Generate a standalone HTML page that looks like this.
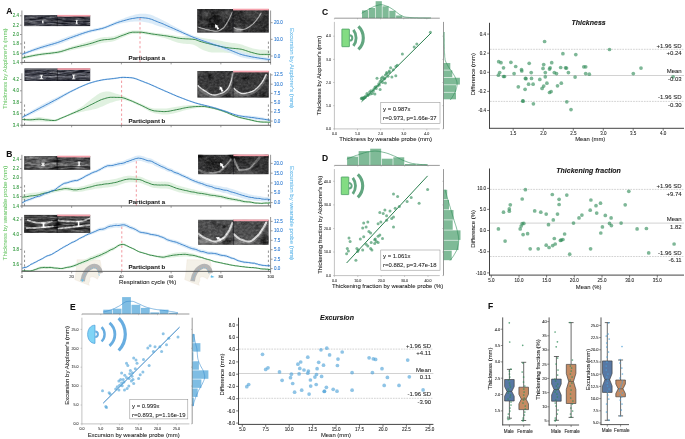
<!DOCTYPE html>
<html><head><meta charset="utf-8"><title>Figure</title>
<style>html,body{margin:0;padding:0;background:#fff;}svg{display:block;}text{font-family:"Liberation Sans",sans-serif;}</style>
</head><body>
<svg width="685" height="439" viewBox="0 0 685 439" style="opacity:0.999">
<rect width="685" height="439" fill="#fff"/>
<defs><filter id="b1" x="-10%" y="-10%" width="120%" height="120%"><feGaussianBlur stdDeviation="0.45"/></filter><filter id="b15" x="-10%" y="-10%" width="120%" height="120%"><feGaussianBlur stdDeviation="0.65"/></filter><filter id="b2" x="-10%" y="-10%" width="120%" height="120%"><feGaussianBlur stdDeviation="0.9"/></filter><filter id="nz" x="0" y="0" width="100%" height="100%"><feTurbulence type="fractalNoise" baseFrequency="0.35 0.5" numOctaves="2" seed="5" result="n"/><feColorMatrix in="n" type="matrix" values="0 0 0 0 1  0 0 0 0 1  0 0 0 0 1  1.1 1.1 0 0 -0.8" result="w"/><feComposite in="w" in2="SourceGraphic" operator="in"/></filter><filter id="nzd" x="0" y="0" width="100%" height="100%"><feTurbulence type="fractalNoise" baseFrequency="0.3 0.45" numOctaves="2" seed="11" result="n"/><feColorMatrix in="n" type="matrix" values="0 0 0 0 0  0 0 0 0 0  0 0 0 0 0  1.1 0 1.1 0 -0.8" result="w"/><feComposite in="w" in2="SourceGraphic" operator="in"/></filter><filter id="nzh" x="0" y="0" width="100%" height="100%"><feTurbulence type="fractalNoise" baseFrequency="0.08 0.6" numOctaves="2" seed="8" result="n"/><feColorMatrix in="n" type="matrix" values="0 0 0 0 1  0 0 0 0 1  0 0 0 0 1  1.2 1.2 0 0 -0.9" result="w"/><feComposite in="w" in2="SourceGraphic" operator="in"/></filter></defs>
<text x="9.40" y="14.20" font-size="8.5" fill="#111" text-anchor="middle" stroke="#111" stroke-width="0.08" font-weight="bold" >A</text>
<text x="9.40" y="157.20" font-size="8.5" fill="#111" text-anchor="middle" stroke="#111" stroke-width="0.08" font-weight="bold" >B</text>
<text x="6.60" y="68.80" font-size="6.05" fill="#72c96f" text-anchor="middle" stroke="#72c96f" stroke-width="0.07" transform="rotate(-90 6.6 68.8)" >Thickness by Aixplorer's (mm)</text>
<text x="6.60" y="213.00" font-size="6.05" fill="#72c96f" text-anchor="middle" stroke="#72c96f" stroke-width="0.07" transform="rotate(-90 6.6 213)" >Thickness by wearable probe (mm)</text>
<text x="289.80" y="68.00" font-size="6.05" fill="#62b8ea" text-anchor="middle" stroke="#62b8ea" stroke-width="0.07" transform="rotate(90 289.8 68)" >Excursion by Aixplorer's (mm)</text>
<text x="289.80" y="213.00" font-size="6.05" fill="#62b8ea" text-anchor="middle" stroke="#62b8ea" stroke-width="0.07" transform="rotate(90 289.8 213)" >Excursion by wearable probe (mm)</text>
<polygon points="22.1,56.5 23.6,56.2 25.0,55.8 26.5,55.5 28.0,55.2 29.5,54.9 30.9,54.6 32.4,54.3 33.9,54.0 35.3,53.7 36.8,53.5 38.3,53.2 39.7,53.0 41.2,52.8 42.7,52.6 44.2,52.4 45.6,52.2 47.1,52.0 48.6,51.9 50.0,51.7 51.5,51.6 53.0,51.4 54.4,51.2 55.9,51.0 57.4,50.7 58.9,50.4 60.3,50.1 61.8,49.6 63.3,49.2 64.7,48.7 66.2,48.2 67.7,47.7 69.2,47.2 70.6,46.7 72.1,46.3 73.6,45.8 75.0,45.4 76.5,45.0 78.0,44.6 79.4,44.2 80.9,43.7 82.4,43.3 83.9,42.9 85.3,42.5 86.8,42.1 88.3,41.6 89.7,41.2 91.2,40.8 92.7,40.3 94.2,39.7 95.6,39.2 97.1,38.7 98.6,38.2 100.0,37.8 101.5,37.5 103.0,37.2 104.4,37.1 105.9,37.0 107.4,36.9 108.9,36.8 110.3,36.7 111.8,36.6 113.3,36.4 114.7,36.1 116.2,35.6 117.7,35.1 119.1,34.5 120.6,34.0 122.1,33.5 123.6,33.0 125.0,32.5 126.5,32.0 128.0,31.5 129.4,31.0 130.9,30.7 132.4,30.5 133.9,30.5 135.3,30.5 136.8,30.6 138.3,30.6 139.7,30.6 141.2,30.6 142.7,30.8 144.1,31.0 145.6,31.2 147.1,31.5 148.6,31.8 150.0,32.1 151.5,32.3 153.0,32.5 154.4,32.7 155.9,32.9 157.4,33.1 158.8,33.3 160.3,33.5 161.8,33.6 163.3,33.8 164.7,34.0 166.2,34.2 167.7,34.4 169.1,34.6 170.6,34.8 172.1,35.0 173.6,35.3 175.0,35.5 176.5,35.7 178.0,35.9 179.4,36.0 180.9,36.2 182.4,36.2 183.8,36.2 185.3,36.2 186.8,36.1 188.3,36.1 189.7,36.0 191.2,36.0 192.7,36.0 194.1,36.0 195.6,36.2 197.1,36.6 198.5,37.0 200.0,37.4 201.5,37.7 203.0,38.0 204.4,38.2 205.9,38.5 207.4,38.7 208.8,38.9 210.3,39.1 211.8,39.4 213.3,39.6 214.7,39.8 216.2,40.1 217.7,40.3 219.1,40.6 220.6,40.8 222.1,41.1 223.5,41.4 225.0,41.7 226.5,42.0 228.0,42.2 229.4,42.4 230.9,42.7 232.4,42.9 233.8,43.1 235.3,43.3 236.8,43.5 238.3,43.7 239.7,44.0 241.2,44.4 242.7,44.8 244.1,45.4 245.6,45.9 247.1,46.5 248.5,47.1 250.0,47.6 251.5,48.1 253.0,48.4 254.4,48.7 255.9,49.1 257.4,49.3 258.8,49.5 260.3,49.7 261.8,49.7 263.2,49.7 264.7,49.8 266.2,49.9 267.7,50.1 269.1,50.3 270.6,50.5 270.6,56.1 269.1,56.2 267.7,56.2 266.2,56.3 264.7,56.4 263.2,56.6 261.8,56.7 260.3,56.9 258.8,56.9 257.4,56.8 255.9,56.7 254.4,56.6 253.0,56.5 251.5,56.3 250.0,56.2 248.5,55.9 247.1,55.6 245.6,55.3 244.1,55.0 242.7,54.6 241.2,54.4 239.7,54.2 238.3,54.1 236.8,53.9 235.3,53.7 233.8,53.6 232.4,53.4 230.9,53.3 229.4,53.1 228.0,53.0 226.5,52.8 225.0,52.7 223.5,52.6 222.1,52.5 220.6,52.5 219.1,52.5 217.7,52.5 216.2,52.5 214.7,52.5 213.3,52.5 211.8,52.4 210.3,52.2 208.8,51.9 207.4,51.6 205.9,51.1 204.4,50.5 203.0,49.9 201.5,49.2 200.0,48.4 198.5,47.5 197.1,46.5 195.6,45.7 194.1,45.0 192.7,44.6 191.2,44.3 189.7,44.1 188.3,44.0 186.8,43.9 185.3,43.8 183.8,43.7 182.4,43.5 180.9,43.3 179.4,43.1 178.0,42.7 176.5,42.3 175.0,41.8 173.6,41.2 172.1,40.7 170.6,40.1 169.1,39.5 167.7,39.0 166.2,38.6 164.7,38.1 163.3,37.7 161.8,37.4 160.3,37.0 158.8,36.7 157.4,36.4 155.9,36.2 154.4,35.9 153.0,35.7 151.5,35.4 150.0,35.2 148.6,34.9 147.1,34.6 145.6,34.4 144.1,34.1 142.7,33.9 141.2,33.8 139.7,33.8 138.3,33.8 136.8,33.9 135.3,33.9 133.9,33.9 132.4,34.0 130.9,34.3 129.4,34.7 128.0,35.2 126.5,35.8 125.0,36.5 123.6,37.1 122.1,37.7 120.6,38.3 119.1,39.0 117.7,39.7 116.2,40.3 114.7,40.9 113.3,41.3 111.8,41.7 110.3,41.9 108.9,42.1 107.4,42.3 105.9,42.4 104.4,42.6 103.0,42.8 101.5,43.1 100.0,43.4 98.6,43.8 97.1,44.3 95.6,44.7 94.2,45.2 92.7,45.6 91.2,46.1 89.7,46.4 88.3,46.7 86.8,47.0 85.3,47.3 83.9,47.6 82.4,47.9 80.9,48.2 79.4,48.5 78.0,48.8 76.5,49.1 75.0,49.4 73.6,49.7 72.1,50.0 70.6,50.4 69.2,50.7 67.7,51.2 66.2,51.6 64.7,52.0 63.3,52.5 61.8,52.9 60.3,53.3 58.9,53.6 57.4,53.9 55.9,54.1 54.4,54.3 53.0,54.5 51.5,54.6 50.0,54.8 48.6,54.9 47.1,55.1 45.6,55.2 44.2,55.4 42.7,55.6 41.2,55.8 39.7,56.0 38.3,56.2 36.8,56.5 35.3,56.7 33.9,57.0 32.4,57.3 30.9,57.6 29.5,57.9 28.0,58.2 26.5,58.5 25.0,58.8 23.6,59.2 22.1,59.5" fill="#dbeedb" opacity="0.85"/>
<polygon points="22.1,52.8 23.6,52.2 25.0,51.6 26.5,51.0 28.0,50.5 29.5,49.9 30.9,49.3 32.4,48.8 33.9,48.2 35.3,47.6 36.8,47.1 38.3,46.6 39.7,46.0 41.2,45.5 42.7,45.0 44.2,44.5 45.6,44.1 47.1,43.6 48.6,43.2 50.0,42.7 51.5,42.3 53.0,41.8 54.4,41.4 55.9,40.9 57.4,40.4 58.9,39.9 60.3,39.4 61.8,38.8 63.3,38.3 64.7,37.7 66.2,37.2 67.7,36.6 69.2,36.1 70.6,35.6 72.1,35.1 73.6,34.6 75.0,34.1 76.5,33.6 78.0,33.1 79.4,32.6 80.9,32.2 82.4,31.7 83.9,31.2 85.3,30.8 86.8,30.4 88.3,30.0 89.7,29.6 91.2,29.2 92.7,28.9 94.2,28.6 95.6,28.3 97.1,28.0 98.6,27.7 100.0,27.4 101.5,27.1 103.0,26.7 104.4,26.2 105.9,25.7 107.4,25.1 108.9,24.5 110.3,23.8 111.8,23.2 113.3,22.5 114.7,21.8 116.2,21.2 117.7,20.6 119.1,20.1 120.6,19.5 122.1,19.0 123.6,18.4 125.0,17.8 126.5,17.3 128.0,16.8 129.4,16.3 130.9,15.8 132.4,15.4 133.9,15.0 135.3,14.6 136.8,14.3 138.3,14.0 139.7,13.8 141.2,13.7 142.7,13.7 144.1,13.7 145.6,13.8 147.1,14.0 148.6,14.2 150.0,14.6 151.5,15.0 153.0,15.6 154.4,16.3 155.9,16.9 157.4,17.6 158.8,18.3 160.3,19.0 161.8,19.7 163.3,20.5 164.7,21.2 166.2,22.0 167.7,22.8 169.1,23.6 170.6,24.4 172.1,25.2 173.6,26.0 175.0,26.8 176.5,27.5 178.0,28.3 179.4,29.1 180.9,29.8 182.4,30.6 183.8,31.3 185.3,32.0 186.8,32.7 188.3,33.4 189.7,34.1 191.2,34.7 192.7,35.3 194.1,35.9 195.6,36.5 197.1,37.0 198.5,37.5 200.0,38.0 201.5,38.5 203.0,39.0 204.4,39.4 205.9,39.9 207.4,40.3 208.8,40.8 210.3,41.2 211.8,41.7 213.3,42.1 214.7,42.5 216.2,42.9 217.7,43.3 219.1,43.7 220.6,44.2 222.1,44.6 223.5,45.0 225.0,45.5 226.5,45.9 228.0,46.5 229.4,47.0 230.9,47.6 232.4,48.2 233.8,48.8 235.3,49.4 236.8,50.0 238.3,50.6 239.7,51.2 241.2,51.7 242.7,52.2 244.1,52.6 245.6,53.0 247.1,53.3 248.5,53.7 250.0,54.0 251.5,54.4 253.0,54.7 254.4,55.0 255.9,55.3 257.4,55.6 258.8,55.9 260.3,56.2 261.8,56.5 263.2,56.8 264.7,57.0 266.2,57.3 267.7,57.5 269.1,57.7 270.6,57.9 270.6,61.3 269.1,61.1 267.7,61.0 266.2,60.9 264.7,60.7 263.2,60.6 261.8,60.4 260.3,60.3 258.8,60.1 257.4,60.0 255.9,59.8 254.4,59.6 253.0,59.4 251.5,59.2 250.0,59.0 248.5,58.7 247.1,58.5 245.6,58.2 244.1,57.9 242.7,57.6 241.2,57.2 239.7,56.7 238.3,56.2 236.8,55.6 235.3,55.0 233.8,54.4 232.4,53.8 230.9,53.1 229.4,52.5 228.0,51.9 226.5,51.3 225.0,50.8 223.5,50.2 222.1,49.7 220.6,49.1 219.1,48.6 217.7,48.1 216.2,47.5 214.7,47.0 213.3,46.5 211.8,45.9 210.3,45.4 208.8,44.8 207.4,44.3 205.9,43.7 204.4,43.2 203.0,42.6 201.5,42.0 200.0,41.5 198.5,40.9 197.1,40.4 195.6,39.8 194.1,39.2 192.7,38.7 191.2,38.1 189.7,37.5 188.3,36.9 186.8,36.2 185.3,35.6 183.8,35.0 182.4,34.4 180.9,33.8 179.4,33.3 178.0,32.7 176.5,32.2 175.0,31.6 173.6,31.1 172.1,30.6 170.6,30.1 169.1,29.6 167.7,29.1 166.2,28.6 164.7,28.1 163.3,27.6 161.8,27.1 160.3,26.7 158.8,26.2 157.4,25.7 155.9,25.2 154.4,24.7 153.0,24.1 151.5,23.6 150.0,23.2 148.6,22.8 147.1,22.5 145.6,22.2 144.1,22.0 142.7,21.8 141.2,21.6 139.7,21.4 138.3,21.4 136.8,21.4 135.3,21.5 133.9,21.6 132.4,21.7 130.9,21.8 129.4,22.0 128.0,22.2 126.5,22.4 125.0,22.7 123.6,23.0 122.1,23.3 120.6,23.6 119.1,24.0 117.7,24.4 116.2,24.8 114.7,25.3 113.3,25.9 111.8,26.4 110.3,27.0 108.9,27.6 107.4,28.2 105.9,28.7 104.4,29.2 103.0,29.7 101.5,30.1 100.0,30.4 98.6,30.8 97.1,31.1 95.6,31.4 94.2,31.7 92.7,32.1 91.2,32.5 89.7,32.9 88.3,33.3 86.8,33.8 85.3,34.3 83.9,34.8 82.4,35.3 80.9,35.9 79.4,36.4 78.0,37.0 76.5,37.5 75.0,38.1 73.6,38.7 72.1,39.2 70.6,39.8 69.2,40.3 67.7,40.9 66.2,41.5 64.7,42.1 63.3,42.7 61.8,43.2 60.3,43.8 58.9,44.3 57.4,44.8 55.9,45.3 54.4,45.7 53.0,46.1 51.5,46.5 50.0,46.9 48.6,47.3 47.1,47.7 45.6,48.1 44.2,48.5 42.7,48.9 41.2,49.3 39.7,49.8 38.3,50.2 36.8,50.7 35.3,51.2 33.9,51.6 32.4,52.1 30.9,52.6 29.5,53.1 28.0,53.6 26.5,54.2 25.0,54.7 23.6,55.2 22.1,55.8" fill="#d5e8f7" opacity="0.85"/>
<line x1="140.00" y1="62.40" x2="140.00" y2="18.11" stroke="#e8525e" stroke-width="0.6" stroke-dasharray="2.4 2.3" />
<line x1="24.55" y1="41.60" x2="24.55" y2="62.40" stroke="#444" stroke-width="0.6" stroke-dasharray="2.3 2.3" />
<line x1="268.40" y1="41.60" x2="268.40" y2="62.40" stroke="#444" stroke-width="0.6" stroke-dasharray="2.3 2.3" />
<polyline points="22.1,58.0 23.6,57.7 25.0,57.3 26.5,57.0 28.0,56.7 29.5,56.4 30.9,56.1 32.4,55.8 33.9,55.5 35.3,55.2 36.8,55.0 38.3,54.7 39.7,54.5 41.2,54.3 42.7,54.1 44.2,53.9 45.6,53.7 47.1,53.6 48.6,53.4 50.0,53.3 51.5,53.1 53.0,52.9 54.4,52.7 55.9,52.5 57.4,52.3 58.9,52.0 60.3,51.7 61.8,51.3 63.3,50.8 64.7,50.4 66.2,49.9 67.7,49.4 69.2,48.9 70.6,48.5 72.1,48.1 73.6,47.7 75.0,47.3 76.5,47.0 78.0,46.6 79.4,46.3 80.9,45.9 82.4,45.6 83.9,45.2 85.3,44.9 86.8,44.5 88.3,44.1 89.7,43.7 91.2,43.3 92.7,42.9 94.2,42.4 95.6,41.9 97.1,41.4 98.6,40.9 100.0,40.5 101.5,40.2 103.0,39.9 104.4,39.7 105.9,39.6 107.4,39.5 108.9,39.4 110.3,39.2 111.8,39.0 113.3,38.8 114.7,38.4 116.2,37.9 117.7,37.3 119.1,36.7 120.6,36.1 122.1,35.5 123.6,35.0 125.0,34.5 126.5,33.9 128.0,33.3 129.4,32.8 130.9,32.5 132.4,32.2 133.9,32.2 135.3,32.2 136.8,32.2 138.3,32.2 139.7,32.2 141.2,32.2 142.7,32.4 144.1,32.6 145.6,32.8 147.1,33.1 148.6,33.4 150.0,33.6 151.5,33.9 153.0,34.1 154.4,34.3 155.9,34.5 157.4,34.7 158.8,34.9 160.3,35.1 161.8,35.3 163.3,35.5 164.7,35.7 166.2,35.9 167.7,36.1 169.1,36.4 170.6,36.7 172.1,36.9 173.6,37.2 175.0,37.5 176.5,37.8 178.0,38.1 179.4,38.3 180.9,38.5 182.4,38.6 183.8,38.7 185.3,38.8 186.8,38.9 188.3,38.9 189.7,39.0 191.2,39.1 192.7,39.2 194.1,39.4 195.6,39.7 197.1,40.2 198.5,40.8 200.0,41.4 201.5,41.8 203.0,42.2 204.4,42.6 205.9,43.0 207.4,43.4 208.8,43.7 210.3,44.1 211.8,44.4 213.3,44.8 214.7,45.1 216.2,45.4 217.7,45.7 219.1,46.0 220.6,46.4 222.1,46.7 223.5,47.0 225.0,47.3 226.5,47.5 228.0,47.8 229.4,48.0 230.9,48.1 232.4,48.3 233.8,48.4 235.3,48.5 236.8,48.7 238.3,48.8 239.7,49.0 241.2,49.2 242.7,49.6 244.1,50.0 245.6,50.5 247.1,51.0 248.5,51.5 250.0,52.0 251.5,52.4 253.0,52.8 254.4,53.2 255.9,53.6 257.4,53.9 258.8,54.2 260.3,54.4 261.8,54.4 263.2,54.4 264.7,54.4 266.2,54.4 267.7,54.4 269.1,54.4 270.6,54.4" fill="none" stroke="#1f7a33" stroke-width="0.88" stroke-linejoin="round"/>
<polyline points="22.1,54.3 23.6,53.7 25.0,53.2 26.5,52.6 28.0,52.0 29.5,51.5 30.9,51.0 32.4,50.4 33.9,49.9 35.3,49.4 36.8,48.9 38.3,48.4 39.7,47.9 41.2,47.4 42.7,47.0 44.2,46.5 45.6,46.1 47.1,45.7 48.6,45.2 50.0,44.8 51.5,44.4 53.0,44.0 54.4,43.5 55.9,43.1 57.4,42.6 58.9,42.1 60.3,41.6 61.8,41.0 63.3,40.5 64.7,39.9 66.2,39.3 67.7,38.8 69.2,38.2 70.6,37.7 72.1,37.2 73.6,36.6 75.0,36.1 76.5,35.6 78.0,35.1 79.4,34.5 80.9,34.0 82.4,33.5 83.9,33.0 85.3,32.5 86.8,32.1 88.3,31.6 89.7,31.2 91.2,30.8 92.7,30.5 94.2,30.2 95.6,29.9 97.1,29.6 98.6,29.3 100.0,28.9 101.5,28.6 103.0,28.2 104.4,27.7 105.9,27.2 107.4,26.6 108.9,26.0 110.3,25.4 111.8,24.8 113.3,24.2 114.7,23.6 116.2,23.0 117.7,22.5 119.1,22.0 120.6,21.6 122.1,21.1 123.6,20.7 125.0,20.3 126.5,19.9 128.0,19.5 129.4,19.1 130.9,18.8 132.4,18.5 133.9,18.3 135.3,18.1 136.8,17.8 138.3,17.7 139.7,17.6 141.2,17.6 142.7,17.7 144.1,17.9 145.6,18.0 147.1,18.2 148.6,18.5 150.0,18.9 151.5,19.3 153.0,19.9 154.4,20.5 155.9,21.1 157.4,21.7 158.8,22.3 160.3,22.8 161.8,23.4 163.3,24.0 164.7,24.7 166.2,25.3 167.7,26.0 169.1,26.6 170.6,27.3 172.1,27.9 173.6,28.6 175.0,29.2 176.5,29.9 178.0,30.5 179.4,31.2 180.9,31.8 182.4,32.5 183.8,33.2 185.3,33.8 186.8,34.5 188.3,35.1 189.7,35.8 191.2,36.4 192.7,37.0 194.1,37.6 195.6,38.1 197.1,38.7 198.5,39.2 200.0,39.8 201.5,40.3 203.0,40.8 204.4,41.3 205.9,41.8 207.4,42.3 208.8,42.8 210.3,43.3 211.8,43.8 213.3,44.3 214.7,44.8 216.2,45.2 217.7,45.7 219.1,46.2 220.6,46.6 222.1,47.1 223.5,47.6 225.0,48.1 226.5,48.6 228.0,49.2 229.4,49.8 230.9,50.4 232.4,51.0 233.8,51.6 235.3,52.2 236.8,52.8 238.3,53.4 239.7,54.0 241.2,54.4 242.7,54.9 244.1,55.2 245.6,55.6 247.1,55.9 248.5,56.2 250.0,56.5 251.5,56.8 253.0,57.1 254.4,57.3 255.9,57.6 257.4,57.8 258.8,58.0 260.3,58.3 261.8,58.5 263.2,58.7 264.7,58.9 266.2,59.1 267.7,59.3 269.1,59.4 270.6,59.6" fill="none" stroke="#2a78c6" stroke-width="0.88" stroke-linejoin="round"/>
<line x1="21.90" y1="10.50" x2="21.90" y2="64.60" stroke="#8a8a8a" stroke-width="0.9" />
<line x1="270.60" y1="10.50" x2="270.60" y2="64.60" stroke="#8a8a8a" stroke-width="0.9" />
<line x1="21.50" y1="62.40" x2="271.00" y2="62.40" stroke="#5a5a5a" stroke-width="0.95" />
<line x1="20.00" y1="15.80" x2="21.60" y2="15.80" stroke="#555" stroke-width="0.6" />
<text x="18.90" y="17.35" font-size="4.5" fill="#2a9636" text-anchor="end" stroke="#2a9636" stroke-width="0.07" >2.4</text>
<line x1="20.00" y1="25.20" x2="21.60" y2="25.20" stroke="#555" stroke-width="0.6" />
<text x="18.90" y="26.75" font-size="4.5" fill="#2a9636" text-anchor="end" stroke="#2a9636" stroke-width="0.07" >2.2</text>
<line x1="20.00" y1="34.50" x2="21.60" y2="34.50" stroke="#555" stroke-width="0.6" />
<text x="18.90" y="36.05" font-size="4.5" fill="#2a9636" text-anchor="end" stroke="#2a9636" stroke-width="0.07" >2.0</text>
<line x1="20.00" y1="43.90" x2="21.60" y2="43.90" stroke="#555" stroke-width="0.6" />
<text x="18.90" y="45.45" font-size="4.5" fill="#2a9636" text-anchor="end" stroke="#2a9636" stroke-width="0.07" >1.8</text>
<line x1="20.00" y1="53.20" x2="21.60" y2="53.20" stroke="#555" stroke-width="0.6" />
<text x="18.90" y="54.75" font-size="4.5" fill="#2a9636" text-anchor="end" stroke="#2a9636" stroke-width="0.07" >1.6</text>
<line x1="20.00" y1="62.60" x2="21.60" y2="62.60" stroke="#555" stroke-width="0.6" />
<text x="18.90" y="64.15" font-size="4.5" fill="#2a9636" text-anchor="end" stroke="#2a9636" stroke-width="0.07" >1.4</text>
<line x1="270.90" y1="22.70" x2="272.60" y2="22.70" stroke="#555" stroke-width="0.6" />
<text x="273.90" y="24.25" font-size="4.5" fill="#1f72cf" text-anchor="start" stroke="#1f72cf" stroke-width="0.07" >20.0</text>
<line x1="270.90" y1="39.30" x2="272.60" y2="39.30" stroke="#555" stroke-width="0.6" />
<text x="273.90" y="40.85" font-size="4.5" fill="#1f72cf" text-anchor="start" stroke="#1f72cf" stroke-width="0.07" >10.0</text>
<line x1="270.90" y1="56.00" x2="272.60" y2="56.00" stroke="#555" stroke-width="0.6" />
<text x="273.90" y="57.55" font-size="4.5" fill="#1f72cf" text-anchor="start" stroke="#1f72cf" stroke-width="0.07" >0.0</text>
<line x1="71.64" y1="62.40" x2="71.64" y2="64.40" stroke="#666" stroke-width="0.6" />
<line x1="121.38" y1="62.40" x2="121.38" y2="64.40" stroke="#666" stroke-width="0.6" />
<line x1="171.12" y1="62.40" x2="171.12" y2="64.40" stroke="#666" stroke-width="0.6" />
<line x1="220.86" y1="62.40" x2="220.86" y2="64.40" stroke="#666" stroke-width="0.6" />
<text x="146.90" y="60.00" font-size="6.1" fill="#222" text-anchor="middle" stroke="#222" stroke-width="0.08" font-weight="bold" >Participant a</text>
<clipPath id="c24_15"><rect x="24.2" y="15.2" width="66" height="10.9"/></clipPath>
<rect x="24.20" y="15.20" width="66.00" height="10.90" fill="#191b27" stroke="none" stroke-width="0" />
<g clip-path="url(#c24_15)">
<g filter="url(#b1)">
<line x1="25.2" y1="18.2" x2="41.1" y2="17.3" stroke="#8a8d98" stroke-width="0.44" opacity="0.39"/>
<line x1="65.5" y1="24.5" x2="88.8" y2="23.7" stroke="#8a8d98" stroke-width="0.72" opacity="0.35"/>
<line x1="25.3" y1="17.6" x2="37.6" y2="18.1" stroke="#8a8d98" stroke-width="0.90" opacity="0.53"/>
<line x1="30.4" y1="23.4" x2="44.6" y2="23.4" stroke="#8a8d98" stroke-width="0.84" opacity="0.55"/>
<line x1="24.2" y1="24.2" x2="44.3" y2="24.2" stroke="#8a8d98" stroke-width="0.70" opacity="0.31"/>
<line x1="24.4" y1="20.4" x2="51.1" y2="20.8" stroke="#8a8d98" stroke-width="0.73" opacity="0.36"/>
<line x1="52.3" y1="24.5" x2="77.9" y2="24.8" stroke="#8a8d98" stroke-width="0.71" opacity="0.39"/>
<line x1="44.1" y1="21.6" x2="55.3" y2="20.9" stroke="#8a8d98" stroke-width="0.89" opacity="0.27"/>
<line x1="55.4" y1="16.4" x2="69.0" y2="16.2" stroke="#8a8d98" stroke-width="0.68" opacity="0.37"/>
<line x1="30.5" y1="25.3" x2="46.8" y2="24.4" stroke="#8a8d98" stroke-width="0.78" opacity="0.35"/>
<line x1="62.4" y1="19.3" x2="76.8" y2="19.1" stroke="#8a8d98" stroke-width="0.94" opacity="0.29"/>
<line x1="32.4" y1="16.6" x2="55.7" y2="16.5" stroke="#8a8d98" stroke-width="0.54" opacity="0.37"/>
<line x1="45.7" y1="17.7" x2="54.6" y2="17.7" stroke="#8a8d98" stroke-width="0.94" opacity="0.58"/>
<line x1="74.7" y1="22.8" x2="83.0" y2="22.2" stroke="#8a8d98" stroke-width="0.98" opacity="0.52"/>
<line x1="73.7" y1="19.8" x2="94.1" y2="20.1" stroke="#8a8d98" stroke-width="0.58" opacity="0.32"/>
<line x1="27.1" y1="20.1" x2="42.7" y2="20.7" stroke="#8a8d98" stroke-width="0.60" opacity="0.25"/>
<line x1="29.0" y1="16.4" x2="52.7" y2="15.9" stroke="#8a8d98" stroke-width="0.57" opacity="0.28"/>
<line x1="43.7" y1="25.1" x2="55.9" y2="24.0" stroke="#8a8d98" stroke-width="0.43" opacity="0.31"/>
<line x1="27.8" y1="22.3" x2="36.7" y2="22.0" stroke="#8a8d98" stroke-width="0.55" opacity="0.60"/>
<line x1="49.8" y1="17.1" x2="73.3" y2="16.7" stroke="#8a8d98" stroke-width="0.99" opacity="0.42"/>
<line x1="42.9" y1="18.2" x2="51.7" y2="17.8" stroke="#8a8d98" stroke-width="0.55" opacity="0.56"/>
<line x1="48.0" y1="23.7" x2="56.7" y2="23.0" stroke="#8a8d98" stroke-width="0.55" opacity="0.32"/>
<polyline points="24.0,21.2 25.4,21.4 26.9,21.5 28.3,21.7 29.7,21.8 31.2,21.9 32.6,22.0 34.0,22.1 35.5,22.2 36.9,22.3 38.3,22.3 39.8,22.3 41.2,22.3 42.7,22.3 44.1,22.3 45.5,22.2 47.0,22.2 48.4,22.1 49.8,22.0 51.3,21.9 52.7,21.8 54.1,21.7 55.6,21.6 57.0,21.4" fill="none" stroke="#9a9ca8" stroke-width="0.7" opacity="0.5" stroke-linecap="round"/>
<polyline points="57.0,21.6 58.4,21.8 59.9,22.1 61.3,22.3 62.7,22.5 64.2,22.6 65.6,22.8 67.0,22.9 68.5,23.0 69.9,23.1 71.3,23.2 72.8,23.2 74.2,23.2 75.7,23.2 77.1,23.2 78.5,23.1 80.0,23.1 81.4,23.0 82.8,22.9 84.3,22.8 85.7,22.7 87.1,22.6 88.6,22.4 90.0,22.2" fill="none" stroke="#9a9ca8" stroke-width="0.7" opacity="0.5" stroke-linecap="round"/>
</g>
<rect x="24.2" y="15.2" width="66" height="10.9" fill="#fff" filter="url(#nzh)" opacity="0.5"/>
<rect x="24.2" y="15.2" width="66" height="10.9" fill="#000" filter="url(#nzd)" opacity="0.4"/>
</g>
<line x1="57.20" y1="15.20" x2="57.20" y2="26.10" stroke="#0c0c10" stroke-width="0.6" />
<rect x="57.20" y="14.90" width="33.00" height="1.70" fill="#f6a2ad" stroke="none" stroke-width="0" />
<line x1="42.80" y1="21.00" x2="42.80" y2="22.80" stroke="#fff" stroke-width="1.1" />
<line x1="42.00" y1="21.00" x2="43.60" y2="21.00" stroke="#fff" stroke-width="0.8" />
<line x1="42.00" y1="22.80" x2="43.60" y2="22.80" stroke="#fff" stroke-width="0.8" />
<line x1="76.70" y1="20.40" x2="76.70" y2="23.40" stroke="#fff" stroke-width="1.2" />
<line x1="75.70" y1="20.40" x2="77.70" y2="20.40" stroke="#fff" stroke-width="0.8" />
<line x1="75.70" y1="23.40" x2="77.70" y2="23.40" stroke="#fff" stroke-width="0.8" />
<clipPath id="c197_9"><rect x="197.2" y="9.0" width="71.6" height="23.6"/></clipPath>
<rect x="197.20" y="9.00" width="71.60" height="23.60" fill="#222223" stroke="none" stroke-width="0" />
<g clip-path="url(#c197_9)">
<g filter="url(#b2)">
<ellipse cx="212" cy="20" rx="8" ry="7" fill="#080808" opacity="0.85"/>
<ellipse cx="226" cy="15" rx="6" ry="4" fill="#484848" opacity="0.6"/>
<ellipse cx="254" cy="15" rx="11" ry="5" fill="#4a4a4a" opacity="0.6"/>
<ellipse cx="252" cy="27" rx="9" ry="3" fill="#404040" opacity="0.5"/>
<ellipse cx="238" cy="30" rx="4.5" ry="2.2" fill="#c0c0c0" opacity="0.75"/>
<ellipse cx="204" cy="30.5" rx="7" ry="1.8" fill="#7a7a7a" opacity="0.6"/>
<ellipse cx="220.4" cy="12.6" rx="4.6" ry="1.1" fill="#777" opacity="0.45"/>
<ellipse cx="203.9" cy="22.8" rx="5.6" ry="1.4" fill="#6a6a6a" opacity="0.45"/>
<ellipse cx="228.2" cy="10.6" rx="2.4" ry="1.8" fill="#777" opacity="0.45"/>
<ellipse cx="206.1" cy="14.3" rx="4.5" ry="2.9" fill="#777" opacity="0.45"/>
<ellipse cx="239.1" cy="10.2" rx="2.9" ry="2.1" fill="#101010" opacity="0.45"/>
<ellipse cx="217.9" cy="12.4" rx="2.5" ry="1.6" fill="#101010" opacity="0.45"/>
<ellipse cx="204.6" cy="22.5" rx="2.8" ry="1.2" fill="#6a6a6a" opacity="0.45"/>
<ellipse cx="237.6" cy="23.6" rx="4.0" ry="2.1" fill="#555" opacity="0.45"/>
</g>
<g filter="url(#b15)">
<polyline points="197.9,26.9 199.4,27.4 200.9,27.9 202.4,28.4 203.9,28.8 205.4,29.2 206.9,29.5 208.4,29.9 209.9,30.3 211.4,30.6 212.9,30.9 214.4,31.2 215.8,31.3 217.3,31.2 218.8,30.7 220.3,30.0 221.8,29.0 223.3,28.0 224.8,26.3 226.3,24.0 227.8,21.5 229.3,18.8 230.8,15.6 232.3,12.0" fill="none" stroke="#c4c4c4" stroke-width="1.1" opacity="0.85" stroke-linecap="round"/>
<polyline points="234.0,27.6 235.2,28.2 236.3,28.7 237.5,29.1 238.7,29.3 239.9,29.5 241.0,29.6 242.2,29.6 243.4,29.5 244.6,29.2 245.7,28.8 246.9,28.2 248.1,27.5 249.3,26.8 250.4,26.0 251.6,25.1 252.8,24.1 254.0,22.9 255.1,21.6 256.3,20.3 257.5,18.7 258.7,17.0 259.8,15.1 261.0,13.1" fill="none" stroke="#c8c8c8" stroke-width="1.2" opacity="0.85" stroke-linecap="round"/>
</g>
<rect x="197.2" y="9.0" width="71.6" height="23.6" fill="#fff" filter="url(#nz)" opacity="0.22"/>
<rect x="197.2" y="9.0" width="71.6" height="23.6" fill="#000" filter="url(#nzd)" opacity="0.17600000000000002"/>
</g>
<line x1="233.00" y1="9.00" x2="233.00" y2="32.60" stroke="#0c0c10" stroke-width="0.6" />
<rect x="233.00" y="8.70" width="35.80" height="1.70" fill="#f6a2ad" stroke="none" stroke-width="0" />
<path d="M0,0 L2.0,3.4 L0.75,3.1 L1.05,6.0 L-1.05,6.0 L-0.75,3.1 L-2.0,3.4 Z" fill="#fff" transform="translate(215.0,24.3) rotate(-35)"/>
<polygon points="22.1,118.4 23.6,118.5 25.0,118.5 26.5,118.5 28.0,118.4 29.5,118.3 30.9,118.2 32.4,118.0 33.9,117.8 35.3,117.5 36.8,117.3 38.3,117.1 39.7,117.1 41.2,117.2 42.7,117.4 44.2,117.7 45.6,118.0 47.1,118.3 48.6,118.5 50.0,118.8 51.5,119.0 53.0,119.2 54.4,119.3 55.9,119.2 57.4,118.7 58.9,118.1 60.3,117.5 61.8,116.9 63.3,116.3 64.7,115.7 66.2,115.1 67.7,114.4 69.2,113.7 70.6,113.0 72.1,112.3 73.6,111.5 75.0,110.8 76.5,110.0 78.0,109.1 79.4,108.2 80.9,107.3 82.4,106.2 83.9,105.2 85.3,104.0 86.8,102.8 88.3,101.6 89.7,100.4 91.2,99.2 92.7,98.1 94.2,97.0 95.6,95.9 97.1,94.8 98.6,93.9 100.0,93.1 101.5,92.5 103.0,92.1 104.4,91.8 105.9,91.6 107.4,91.5 108.9,91.5 110.3,91.8 111.8,92.3 113.3,92.7 114.7,93.2 116.2,93.7 117.7,94.1 119.1,94.5 120.6,94.9 122.1,95.3 123.6,95.9 125.0,96.6 126.5,97.3 128.0,98.0 129.4,98.7 130.9,99.3 132.4,100.0 133.9,100.6 135.3,101.3 136.8,102.0 138.3,102.6 139.7,103.2 141.2,103.8 142.7,104.4 144.1,105.1 145.6,105.7 147.1,106.4 148.6,107.0 150.0,107.5 151.5,108.0 153.0,108.3 154.4,108.5 155.9,108.5 157.4,108.6 158.8,108.6 160.3,108.6 161.8,108.6 163.3,108.6 164.7,108.6 166.2,108.5 167.7,108.3 169.1,108.1 170.6,107.8 172.1,107.6 173.6,107.3 175.0,107.0 176.5,106.8 178.0,106.5 179.4,106.3 180.9,106.1 182.4,105.8 183.8,105.6 185.3,105.4 186.8,105.2 188.3,105.1 189.7,105.0 191.2,105.0 192.7,105.0 194.1,105.0 195.6,105.0 197.1,105.0 198.5,105.0 200.0,105.0 201.5,105.1 203.0,105.1 204.4,105.3 205.9,105.6 207.4,105.8 208.8,106.2 210.3,106.5 211.8,106.8 213.3,107.2 214.7,107.6 216.2,108.0 217.7,108.4 219.1,108.9 220.6,109.4 222.1,109.9 223.5,110.4 225.0,110.9 226.5,111.5 228.0,112.1 229.4,112.8 230.9,113.4 232.4,114.1 233.8,114.7 235.3,115.2 236.8,115.7 238.3,116.2 239.7,116.5 241.2,116.9 242.7,117.3 244.1,117.6 245.6,117.9 247.1,118.3 248.5,118.6 250.0,118.9 251.5,119.3 253.0,119.6 254.4,120.0 255.9,120.3 257.4,120.6 258.8,120.8 260.3,121.0 261.8,121.1 263.2,121.2 264.7,121.2 266.2,121.2 267.7,121.3 269.1,121.3 270.6,121.3 270.6,123.1 269.1,123.1 267.7,123.1 266.2,123.0 264.7,123.0 263.2,123.0 261.8,122.9 260.3,122.8 258.8,122.6 257.4,122.4 255.9,122.1 254.4,121.8 253.0,121.4 251.5,121.1 250.0,120.7 248.5,120.4 247.1,120.1 245.6,119.7 244.1,119.4 242.7,119.1 241.2,118.7 239.7,118.4 238.3,118.0 236.8,117.5 235.3,117.0 233.8,116.5 232.4,115.9 230.9,115.2 229.4,114.6 228.0,114.0 226.5,113.3 225.0,112.8 223.5,112.3 222.1,111.8 220.6,111.3 219.1,110.8 217.7,110.3 216.2,109.9 214.7,109.5 213.3,109.2 211.8,108.9 210.3,108.6 208.8,108.4 207.4,108.1 205.9,107.9 204.4,107.8 203.0,107.7 201.5,107.8 200.0,107.8 198.5,108.0 197.1,108.1 195.6,108.3 194.1,108.5 192.7,108.7 191.2,108.9 189.7,109.2 188.3,109.4 186.8,109.8 185.3,110.2 183.8,110.6 182.4,111.1 180.9,111.5 179.4,111.9 178.0,112.3 176.5,112.7 175.0,113.0 173.6,113.4 172.1,113.7 170.6,114.0 169.1,114.3 167.7,114.5 166.2,114.6 164.7,114.6 163.3,114.5 161.8,114.4 160.3,114.2 158.8,114.0 157.4,113.8 155.9,113.5 154.4,113.2 153.0,112.8 151.5,112.3 150.0,111.7 148.6,110.9 147.1,110.1 145.6,109.3 144.1,108.4 142.7,107.6 141.2,106.8 139.7,106.1 138.3,105.4 136.8,104.7 135.3,104.0 133.9,103.3 132.4,102.6 130.9,102.1 129.4,101.6 128.0,101.1 126.5,100.7 125.0,100.3 123.6,100.0 122.1,99.9 120.6,100.1 119.1,100.4 117.7,100.7 116.2,101.1 114.7,101.5 113.3,101.9 111.8,102.4 110.3,102.8 108.9,103.4 107.4,104.1 105.9,104.8 104.4,105.5 103.0,106.2 101.5,106.7 100.0,107.3 98.6,107.9 97.1,108.4 95.6,108.9 94.2,109.3 92.7,109.6 91.2,109.9 89.7,110.2 88.3,110.5 86.8,110.8 85.3,111.1 83.9,111.5 82.4,111.8 80.9,112.1 79.4,112.5 78.0,112.9 76.5,113.3 75.0,113.8 73.6,114.3 72.1,114.8 70.6,115.3 69.2,115.9 67.7,116.5 66.2,117.1 64.7,117.7 63.3,118.3 61.8,118.9 60.3,119.5 58.9,120.2 57.4,120.9 55.9,121.4 54.4,121.7 53.0,121.7 51.5,121.8 50.0,121.8 48.6,121.8 47.1,121.7 45.6,121.7 44.2,121.6 42.7,121.5 41.2,121.4 39.7,121.3 38.3,121.3 36.8,121.3 35.3,121.4 33.9,121.4 32.4,121.4 30.9,121.4 29.5,121.2 28.0,121.1 26.5,121.0 25.0,120.8 23.6,120.6 22.1,120.4" fill="#dbeedb" opacity="0.85"/>
<polygon points="22.1,116.1 23.6,115.2 25.0,114.4 26.5,113.6 28.0,112.7 29.5,111.8 30.9,111.0 32.4,110.1 33.9,109.3 35.3,108.4 36.8,107.6 38.3,106.8 39.7,105.9 41.2,105.1 42.7,104.3 44.2,103.6 45.6,102.8 47.1,102.0 48.6,101.3 50.0,100.6 51.5,99.8 53.0,99.1 54.4,98.4 55.9,97.7 57.4,97.0 58.9,96.3 60.3,95.6 61.8,94.8 63.3,94.1 64.7,93.3 66.2,92.6 67.7,91.9 69.2,91.1 70.6,90.4 72.1,89.8 73.6,89.1 75.0,88.4 76.5,87.8 78.0,87.1 79.4,86.4 80.9,85.8 82.4,85.1 83.9,84.5 85.3,83.9 86.8,83.3 88.3,82.8 89.7,82.3 91.2,81.9 92.7,81.4 94.2,81.0 95.6,80.6 97.1,80.2 98.6,79.9 100.0,79.6 101.5,79.3 103.0,79.0 104.4,78.8 105.9,78.6 107.4,78.4 108.9,78.3 110.3,78.1 111.8,77.9 113.3,77.8 114.7,77.6 116.2,77.4 117.7,77.2 119.1,76.9 120.6,76.7 122.1,76.6 123.6,76.6 125.0,76.6 126.5,76.7 128.0,76.7 129.4,76.8 130.9,76.9 132.4,77.1 133.9,77.4 135.3,77.8 136.8,78.3 138.3,78.9 139.7,79.5 141.2,80.1 142.7,80.6 144.1,81.2 145.6,81.8 147.1,82.3 148.6,82.9 150.0,83.5 151.5,84.2 153.0,84.8 154.4,85.5 155.9,86.1 157.4,86.8 158.8,87.5 160.3,88.1 161.8,88.8 163.3,89.4 164.7,90.1 166.2,90.7 167.7,91.3 169.1,92.0 170.6,92.6 172.1,93.3 173.6,93.9 175.0,94.5 176.5,95.2 178.0,95.8 179.4,96.3 180.9,96.9 182.4,97.5 183.8,98.0 185.3,98.6 186.8,99.2 188.3,99.7 189.7,100.2 191.2,100.7 192.7,101.2 194.1,101.7 195.6,102.2 197.1,102.6 198.5,103.0 200.0,103.4 201.5,103.8 203.0,104.1 204.4,104.5 205.9,104.8 207.4,105.2 208.8,105.5 210.3,105.9 211.8,106.3 213.3,106.7 214.7,107.1 216.2,107.5 217.7,108.0 219.1,108.5 220.6,108.9 222.1,109.4 223.5,109.8 225.0,110.3 226.5,110.8 228.0,111.3 229.4,111.9 230.9,112.4 232.4,112.9 233.8,113.4 235.3,113.8 236.8,114.2 238.3,114.5 239.7,114.7 241.2,114.9 242.7,115.1 244.1,115.2 245.6,115.3 247.1,115.4 248.5,115.5 250.0,115.6 251.5,115.7 253.0,115.9 254.4,116.0 255.9,116.3 257.4,116.5 258.8,116.7 260.3,117.0 261.8,117.3 263.2,117.6 264.7,117.9 266.2,118.2 267.7,118.5 269.1,118.9 270.6,119.2 270.6,121.4 269.1,121.3 267.7,121.1 266.2,121.0 264.7,120.8 263.2,120.7 261.8,120.5 260.3,120.4 258.8,120.2 257.4,120.0 255.9,119.9 254.4,119.6 253.0,119.4 251.5,119.2 250.0,119.0 248.5,118.7 247.1,118.5 245.6,118.2 244.1,118.0 242.7,117.7 241.2,117.4 239.7,117.1 238.3,116.7 236.8,116.3 235.3,115.8 233.8,115.3 232.4,114.7 230.9,114.1 229.4,113.6 228.0,113.0 226.5,112.5 225.0,112.0 223.5,111.5 222.1,111.0 220.6,110.5 219.1,110.1 217.7,109.6 216.2,109.1 214.7,108.7 213.3,108.3 211.8,107.9 210.3,107.5 208.8,107.1 207.4,106.8 205.9,106.4 204.4,106.1 203.0,105.7 201.5,105.4 200.0,105.0 198.5,104.6 197.1,104.2 195.6,103.8 194.1,103.3 192.7,102.8 191.2,102.3 189.7,101.8 188.3,101.3 186.8,100.8 185.3,100.2 183.8,99.6 182.4,99.1 180.9,98.5 179.4,97.9 178.0,97.4 176.5,96.8 175.0,96.1 173.6,95.5 172.1,94.9 170.6,94.2 169.1,93.6 167.7,92.9 166.2,92.3 164.7,91.7 163.3,91.0 161.8,90.4 160.3,89.7 158.8,89.1 157.4,88.4 155.9,87.7 154.4,87.1 153.0,86.4 151.5,85.8 150.0,85.1 148.6,84.5 147.1,83.9 145.6,83.4 144.1,82.8 142.7,82.2 141.2,81.7 139.7,81.1 138.3,80.5 136.8,79.9 135.3,79.4 133.9,79.0 132.4,78.7 130.9,78.5 129.4,78.4 128.0,78.3 126.5,78.3 125.0,78.2 123.6,78.2 122.1,78.2 120.6,78.3 119.1,78.5 117.7,78.8 116.2,79.0 114.7,79.2 113.3,79.4 111.8,79.5 110.3,79.7 108.9,79.9 107.4,80.0 105.9,80.2 104.4,80.4 103.0,80.6 101.5,80.9 100.0,81.2 98.6,81.5 97.1,81.8 95.6,82.2 94.2,82.6 92.7,83.1 91.2,83.5 89.7,84.0 88.3,84.5 86.8,85.0 85.3,85.6 83.9,86.2 82.4,86.9 80.9,87.6 79.4,88.3 78.0,89.0 76.5,89.7 75.0,90.5 73.6,91.3 72.1,92.0 70.6,92.8 69.2,93.6 67.7,94.5 66.2,95.4 64.7,96.3 63.3,97.2 61.8,98.1 60.3,99.0 58.9,99.9 57.4,100.8 55.9,101.7 54.4,102.5 53.0,103.4 51.5,104.2 50.0,105.0 48.6,105.8 47.1,106.6 45.6,107.4 44.2,108.1 42.7,108.9 41.2,109.6 39.7,110.4 38.3,111.1 36.8,111.8 35.3,112.5 33.9,113.2 32.4,113.9 30.9,114.6 29.5,115.3 28.0,115.9 26.5,116.6 25.0,117.3 23.6,118.0 22.1,118.7" fill="#d5e8f7" opacity="0.85"/>
<line x1="121.60" y1="125.30" x2="121.60" y2="77.96" stroke="#e8525e" stroke-width="0.6" stroke-dasharray="2.4 2.3" />
<line x1="24.55" y1="104.50" x2="24.55" y2="125.30" stroke="#444" stroke-width="0.6" stroke-dasharray="2.3 2.3" />
<line x1="268.40" y1="104.50" x2="268.40" y2="125.30" stroke="#444" stroke-width="0.6" stroke-dasharray="2.3 2.3" />
<polyline points="22.1,119.4 23.6,119.5 25.0,119.6 26.5,119.7 28.0,119.8 29.5,119.8 30.9,119.8 32.4,119.7 33.9,119.6 35.3,119.4 36.8,119.3 38.3,119.2 39.7,119.2 41.2,119.3 42.7,119.5 44.2,119.7 45.6,119.9 47.1,120.0 48.6,120.1 50.0,120.3 51.5,120.4 53.0,120.5 54.4,120.5 55.9,120.3 57.4,119.8 58.9,119.2 60.3,118.5 61.8,117.9 63.3,117.3 64.7,116.7 66.2,116.1 67.7,115.4 69.2,114.8 70.6,114.2 72.1,113.5 73.6,112.9 75.0,112.3 76.5,111.6 78.0,111.0 79.4,110.4 80.9,109.7 82.4,109.0 83.9,108.3 85.3,107.6 86.8,106.8 88.3,106.1 89.7,105.3 91.2,104.6 92.7,103.9 94.2,103.1 95.6,102.4 97.1,101.6 98.6,100.9 100.0,100.2 101.5,99.6 103.0,99.1 104.4,98.7 105.9,98.2 107.4,97.8 108.9,97.5 110.3,97.3 111.8,97.3 113.3,97.3 114.7,97.3 116.2,97.4 117.7,97.4 119.1,97.4 120.6,97.5 122.1,97.6 123.6,98.0 125.0,98.4 126.5,99.0 128.0,99.6 129.4,100.1 130.9,100.7 132.4,101.3 133.9,102.0 135.3,102.6 136.8,103.3 138.3,104.0 139.7,104.6 141.2,105.3 142.7,106.0 144.1,106.7 145.6,107.5 147.1,108.2 148.6,109.0 150.0,109.6 151.5,110.1 153.0,110.6 154.4,110.9 155.9,111.0 157.4,111.2 158.8,111.3 160.3,111.4 161.8,111.5 163.3,111.6 164.7,111.6 166.2,111.5 167.7,111.4 169.1,111.2 170.6,110.9 172.1,110.6 173.6,110.3 175.0,110.0 176.5,109.7 178.0,109.4 179.4,109.1 180.9,108.8 182.4,108.4 183.8,108.1 185.3,107.8 186.8,107.5 188.3,107.3 189.7,107.1 191.2,107.0 192.7,106.8 194.1,106.7 195.6,106.6 197.1,106.5 198.5,106.5 200.0,106.4 201.5,106.4 203.0,106.4 204.4,106.5 205.9,106.7 207.4,107.0 208.8,107.3 210.3,107.6 211.8,107.9 213.3,108.2 214.7,108.6 216.2,109.0 217.7,109.4 219.1,109.9 220.6,110.3 222.1,110.8 223.5,111.3 225.0,111.9 226.5,112.4 228.0,113.0 229.4,113.7 230.9,114.3 232.4,115.0 233.8,115.6 235.3,116.1 236.8,116.6 238.3,117.1 239.7,117.5 241.2,117.8 242.7,118.2 244.1,118.5 245.6,118.8 247.1,119.2 248.5,119.5 250.0,119.8 251.5,120.2 253.0,120.5 254.4,120.9 255.9,121.2 257.4,121.5 258.8,121.7 260.3,121.9 261.8,122.0 263.2,122.1 264.7,122.1 266.2,122.1 267.7,122.2 269.1,122.2 270.6,122.2" fill="none" stroke="#1f7a33" stroke-width="0.88" stroke-linejoin="round"/>
<polyline points="22.1,117.4 23.6,116.6 25.0,115.9 26.5,115.1 28.0,114.3 29.5,113.6 30.9,112.8 32.4,112.0 33.9,111.2 35.3,110.5 36.8,109.7 38.3,108.9 39.7,108.2 41.2,107.4 42.7,106.6 44.2,105.9 45.6,105.1 47.1,104.3 48.6,103.6 50.0,102.8 51.5,102.0 53.0,101.2 54.4,100.5 55.9,99.7 57.4,98.9 58.9,98.1 60.3,97.3 61.8,96.5 63.3,95.6 64.7,94.8 66.2,94.0 67.7,93.2 69.2,92.4 70.6,91.6 72.1,90.9 73.6,90.2 75.0,89.5 76.5,88.7 78.0,88.0 79.4,87.3 80.9,86.7 82.4,86.0 83.9,85.4 85.3,84.8 86.8,84.2 88.3,83.6 89.7,83.1 91.2,82.7 92.7,82.2 94.2,81.8 95.6,81.4 97.1,81.0 98.6,80.7 100.0,80.4 101.5,80.1 103.0,79.8 104.4,79.6 105.9,79.4 107.4,79.2 108.9,79.1 110.3,78.9 111.8,78.7 113.3,78.6 114.7,78.4 116.2,78.2 117.7,78.0 119.1,77.7 120.6,77.5 122.1,77.4 123.6,77.4 125.0,77.4 126.5,77.5 128.0,77.5 129.4,77.6 130.9,77.7 132.4,77.9 133.9,78.2 135.3,78.6 136.8,79.1 138.3,79.7 139.7,80.3 141.2,80.9 142.7,81.4 144.1,82.0 145.6,82.6 147.1,83.1 148.6,83.7 150.0,84.3 151.5,85.0 153.0,85.6 154.4,86.3 155.9,86.9 157.4,87.6 158.8,88.3 160.3,88.9 161.8,89.6 163.3,90.2 164.7,90.9 166.2,91.5 167.7,92.1 169.1,92.8 170.6,93.4 172.1,94.1 173.6,94.7 175.0,95.3 176.5,96.0 178.0,96.6 179.4,97.1 180.9,97.7 182.4,98.3 183.8,98.8 185.3,99.4 186.8,100.0 188.3,100.5 189.7,101.0 191.2,101.5 192.7,102.0 194.1,102.5 195.6,103.0 197.1,103.4 198.5,103.8 200.0,104.2 201.5,104.6 203.0,104.9 204.4,105.3 205.9,105.6 207.4,106.0 208.8,106.3 210.3,106.7 211.8,107.1 213.3,107.5 214.7,107.9 216.2,108.3 217.7,108.8 219.1,109.3 220.6,109.7 222.1,110.2 223.5,110.7 225.0,111.1 226.5,111.6 228.0,112.2 229.4,112.7 230.9,113.3 232.4,113.8 233.8,114.3 235.3,114.8 236.8,115.2 238.3,115.6 239.7,115.9 241.2,116.1 242.7,116.4 244.1,116.6 245.6,116.8 247.1,116.9 248.5,117.1 250.0,117.3 251.5,117.5 253.0,117.6 254.4,117.8 255.9,118.1 257.4,118.3 258.8,118.5 260.3,118.7 261.8,118.9 263.2,119.1 264.7,119.4 266.2,119.6 267.7,119.8 269.1,120.1 270.6,120.3" fill="none" stroke="#2a78c6" stroke-width="0.88" stroke-linejoin="round"/>
<line x1="21.90" y1="73.30" x2="21.90" y2="127.50" stroke="#8a8a8a" stroke-width="0.9" />
<line x1="270.60" y1="73.30" x2="270.60" y2="127.50" stroke="#8a8a8a" stroke-width="0.9" />
<line x1="21.50" y1="125.30" x2="271.00" y2="125.30" stroke="#5a5a5a" stroke-width="0.95" />
<line x1="20.00" y1="79.50" x2="21.60" y2="79.50" stroke="#555" stroke-width="0.6" />
<text x="18.90" y="81.05" font-size="4.5" fill="#2a9636" text-anchor="end" stroke="#2a9636" stroke-width="0.07" >4.2</text>
<line x1="20.00" y1="90.80" x2="21.60" y2="90.80" stroke="#555" stroke-width="0.6" />
<text x="18.90" y="92.35" font-size="4.5" fill="#2a9636" text-anchor="end" stroke="#2a9636" stroke-width="0.07" >4.0</text>
<line x1="20.00" y1="102.30" x2="21.60" y2="102.30" stroke="#555" stroke-width="0.6" />
<text x="18.90" y="103.85" font-size="4.5" fill="#2a9636" text-anchor="end" stroke="#2a9636" stroke-width="0.07" >3.8</text>
<line x1="20.00" y1="113.70" x2="21.60" y2="113.70" stroke="#555" stroke-width="0.6" />
<text x="18.90" y="115.25" font-size="4.5" fill="#2a9636" text-anchor="end" stroke="#2a9636" stroke-width="0.07" >3.6</text>
<line x1="20.00" y1="125.20" x2="21.60" y2="125.20" stroke="#555" stroke-width="0.6" />
<text x="18.90" y="126.75" font-size="4.5" fill="#2a9636" text-anchor="end" stroke="#2a9636" stroke-width="0.07" >3.4</text>
<line x1="270.90" y1="74.90" x2="272.60" y2="74.90" stroke="#555" stroke-width="0.6" />
<text x="273.90" y="76.45" font-size="4.5" fill="#1f72cf" text-anchor="start" stroke="#1f72cf" stroke-width="0.07" >12.5</text>
<line x1="270.90" y1="84.20" x2="272.60" y2="84.20" stroke="#555" stroke-width="0.6" />
<text x="273.90" y="85.75" font-size="4.5" fill="#1f72cf" text-anchor="start" stroke="#1f72cf" stroke-width="0.07" >10.0</text>
<line x1="270.90" y1="93.40" x2="272.60" y2="93.40" stroke="#555" stroke-width="0.6" />
<text x="273.90" y="94.95" font-size="4.5" fill="#1f72cf" text-anchor="start" stroke="#1f72cf" stroke-width="0.07" >7.5</text>
<line x1="270.90" y1="102.70" x2="272.60" y2="102.70" stroke="#555" stroke-width="0.6" />
<text x="273.90" y="104.25" font-size="4.5" fill="#1f72cf" text-anchor="start" stroke="#1f72cf" stroke-width="0.07" >5.0</text>
<line x1="270.90" y1="111.90" x2="272.60" y2="111.90" stroke="#555" stroke-width="0.6" />
<text x="273.90" y="113.45" font-size="4.5" fill="#1f72cf" text-anchor="start" stroke="#1f72cf" stroke-width="0.07" >2.5</text>
<line x1="270.90" y1="121.10" x2="272.60" y2="121.10" stroke="#555" stroke-width="0.6" />
<text x="273.90" y="122.65" font-size="4.5" fill="#1f72cf" text-anchor="start" stroke="#1f72cf" stroke-width="0.07" >0.0</text>
<line x1="71.64" y1="125.30" x2="71.64" y2="127.30" stroke="#666" stroke-width="0.6" />
<line x1="121.38" y1="125.30" x2="121.38" y2="127.30" stroke="#666" stroke-width="0.6" />
<line x1="171.12" y1="125.30" x2="171.12" y2="127.30" stroke="#666" stroke-width="0.6" />
<line x1="220.86" y1="125.30" x2="220.86" y2="127.30" stroke="#666" stroke-width="0.6" />
<text x="146.90" y="122.90" font-size="6.1" fill="#222" text-anchor="middle" stroke="#222" stroke-width="0.08" font-weight="bold" >Participant b</text>
<clipPath id="c24_68"><rect x="24.5" y="68.5" width="65.7" height="12.5"/></clipPath>
<rect x="24.50" y="68.50" width="65.70" height="12.50" fill="#1b1d2a" stroke="none" stroke-width="0" />
<g clip-path="url(#c24_68)">
<g filter="url(#b1)">
<line x1="41.0" y1="74.3" x2="51.8" y2="74.7" stroke="#8a8d98" stroke-width="0.40" opacity="0.43"/>
<line x1="24.2" y1="79.1" x2="43.2" y2="79.0" stroke="#8a8d98" stroke-width="0.42" opacity="0.38"/>
<line x1="45.5" y1="77.0" x2="68.0" y2="76.1" stroke="#8a8d98" stroke-width="0.54" opacity="0.29"/>
<line x1="72.7" y1="74.8" x2="92.5" y2="75.0" stroke="#8a8d98" stroke-width="0.63" opacity="0.51"/>
<line x1="36.3" y1="70.4" x2="57.7" y2="70.5" stroke="#8a8d98" stroke-width="0.65" opacity="0.28"/>
<line x1="31.6" y1="72.2" x2="45.2" y2="72.5" stroke="#8a8d98" stroke-width="0.52" opacity="0.56"/>
<line x1="22.7" y1="78.9" x2="38.2" y2="78.6" stroke="#8a8d98" stroke-width="0.41" opacity="0.40"/>
<line x1="25.9" y1="79.2" x2="45.9" y2="78.2" stroke="#8a8d98" stroke-width="0.75" opacity="0.56"/>
<line x1="20.0" y1="71.5" x2="29.6" y2="71.3" stroke="#8a8d98" stroke-width="0.41" opacity="0.28"/>
<line x1="72.5" y1="74.7" x2="88.9" y2="74.2" stroke="#8a8d98" stroke-width="0.78" opacity="0.28"/>
<line x1="29.4" y1="75.6" x2="49.6" y2="76.1" stroke="#8a8d98" stroke-width="0.43" opacity="0.44"/>
<line x1="28.1" y1="75.9" x2="41.5" y2="76.5" stroke="#8a8d98" stroke-width="1.00" opacity="0.29"/>
<line x1="74.2" y1="77.0" x2="87.0" y2="76.9" stroke="#8a8d98" stroke-width="0.43" opacity="0.38"/>
<line x1="53.5" y1="76.6" x2="77.0" y2="75.6" stroke="#8a8d98" stroke-width="0.61" opacity="0.55"/>
<line x1="45.5" y1="75.7" x2="61.5" y2="76.2" stroke="#8a8d98" stroke-width="0.74" opacity="0.26"/>
<line x1="38.4" y1="78.0" x2="55.1" y2="77.2" stroke="#8a8d98" stroke-width="0.67" opacity="0.36"/>
<polyline points="25.0,74.0 26.0,73.8 26.9,73.7 27.9,73.5 28.8,73.3 29.8,73.1 30.7,73.0 31.7,72.8 32.7,72.6 33.6,72.4 34.6,72.3 35.5,72.1 36.5,71.9 37.4,71.7 38.4,71.6 39.3,71.4 40.3,71.2 41.3,71.0 42.2,70.9 43.2,70.7 44.1,70.5 45.1,70.3 46.0,70.2 47.0,70.0" fill="none" stroke="#8f92a2" stroke-width="1.0" opacity="0.55" stroke-linecap="round"/>
<polyline points="25.0,76.5 26.4,76.6 27.8,76.7 29.2,76.8 30.6,76.8 32.0,76.9 33.3,76.9 34.7,76.9 36.1,77.0 37.5,77.0 38.9,77.0 40.3,77.0 41.7,77.0 43.1,77.0 44.5,76.9 45.9,76.9 47.3,76.8 48.7,76.7 50.0,76.6 51.4,76.5 52.8,76.4 54.2,76.3 55.6,76.1 57.0,76.0" fill="none" stroke="#a5a7b5" stroke-width="1.1" opacity="0.6" stroke-linecap="round"/>
<polyline points="44.0,75.0 44.6,74.8 45.1,74.5 45.7,74.3 46.3,74.1 46.8,73.9 47.4,73.6 48.0,73.4 48.5,73.2 49.1,73.0 49.7,72.8 50.2,72.6 50.8,72.4 51.3,72.2 51.9,72.0 52.5,71.8 53.0,71.7 53.6,71.5 54.2,71.3 54.7,71.1 55.3,71.0 55.9,70.8 56.4,70.7 57.0,70.5" fill="none" stroke="#8f92a2" stroke-width="0.8" opacity="0.5" stroke-linecap="round"/>
<polyline points="58.0,73.5 58.9,73.4 59.7,73.3 60.6,73.2 61.5,73.0 62.3,72.9 63.2,72.8 64.1,72.6 65.0,72.5 65.8,72.4 66.7,72.2 67.6,72.1 68.4,71.9 69.3,71.8 70.2,71.6 71.0,71.4 71.9,71.3 72.8,71.1 73.7,70.9 74.5,70.8 75.4,70.6 76.3,70.4 77.1,70.2 78.0,70.0" fill="none" stroke="#8f92a2" stroke-width="1.0" opacity="0.55" stroke-linecap="round"/>
<polyline points="58.0,76.8 59.4,76.8 60.8,76.9 62.2,76.9 63.6,76.9 65.0,77.0 66.3,77.0 67.7,77.0 69.1,77.0 70.5,77.0 71.9,77.0 73.3,77.0 74.7,77.0 76.1,77.0 77.5,76.9 78.9,76.9 80.3,76.8 81.7,76.7 83.0,76.6 84.4,76.5 85.8,76.4 87.2,76.3 88.6,76.1 90.0,76.0" fill="none" stroke="#a5a7b5" stroke-width="1.1" opacity="0.6" stroke-linecap="round"/>
<polyline points="76.0,75.0 76.6,74.8 77.2,74.6 77.8,74.4 78.4,74.2 79.0,74.0 79.7,73.8 80.3,73.6 80.9,73.4 81.5,73.2 82.1,73.0 82.7,72.9 83.3,72.7 83.9,72.5 84.5,72.4 85.1,72.2 85.7,72.0 86.3,71.9 87.0,71.7 87.6,71.6 88.2,71.4 88.8,71.3 89.4,71.1 90.0,71.0" fill="none" stroke="#8f92a2" stroke-width="0.8" opacity="0.5" stroke-linecap="round"/>
</g>
<rect x="24.5" y="68.5" width="65.7" height="12.5" fill="#fff" filter="url(#nzh)" opacity="0.5"/>
<rect x="24.5" y="68.5" width="65.7" height="12.5" fill="#000" filter="url(#nzd)" opacity="0.4"/>
</g>
<line x1="57.35" y1="68.50" x2="57.35" y2="81.00" stroke="#0c0c10" stroke-width="0.6" />
<rect x="24.50" y="68.50" width="32.85" height="1.00" fill="#8e8e92" stroke="none" stroke-width="0" />
<rect x="57.35" y="68.20" width="32.85" height="1.70" fill="#f6a2ad" stroke="none" stroke-width="0" />
<line x1="41.40" y1="75.20" x2="41.40" y2="78.60" stroke="#fff" stroke-width="1.3" />
<line x1="39.70" y1="75.20" x2="43.10" y2="75.20" stroke="#fff" stroke-width="0.8" />
<line x1="39.70" y1="78.60" x2="43.10" y2="78.60" stroke="#fff" stroke-width="0.8" />
<line x1="73.70" y1="75.00" x2="73.70" y2="78.80" stroke="#fff" stroke-width="1.3" />
<line x1="72.00" y1="75.00" x2="75.40" y2="75.00" stroke="#fff" stroke-width="0.8" />
<line x1="72.00" y1="78.80" x2="75.40" y2="78.80" stroke="#fff" stroke-width="0.8" />
<clipPath id="c197_71"><rect x="197.4" y="71.0" width="71.4" height="26.6"/></clipPath>
<rect x="197.40" y="71.00" width="71.40" height="26.60" fill="#303031" stroke="none" stroke-width="0" />
<g clip-path="url(#c197_71)">
<g filter="url(#b2)">
<ellipse cx="210" cy="76" rx="1.6" ry="3.2" fill="#050505" opacity="0.9"/>
<ellipse cx="246" cy="78" rx="4" ry="1.4" fill="#050505" opacity="0.85"/>
<ellipse cx="203" cy="93" rx="6" ry="4" fill="#6a6a6a" opacity="0.6"/>
<ellipse cx="236" cy="95" rx="4" ry="2.5" fill="#6a6a6a" opacity="0.5"/>
<ellipse cx="226" cy="95.5" rx="7" ry="2" fill="#151515" opacity="0.7"/>
<ellipse cx="262" cy="95.5" rx="6" ry="2" fill="#151515" opacity="0.7"/>
<ellipse cx="231.3" cy="88.5" rx="4.7" ry="1.3" fill="#6a6a6a" opacity="0.45"/>
<ellipse cx="268.6" cy="83.8" rx="4.6" ry="1.9" fill="#777" opacity="0.45"/>
<ellipse cx="213.7" cy="71.0" rx="4.5" ry="3.0" fill="#555" opacity="0.45"/>
<ellipse cx="209.0" cy="95.1" rx="2.2" ry="2.6" fill="#6a6a6a" opacity="0.45"/>
<ellipse cx="234.1" cy="92.8" rx="4.7" ry="2.6" fill="#6a6a6a" opacity="0.45"/>
<ellipse cx="198.7" cy="72.6" rx="5.7" ry="2.0" fill="#6a6a6a" opacity="0.45"/>
<ellipse cx="268.0" cy="82.3" rx="3.8" ry="2.3" fill="#101010" opacity="0.45"/>
<ellipse cx="235.9" cy="94.5" rx="4.2" ry="3.0" fill="#6a6a6a" opacity="0.45"/>
</g>
<g filter="url(#b15)">
<polyline points="197.9,87.2 199.4,88.5 201.0,89.8 202.5,91.0 204.0,92.0 205.5,92.9 207.1,93.8 208.6,94.7 210.1,95.5 211.6,96.1 213.2,96.4 214.7,96.4 216.2,96.2 217.7,95.9 219.3,95.5 220.8,95.0 222.3,94.5 223.8,93.7 225.4,92.6 226.9,91.2 228.4,89.4 229.9,86.5 231.5,82.0 233.0,73.1" fill="none" stroke="#8a8a8a" stroke-width="3.0" opacity="0.55" stroke-linecap="round"/>
<polyline points="197.9,85.6 199.4,86.9 201.0,88.2 202.5,89.4 204.0,90.4 205.6,91.3 207.1,92.3 208.6,93.2 210.1,94.0 211.7,94.7 213.2,95.0 214.7,95.0 216.3,94.8 217.8,94.4 219.3,94.0 220.9,93.4 222.4,92.8 223.9,92.1 225.4,91.0 227.0,89.6 228.5,87.7 230.0,84.5 231.6,79.9 233.1,73.1" fill="none" stroke="#ececec" stroke-width="1.3" opacity="0.95" stroke-linecap="round"/>
<polyline points="234.0,89.8 235.4,91.2 236.8,92.4 238.2,93.4 239.6,94.2 241.0,94.8 242.4,95.0 243.8,95.0 245.2,94.8 246.6,94.5 248.0,94.2 249.4,93.8 250.8,93.3 252.2,92.9 253.6,92.2 255.0,91.2 256.4,90.1 257.8,88.8 259.2,87.3 260.6,85.7 262.0,83.8 263.4,81.4 264.8,78.6 266.2,75.5" fill="none" stroke="#8a8a8a" stroke-width="3.0" opacity="0.55" stroke-linecap="round"/>
<polyline points="234.0,88.3 235.4,89.7 236.8,90.9 238.2,91.9 239.6,92.7 241.0,93.3 242.4,93.5 243.8,93.5 245.2,93.3 246.6,93.0 248.0,92.7 249.4,92.3 250.8,91.8 252.2,91.4 253.6,90.7 255.0,89.7 256.4,88.6 257.8,87.2 259.2,85.8 260.6,84.2 262.0,82.4 263.4,80.1 264.8,77.4 266.2,74.5" fill="none" stroke="#ececec" stroke-width="1.3" opacity="0.95" stroke-linecap="round"/>
</g>
<rect x="197.4" y="71.0" width="71.4" height="26.6" fill="#fff" filter="url(#nz)" opacity="0.22"/>
<rect x="197.4" y="71.0" width="71.4" height="26.6" fill="#000" filter="url(#nzd)" opacity="0.17600000000000002"/>
</g>
<line x1="233.10" y1="71.00" x2="233.10" y2="97.60" stroke="#0c0c10" stroke-width="0.6" />
<rect x="233.10" y="70.70" width="35.70" height="1.70" fill="#f6a2ad" stroke="none" stroke-width="0" />
<path d="M0,0 L2.0,3.4 L0.75,3.1 L1.05,6.0 L-1.05,6.0 L-0.75,3.1 L-2.0,3.4 Z" fill="#fff" transform="translate(219.6,86.3) rotate(-30)"/>
<polygon points="22.1,194.6 23.6,194.3 25.0,194.0 26.5,193.7 28.0,193.4 29.5,193.1 30.9,192.9 32.4,192.8 33.9,192.7 35.3,192.6 36.8,192.4 38.3,192.2 39.7,191.9 41.2,191.5 42.7,191.2 44.2,190.9 45.6,190.8 47.1,190.5 48.6,190.2 50.0,189.8 51.5,189.3 53.0,188.9 54.4,188.7 55.9,188.5 57.4,188.1 58.9,187.8 60.3,187.5 61.8,187.2 63.3,186.8 64.7,186.6 66.2,186.6 67.7,186.7 69.2,186.9 70.6,187.1 72.1,187.4 73.6,187.5 75.0,187.6 76.5,187.5 78.0,187.2 79.4,186.9 80.9,186.6 82.4,186.2 83.9,186.0 85.3,185.4 86.8,185.0 88.3,184.6 89.7,184.2 91.2,183.7 92.7,183.2 94.2,182.7 95.6,182.3 97.1,181.9 98.6,181.7 100.0,181.4 101.5,181.2 103.0,180.8 104.4,180.6 105.9,180.3 107.4,180.2 108.9,180.1 110.3,179.8 111.8,179.5 113.3,179.2 114.7,179.0 116.2,178.7 117.7,178.3 119.1,177.8 120.6,177.5 122.1,177.0 123.6,176.6 125.0,176.3 126.5,176.0 128.0,175.8 129.4,175.7 130.9,175.8 132.4,175.9 133.9,176.1 135.3,176.2 136.8,176.3 138.3,176.4 139.7,176.6 141.2,177.1 142.7,177.6 144.1,178.3 145.6,178.9 147.1,179.4 148.6,179.9 150.0,180.5 151.5,181.0 153.0,181.4 154.4,181.6 155.9,181.6 157.4,181.7 158.8,181.6 160.3,181.8 161.8,181.6 163.3,181.7 164.7,181.6 166.2,181.7 167.7,181.8 169.1,182.0 170.6,182.6 172.1,183.1 173.6,183.8 175.0,184.3 176.5,184.9 178.0,185.4 179.4,185.8 180.9,186.2 182.4,186.7 183.8,187.0 185.3,187.4 186.8,187.7 188.3,188.2 189.7,188.6 191.2,189.0 192.7,189.2 194.1,189.5 195.6,189.9 197.1,190.4 198.5,190.7 200.0,190.9 201.5,191.1 203.0,191.4 204.4,191.7 205.9,192.0 207.4,192.3 208.8,192.7 210.3,193.0 211.8,193.3 213.3,193.4 214.7,193.5 216.2,193.9 217.7,194.2 219.1,194.4 220.6,194.6 222.1,195.0 223.5,195.4 225.0,195.8 226.5,196.1 228.0,196.6 229.4,196.8 230.9,197.1 232.4,197.4 233.8,197.6 235.3,197.9 236.8,198.1 238.3,198.5 239.7,198.7 241.2,199.2 242.7,199.5 244.1,200.0 245.6,200.2 247.1,200.4 248.5,200.5 250.0,200.7 251.5,201.1 253.0,201.5 254.4,201.8 255.9,202.1 257.4,202.2 258.8,202.3 260.3,202.5 261.8,202.6 263.2,202.4 264.7,202.2 266.2,202.1 267.7,202.1 269.1,201.9 270.6,201.7 270.6,203.9 269.1,203.9 267.7,204.0 266.2,203.9 264.7,203.9 263.2,204.1 261.8,204.2 260.3,204.1 258.8,204.0 257.4,204.0 255.9,204.0 254.4,203.9 253.0,203.8 251.5,203.5 250.0,203.3 248.5,203.3 247.1,203.3 245.6,203.3 244.1,203.2 242.7,202.9 241.2,202.6 239.7,202.2 238.3,202.0 236.8,201.6 235.3,201.5 233.8,201.2 232.4,201.0 230.9,200.7 229.4,200.4 228.0,200.2 226.5,199.8 225.0,199.5 223.5,199.1 222.1,198.8 220.6,198.4 219.1,198.2 217.7,198.0 216.2,197.8 214.7,197.5 213.3,197.4 211.8,197.3 210.3,197.2 208.8,196.9 207.4,196.6 205.9,196.4 204.4,196.1 203.0,196.0 201.5,195.7 200.0,195.7 198.5,195.6 197.1,195.4 195.6,195.1 194.1,194.8 192.7,194.7 191.2,194.5 189.7,194.3 188.3,194.0 186.8,193.7 185.3,193.5 183.8,193.2 182.4,193.0 180.9,192.6 179.4,192.4 178.0,192.0 176.5,191.6 175.0,191.0 173.6,190.6 172.1,189.9 170.6,189.4 169.1,188.9 167.7,188.7 166.2,188.5 164.7,188.4 163.3,188.5 161.8,188.4 160.3,188.5 158.8,188.3 157.4,188.3 155.9,188.1 154.4,188.0 153.0,187.8 151.5,187.3 150.0,186.8 148.6,186.1 147.1,185.6 145.6,185.1 144.1,184.4 142.7,183.7 141.2,183.2 139.7,182.7 138.3,182.5 136.8,182.4 135.3,182.4 133.9,182.3 132.4,182.2 130.9,182.2 129.4,182.2 128.0,182.4 126.5,182.7 125.0,183.0 123.6,183.4 122.1,183.9 120.6,184.5 119.1,184.9 117.7,185.5 116.2,185.9 114.7,186.2 113.3,186.5 111.8,186.8 110.3,187.1 108.9,187.3 107.4,187.4 105.9,187.4 104.4,187.7 103.0,187.8 101.5,188.2 100.0,188.2 98.6,188.4 97.1,188.5 95.6,188.8 94.2,189.1 92.7,189.4 91.2,189.8 89.7,190.1 88.3,190.3 86.8,190.6 85.3,190.8 83.9,191.3 82.4,191.4 80.9,191.7 79.4,191.8 78.0,191.9 76.5,192.1 75.0,192.1 73.6,192.0 72.1,191.7 70.6,191.3 69.2,191.0 67.7,190.8 66.2,190.6 64.7,190.6 63.3,190.8 61.8,191.1 60.3,191.4 58.9,191.7 57.4,191.9 55.9,192.3 54.4,192.5 53.0,192.9 51.5,193.3 50.0,193.8 48.6,194.4 47.1,194.8 45.6,195.2 44.2,195.5 42.7,196.0 41.2,196.5 39.7,197.1 38.3,197.5 36.8,198.0 35.3,198.4 33.9,198.6 32.4,198.8 30.9,198.9 29.5,199.1 28.0,199.4 26.5,199.6 25.0,199.7 23.6,199.9 22.1,200.0" fill="#dbeedb" opacity="0.85"/>
<polygon points="22.1,201.2 23.6,200.6 25.0,199.6 26.5,199.0 28.0,198.4 29.5,198.0 30.9,197.4 32.4,196.9 33.9,196.3 35.3,195.6 36.8,195.2 38.3,194.8 39.7,194.6 41.2,193.9 42.7,193.2 44.2,192.4 45.6,191.7 47.1,191.4 48.6,190.8 50.0,190.3 51.5,189.5 53.0,189.2 54.4,188.6 55.9,187.6 57.4,186.3 58.9,185.2 60.3,184.3 61.8,183.2 63.3,182.3 64.7,181.7 66.2,181.5 67.7,181.1 69.2,180.6 70.6,180.1 72.1,179.7 73.6,179.4 75.0,179.1 76.5,179.1 78.0,178.7 79.4,178.0 80.9,177.3 82.4,176.5 83.9,175.7 85.3,174.8 86.8,174.0 88.3,173.3 89.7,172.6 91.2,171.7 92.7,171.0 94.2,170.4 95.6,170.0 97.1,169.4 98.6,168.6 100.0,167.9 101.5,167.0 103.0,166.3 104.4,165.3 105.9,164.8 107.4,164.0 108.9,164.0 110.3,163.8 111.8,163.7 113.3,163.4 114.7,162.9 116.2,162.6 117.7,162.1 119.1,161.7 120.6,161.4 122.1,161.2 123.6,160.8 125.0,160.3 126.5,159.4 128.0,159.1 129.4,158.4 130.9,157.9 132.4,157.2 133.9,156.8 135.3,156.1 136.8,155.8 138.3,155.4 139.7,155.6 141.2,155.7 142.7,156.2 144.1,156.6 145.6,157.2 147.1,157.8 148.6,158.1 150.0,158.2 151.5,158.7 153.0,159.4 154.4,160.4 155.9,161.1 157.4,161.9 158.8,162.6 160.3,163.4 161.8,164.2 163.3,164.8 164.7,165.5 166.2,166.3 167.7,167.2 169.1,167.8 170.6,168.2 172.1,168.8 173.6,169.8 175.0,170.5 176.5,171.0 178.0,171.5 179.4,172.2 180.9,173.0 182.4,173.7 183.8,174.3 185.3,174.9 186.8,175.7 188.3,176.3 189.7,177.1 191.2,177.7 192.7,178.5 194.1,178.9 195.6,179.5 197.1,180.0 198.5,180.6 200.0,180.9 201.5,181.3 203.0,181.7 204.4,182.3 205.9,182.9 207.4,183.3 208.8,183.6 210.3,183.9 211.8,184.2 213.3,184.8 214.7,185.3 216.2,185.6 217.7,185.8 219.1,186.0 220.6,186.3 222.1,186.7 223.5,187.0 225.0,187.2 226.5,187.3 228.0,187.7 229.4,188.2 230.9,188.8 232.4,189.1 233.8,189.6 235.3,189.9 236.8,190.4 238.3,190.9 239.7,191.4 241.2,191.9 242.7,192.4 244.1,192.7 245.6,193.3 247.1,193.6 248.5,194.2 250.0,194.4 251.5,194.7 253.0,194.9 254.4,195.4 255.9,195.5 257.4,195.8 258.8,195.9 260.3,196.0 261.8,196.6 263.2,196.8 264.7,197.0 266.2,197.0 267.7,197.1 269.1,197.5 270.6,197.4 270.6,201.6 269.1,201.7 267.7,201.4 266.2,201.5 264.7,201.5 263.2,201.5 261.8,201.4 260.3,200.9 258.8,200.9 257.4,200.9 255.9,200.8 254.4,200.7 253.0,200.4 251.5,200.3 250.0,200.1 248.5,199.9 247.1,199.4 245.6,199.2 244.1,198.7 242.7,198.5 241.2,198.0 239.7,197.6 238.3,197.1 236.8,196.6 235.3,196.1 233.8,195.7 232.4,195.3 230.9,195.0 229.4,194.4 228.0,193.8 226.5,193.3 225.0,193.1 223.5,192.9 222.1,192.5 220.6,192.0 219.1,191.6 217.7,191.3 216.2,191.0 214.7,190.6 213.3,190.0 211.8,189.3 210.3,188.8 208.8,188.4 207.4,188.1 205.9,187.5 204.4,186.8 203.0,186.2 201.5,185.6 200.0,185.2 198.5,184.8 197.1,184.1 195.6,183.6 194.1,182.9 192.7,182.4 191.2,181.6 189.7,180.9 188.3,180.1 186.8,179.5 185.3,178.7 183.8,178.1 182.4,177.5 180.9,176.8 179.4,176.1 178.0,175.4 176.5,175.0 175.0,174.5 173.6,173.9 172.1,173.0 170.6,172.5 169.1,172.1 167.7,171.7 166.2,170.9 164.7,170.1 163.3,169.5 161.8,169.0 160.3,168.3 158.8,167.6 157.4,166.9 155.9,166.2 154.4,165.5 153.0,164.6 151.5,164.0 150.0,163.5 148.6,163.5 147.1,163.1 145.6,162.6 144.1,162.0 142.7,161.5 141.2,161.1 139.7,160.9 138.3,160.7 136.8,161.0 135.3,161.3 133.9,161.9 132.4,162.2 130.9,162.8 129.4,163.2 128.0,163.8 126.5,164.1 125.0,164.8 123.6,165.2 122.1,165.6 120.6,165.7 119.1,165.9 117.7,166.2 116.2,166.6 114.7,166.8 113.3,167.2 111.8,167.4 110.3,167.4 108.9,167.5 107.4,167.5 105.9,168.2 104.4,168.7 103.0,169.6 101.5,170.3 100.0,171.2 98.6,171.8 97.1,172.5 95.6,173.1 94.2,173.5 92.7,174.2 91.2,174.8 89.7,175.7 88.3,176.3 86.8,177.0 85.3,177.8 83.9,178.8 82.4,179.5 80.9,180.3 79.4,181.0 78.0,181.7 76.5,182.1 75.0,182.1 73.6,182.4 72.1,182.7 70.6,183.1 69.2,183.6 67.7,184.1 66.2,184.5 64.7,184.7 63.3,185.3 61.8,186.2 60.3,187.3 58.9,188.2 57.4,189.3 55.9,190.6 54.4,191.6 53.0,192.2 51.5,192.5 50.0,193.3 48.6,193.8 47.1,194.4 45.6,194.7 44.2,195.4 42.7,196.2 41.2,196.9 39.7,197.6 38.3,197.8 36.8,198.2 35.3,198.6 33.9,199.3 32.4,199.9 30.9,200.4 29.5,201.0 28.0,201.4 26.5,202.0 25.0,202.6 23.6,203.6 22.1,204.2" fill="#d5e8f7" opacity="0.85"/>
<line x1="136.30" y1="205.90" x2="136.30" y2="159.01" stroke="#e8525e" stroke-width="0.6" stroke-dasharray="2.4 2.3" />
<line x1="24.55" y1="185.10" x2="24.55" y2="205.90" stroke="#444" stroke-width="0.6" stroke-dasharray="2.3 2.3" />
<line x1="268.40" y1="185.10" x2="268.40" y2="205.90" stroke="#444" stroke-width="0.6" stroke-dasharray="2.3 2.3" />
<polyline points="22.1,197.3 23.6,197.1 25.0,196.9 26.5,196.7 28.0,196.4 29.5,196.1 30.9,195.9 32.4,195.8 33.9,195.7 35.3,195.5 36.8,195.2 38.3,194.9 39.7,194.5 41.2,194.0 42.7,193.6 44.2,193.2 45.6,193.0 47.1,192.7 48.6,192.3 50.0,191.8 51.5,191.3 53.0,190.9 54.4,190.6 55.9,190.4 57.4,190.0 58.9,189.7 60.3,189.4 61.8,189.2 63.3,188.8 64.7,188.6 66.2,188.6 67.7,188.7 69.2,188.9 70.6,189.2 72.1,189.5 73.6,189.8 75.0,189.8 76.5,189.8 78.0,189.6 79.4,189.3 80.9,189.2 82.4,188.8 83.9,188.6 85.3,188.1 86.8,187.8 88.3,187.4 89.7,187.1 91.2,186.8 92.7,186.3 94.2,185.9 95.6,185.5 97.1,185.2 98.6,185.0 100.0,184.8 101.5,184.7 103.0,184.3 104.4,184.1 105.9,183.9 107.4,183.8 108.9,183.7 110.3,183.4 111.8,183.2 113.3,182.8 114.7,182.6 116.2,182.3 117.7,181.9 119.1,181.3 120.6,181.0 122.1,180.5 123.6,180.0 125.0,179.6 126.5,179.4 128.0,179.1 129.4,179.0 130.9,179.0 132.4,179.1 133.9,179.2 135.3,179.3 136.8,179.3 138.3,179.5 139.7,179.6 141.2,180.1 142.7,180.6 144.1,181.4 145.6,182.0 147.1,182.5 148.6,183.0 150.0,183.6 151.5,184.2 153.0,184.6 154.4,184.8 155.9,184.8 157.4,185.0 158.8,185.0 160.3,185.1 161.8,185.0 163.3,185.1 164.7,185.0 166.2,185.1 167.7,185.2 169.1,185.4 170.6,186.0 172.1,186.5 173.6,187.2 175.0,187.7 176.5,188.3 178.0,188.7 179.4,189.1 180.9,189.4 182.4,189.8 183.8,190.1 185.3,190.5 186.8,190.7 188.3,191.1 189.7,191.5 191.2,191.8 192.7,192.0 194.1,192.1 195.6,192.5 197.1,192.9 198.5,193.1 200.0,193.3 201.5,193.4 203.0,193.7 204.4,193.9 205.9,194.2 207.4,194.4 208.8,194.8 210.3,195.1 211.8,195.3 213.3,195.4 214.7,195.5 216.2,195.9 217.7,196.1 219.1,196.3 220.6,196.5 222.1,196.9 223.5,197.2 225.0,197.7 226.5,198.0 228.0,198.4 229.4,198.6 230.9,198.9 232.4,199.2 233.8,199.4 235.3,199.7 236.8,199.9 238.3,200.3 239.7,200.4 241.2,200.9 242.7,201.2 244.1,201.6 245.6,201.7 247.1,201.9 248.5,201.9 250.0,202.0 251.5,202.3 253.0,202.6 254.4,202.9 255.9,203.1 257.4,203.1 258.8,203.2 260.3,203.3 261.8,203.4 263.2,203.2 264.7,203.1 266.2,203.0 267.7,203.1 269.1,202.9 270.6,202.8" fill="none" stroke="#1f7a33" stroke-width="0.88" stroke-linejoin="round"/>
<polyline points="22.1,202.7 23.6,202.1 25.0,201.1 26.5,200.5 28.0,199.9 29.5,199.5 30.9,198.9 32.4,198.4 33.9,197.8 35.3,197.1 36.8,196.7 38.3,196.3 39.7,196.1 41.2,195.4 42.7,194.7 44.2,193.9 45.6,193.2 47.1,192.9 48.6,192.3 50.0,191.8 51.5,191.0 53.0,190.7 54.4,190.1 55.9,189.1 57.4,187.8 58.9,186.7 60.3,185.8 61.8,184.7 63.3,183.8 64.7,183.2 66.2,183.0 67.7,182.6 69.2,182.1 70.6,181.6 72.1,181.2 73.6,180.9 75.0,180.6 76.5,180.6 78.0,180.2 79.4,179.5 80.9,178.8 82.4,178.0 83.9,177.2 85.3,176.3 86.8,175.5 88.3,174.8 89.7,174.2 91.2,173.3 92.7,172.6 94.2,172.0 95.6,171.6 97.1,171.0 98.6,170.2 100.0,169.6 101.5,168.6 103.0,167.9 104.4,167.0 105.9,166.5 107.4,165.8 108.9,165.7 110.3,165.6 111.8,165.5 113.3,165.3 114.7,164.8 116.2,164.6 117.7,164.1 119.1,163.8 120.6,163.5 122.1,163.4 123.6,163.0 125.0,162.6 126.5,161.7 128.0,161.5 129.4,160.8 130.9,160.4 132.4,159.7 133.9,159.3 135.3,158.7 136.8,158.4 138.3,158.1 139.7,158.3 141.2,158.4 142.7,158.9 144.1,159.3 145.6,159.9 147.1,160.5 148.6,160.8 150.0,160.9 151.5,161.3 153.0,162.0 154.4,162.9 155.9,163.6 157.4,164.4 158.8,165.1 160.3,165.9 161.8,166.6 163.3,167.2 164.7,167.8 166.2,168.6 167.7,169.4 169.1,170.0 170.6,170.3 172.1,170.9 173.6,171.9 175.0,172.5 176.5,173.0 178.0,173.4 179.4,174.2 180.9,174.9 182.4,175.6 183.8,176.2 185.3,176.8 186.8,177.6 188.3,178.2 189.7,179.0 191.2,179.7 192.7,180.4 194.1,180.9 195.6,181.6 197.1,182.0 198.5,182.7 200.0,183.0 201.5,183.5 203.0,184.0 204.4,184.6 205.9,185.2 207.4,185.7 208.8,186.0 210.3,186.4 211.8,186.7 213.3,187.4 214.7,188.0 216.2,188.3 217.7,188.6 219.1,188.8 220.6,189.2 222.1,189.6 223.5,190.0 225.0,190.2 226.5,190.3 228.0,190.7 229.4,191.3 230.9,191.9 232.4,192.2 233.8,192.6 235.3,193.0 236.8,193.5 238.3,194.0 239.7,194.5 241.2,194.9 242.7,195.4 244.1,195.7 245.6,196.3 247.1,196.5 248.5,197.0 250.0,197.2 251.5,197.5 253.0,197.6 254.4,198.1 255.9,198.2 257.4,198.4 258.8,198.4 260.3,198.5 261.8,199.0 263.2,199.1 264.7,199.3 266.2,199.2 267.7,199.2 269.1,199.6 270.6,199.5" fill="none" stroke="#2a78c6" stroke-width="0.88" stroke-linejoin="round"/>
<line x1="21.90" y1="154.80" x2="21.90" y2="208.10" stroke="#8a8a8a" stroke-width="0.9" />
<line x1="270.60" y1="154.80" x2="270.60" y2="208.10" stroke="#8a8a8a" stroke-width="0.9" />
<line x1="21.50" y1="205.90" x2="271.00" y2="205.90" stroke="#5a5a5a" stroke-width="0.95" />
<line x1="20.00" y1="159.30" x2="21.60" y2="159.30" stroke="#555" stroke-width="0.6" />
<text x="18.90" y="160.85" font-size="4.5" fill="#2a9636" text-anchor="end" stroke="#2a9636" stroke-width="0.07" >2.4</text>
<line x1="20.00" y1="168.60" x2="21.60" y2="168.60" stroke="#555" stroke-width="0.6" />
<text x="18.90" y="170.15" font-size="4.5" fill="#2a9636" text-anchor="end" stroke="#2a9636" stroke-width="0.07" >2.2</text>
<line x1="20.00" y1="177.90" x2="21.60" y2="177.90" stroke="#555" stroke-width="0.6" />
<text x="18.90" y="179.45" font-size="4.5" fill="#2a9636" text-anchor="end" stroke="#2a9636" stroke-width="0.07" >2.0</text>
<line x1="20.00" y1="187.30" x2="21.60" y2="187.30" stroke="#555" stroke-width="0.6" />
<text x="18.90" y="188.85" font-size="4.5" fill="#2a9636" text-anchor="end" stroke="#2a9636" stroke-width="0.07" >1.8</text>
<line x1="20.00" y1="196.60" x2="21.60" y2="196.60" stroke="#555" stroke-width="0.6" />
<text x="18.90" y="198.15" font-size="4.5" fill="#2a9636" text-anchor="end" stroke="#2a9636" stroke-width="0.07" >1.6</text>
<line x1="20.00" y1="206.00" x2="21.60" y2="206.00" stroke="#555" stroke-width="0.6" />
<text x="18.90" y="207.55" font-size="4.5" fill="#2a9636" text-anchor="end" stroke="#2a9636" stroke-width="0.07" >1.4</text>
<line x1="270.90" y1="163.40" x2="272.60" y2="163.40" stroke="#555" stroke-width="0.6" />
<text x="273.90" y="164.95" font-size="4.5" fill="#1f72cf" text-anchor="start" stroke="#1f72cf" stroke-width="0.07" >20.0</text>
<line x1="270.90" y1="173.20" x2="272.60" y2="173.20" stroke="#555" stroke-width="0.6" />
<text x="273.90" y="174.75" font-size="4.5" fill="#1f72cf" text-anchor="start" stroke="#1f72cf" stroke-width="0.07" >15.0</text>
<line x1="270.90" y1="183.00" x2="272.60" y2="183.00" stroke="#555" stroke-width="0.6" />
<text x="273.90" y="184.55" font-size="4.5" fill="#1f72cf" text-anchor="start" stroke="#1f72cf" stroke-width="0.07" >10.0</text>
<line x1="270.90" y1="192.80" x2="272.60" y2="192.80" stroke="#555" stroke-width="0.6" />
<text x="273.90" y="194.35" font-size="4.5" fill="#1f72cf" text-anchor="start" stroke="#1f72cf" stroke-width="0.07" >5.0</text>
<line x1="270.90" y1="202.60" x2="272.60" y2="202.60" stroke="#555" stroke-width="0.6" />
<text x="273.90" y="204.15" font-size="4.5" fill="#1f72cf" text-anchor="start" stroke="#1f72cf" stroke-width="0.07" >0.0</text>
<line x1="71.64" y1="205.90" x2="71.64" y2="207.90" stroke="#666" stroke-width="0.6" />
<line x1="121.38" y1="205.90" x2="121.38" y2="207.90" stroke="#666" stroke-width="0.6" />
<line x1="171.12" y1="205.90" x2="171.12" y2="207.90" stroke="#666" stroke-width="0.6" />
<line x1="220.86" y1="205.90" x2="220.86" y2="207.90" stroke="#666" stroke-width="0.6" />
<text x="146.90" y="203.50" font-size="6.1" fill="#222" text-anchor="middle" stroke="#222" stroke-width="0.08" font-weight="bold" >Participant a</text>
<clipPath id="c24_156"><rect x="24.2" y="156" width="66" height="13.7"/></clipPath>
<rect x="24.20" y="156.00" width="66.00" height="13.70" fill="#343436" stroke="none" stroke-width="0" />
<g clip-path="url(#c24_156)">
<g filter="url(#b2)">
<ellipse cx="57.2" cy="163" rx="3" ry="8" fill="#0a0a0a" opacity="0.8"/>
<ellipse cx="40" cy="169" rx="30" ry="1.6" fill="#111" opacity="0.7"/>
<ellipse cx="76" cy="169" rx="30" ry="1.6" fill="#111" opacity="0.7"/>
<ellipse cx="40" cy="157" rx="16" ry="1.0" fill="#888" opacity="0.6"/>
</g>
<g filter="url(#b1)">
<line x1="19.9" y1="168.5" x2="42.6" y2="167.6" stroke="#9a9a9a" stroke-width="0.99" opacity="0.26"/>
<line x1="58.6" y1="167.4" x2="83.7" y2="168.0" stroke="#9a9a9a" stroke-width="0.54" opacity="0.37"/>
<line x1="35.4" y1="165.4" x2="48.7" y2="164.6" stroke="#9a9a9a" stroke-width="0.91" opacity="0.56"/>
<line x1="32.1" y1="166.5" x2="58.6" y2="166.2" stroke="#9a9a9a" stroke-width="0.54" opacity="0.41"/>
<line x1="23.8" y1="161.9" x2="43.1" y2="161.3" stroke="#9a9a9a" stroke-width="0.74" opacity="0.58"/>
<line x1="42.6" y1="164.6" x2="67.9" y2="165.2" stroke="#9a9a9a" stroke-width="0.69" opacity="0.58"/>
<line x1="27.3" y1="157.0" x2="38.8" y2="157.5" stroke="#9a9a9a" stroke-width="0.81" opacity="0.50"/>
<line x1="47.8" y1="160.3" x2="73.6" y2="159.2" stroke="#9a9a9a" stroke-width="0.47" opacity="0.27"/>
<line x1="67.8" y1="162.5" x2="86.9" y2="162.0" stroke="#9a9a9a" stroke-width="0.70" opacity="0.31"/>
<line x1="39.6" y1="168.3" x2="52.4" y2="167.6" stroke="#9a9a9a" stroke-width="0.89" opacity="0.36"/>
<line x1="38.6" y1="167.7" x2="55.5" y2="166.7" stroke="#9a9a9a" stroke-width="0.94" opacity="0.53"/>
<line x1="25.9" y1="162.5" x2="43.7" y2="162.0" stroke="#9a9a9a" stroke-width="0.90" opacity="0.57"/>
<line x1="35.8" y1="165.8" x2="44.6" y2="166.2" stroke="#9a9a9a" stroke-width="0.97" opacity="0.31"/>
<line x1="47.0" y1="162.8" x2="74.5" y2="161.7" stroke="#9a9a9a" stroke-width="0.44" opacity="0.55"/>
<line x1="45.9" y1="163.7" x2="69.5" y2="163.6" stroke="#9a9a9a" stroke-width="0.82" opacity="0.34"/>
<line x1="19.7" y1="157.8" x2="34.4" y2="157.8" stroke="#9a9a9a" stroke-width="0.63" opacity="0.37"/>
<line x1="60.0" y1="164.3" x2="79.9" y2="163.6" stroke="#9a9a9a" stroke-width="0.89" opacity="0.53"/>
<line x1="70.8" y1="167.6" x2="79.1" y2="167.6" stroke="#9a9a9a" stroke-width="0.61" opacity="0.39"/>
<line x1="27.5" y1="163.1" x2="40.5" y2="163.6" stroke="#9a9a9a" stroke-width="0.60" opacity="0.57"/>
<line x1="37.4" y1="165.1" x2="51.8" y2="165.0" stroke="#9a9a9a" stroke-width="0.82" opacity="0.37"/>
<line x1="29.2" y1="157.5" x2="54.4" y2="157.6" stroke="#9a9a9a" stroke-width="0.46" opacity="0.54"/>
<line x1="38.6" y1="163.8" x2="64.4" y2="162.8" stroke="#9a9a9a" stroke-width="0.46" opacity="0.37"/>
<line x1="50.9" y1="165.7" x2="68.5" y2="166.2" stroke="#9a9a9a" stroke-width="0.64" opacity="0.53"/>
<line x1="64.5" y1="156.9" x2="75.6" y2="156.8" stroke="#9a9a9a" stroke-width="0.90" opacity="0.48"/>
<line x1="51.0" y1="163.8" x2="74.0" y2="163.3" stroke="#9a9a9a" stroke-width="0.54" opacity="0.44"/>
<line x1="25.9" y1="163.1" x2="44.5" y2="162.7" stroke="#9a9a9a" stroke-width="0.49" opacity="0.50"/>
<polyline points="25.0,163.3 26.3,163.5 27.7,163.7 29.0,163.9 30.4,164.0 31.7,164.1 33.1,164.2 34.4,164.3 35.8,164.4 37.1,164.5 38.5,164.5 39.8,164.6 41.2,164.6 42.5,164.6 43.9,164.6 45.2,164.6 46.6,164.5 47.9,164.4 49.3,164.3 50.6,164.2 52.0,164.1 53.3,163.9 54.7,163.8 56.0,163.6" fill="none" stroke="#b5b5b5" stroke-width="0.9" opacity="0.6" stroke-linecap="round"/>
<polyline points="58.0,163.8 59.4,164.0 60.8,164.2 62.2,164.4 63.6,164.6 65.0,164.7 66.3,164.8 67.7,164.9 69.1,165.0 70.5,165.1 71.9,165.1 73.3,165.2 74.7,165.2 76.1,165.2 77.5,165.2 78.9,165.2 80.3,165.2 81.7,165.1 83.0,165.0 84.4,164.8 85.8,164.7 87.2,164.5 88.6,164.2 90.0,164.0" fill="none" stroke="#b5b5b5" stroke-width="0.9" opacity="0.6" stroke-linecap="round"/>
</g>
<rect x="24.2" y="156" width="66" height="13.7" fill="#fff" filter="url(#nzh)" opacity="0.5"/>
<rect x="24.2" y="156" width="66" height="13.7" fill="#000" filter="url(#nzd)" opacity="0.4"/>
</g>
<line x1="57.20" y1="156.00" x2="57.20" y2="169.70" stroke="#0c0c10" stroke-width="0.6" />
<rect x="57.20" y="155.70" width="33.00" height="1.70" fill="#f6a2ad" stroke="none" stroke-width="0" />
<line x1="43.00" y1="163.20" x2="43.00" y2="165.60" stroke="#fff" stroke-width="1.6" />
<line x1="41.20" y1="163.20" x2="44.80" y2="163.20" stroke="#fff" stroke-width="0.8" />
<line x1="41.20" y1="165.60" x2="44.80" y2="165.60" stroke="#fff" stroke-width="0.8" />
<line x1="79.10" y1="161.90" x2="79.10" y2="165.60" stroke="#fff" stroke-width="1.4" />
<line x1="77.70" y1="161.90" x2="80.50" y2="161.90" stroke="#fff" stroke-width="0.8" />
<line x1="77.70" y1="165.60" x2="80.50" y2="165.60" stroke="#fff" stroke-width="0.8" />
<clipPath id="c198_154"><rect x="198.1" y="154.8" width="70.5" height="19.4"/></clipPath>
<rect x="198.10" y="154.80" width="70.50" height="19.40" fill="#2b2b2c" stroke="none" stroke-width="0" />
<g clip-path="url(#c198_154)">
<g filter="url(#b2)">
<ellipse cx="199" cy="156" rx="4" ry="3" fill="#000" opacity="0.9"/>
<ellipse cx="232" cy="156" rx="4" ry="3" fill="#000" opacity="0.9"/>
<ellipse cx="235" cy="156" rx="3" ry="3" fill="#000" opacity="0.9"/>
<ellipse cx="267" cy="156" rx="3" ry="3" fill="#000" opacity="0.9"/>
<ellipse cx="214" cy="163" rx="9" ry="5" fill="#161616" opacity="0.7"/>
<ellipse cx="250" cy="161" rx="8" ry="4" fill="#1c1c1c" opacity="0.6"/>
<ellipse cx="245" cy="173" rx="14" ry="2" fill="#6a6a6a" opacity="0.6"/>
<ellipse cx="208" cy="173.5" rx="9" ry="1.5" fill="#5a5a5a" opacity="0.5"/>
<ellipse cx="210.9" cy="167.6" rx="3.3" ry="1.4" fill="#0a0a0a" opacity="0.45"/>
<ellipse cx="242.4" cy="158.3" rx="3.2" ry="2.8" fill="#101010" opacity="0.45"/>
<ellipse cx="216.0" cy="168.2" rx="3.3" ry="2.3" fill="#101010" opacity="0.45"/>
<ellipse cx="259.1" cy="173.1" rx="2.9" ry="1.5" fill="#555" opacity="0.45"/>
<ellipse cx="238.7" cy="158.7" rx="4.7" ry="2.7" fill="#0a0a0a" opacity="0.45"/>
<ellipse cx="213.3" cy="160.6" rx="2.0" ry="3.0" fill="#101010" opacity="0.45"/>
<ellipse cx="252.5" cy="162.7" rx="3.4" ry="2.1" fill="#555" opacity="0.45"/>
<ellipse cx="256.3" cy="166.4" rx="3.2" ry="1.2" fill="#0a0a0a" opacity="0.45"/>
</g>
<g filter="url(#b15)">
<polyline points="199.2,170.0 200.6,170.7 201.9,171.4 203.3,172.0 204.7,172.5 206.0,172.8 207.4,173.1 208.8,173.3 210.2,173.3 211.5,173.2 212.9,173.1 214.3,172.9 215.6,172.7 217.0,172.4 218.4,172.0 219.7,171.6 221.1,170.6 222.5,169.3 223.9,167.8 225.2,166.3 226.6,164.8 228.0,163.2 229.3,161.4 230.7,159.5" fill="none" stroke="#8a8a8a" stroke-width="2.4" opacity="0.6" stroke-linecap="round"/>
<polyline points="209.7,173.1 210.6,173.1 211.5,173.0 212.4,173.0 213.4,172.8 214.3,172.7 215.2,172.6 216.1,172.4 217.0,172.2 217.9,172.0 218.8,171.7 219.7,171.4 220.7,170.8 221.6,170.0 222.5,169.1 223.4,168.1 224.3,167.1 225.2,166.1 226.1,165.1 227.0,164.1 228.0,163.0 228.9,161.9 229.8,160.7 230.7,159.5" fill="none" stroke="#c4c4c4" stroke-width="1.0" opacity="0.7" stroke-linecap="round"/>
<polyline points="234.0,159.5 234.2,160.0 234.5,160.6 234.7,161.1 234.9,161.6 235.2,162.2 235.4,162.7 235.6,163.2 235.8,163.7 236.1,164.1 236.3,164.6 236.5,165.1 236.8,165.5 237.0,166.0 237.2,166.4 237.5,166.8 237.7,167.3 237.9,167.7 238.1,168.1 238.4,168.5 238.6,168.9 238.8,169.3 239.1,169.6 239.3,170.0" fill="none" stroke="#a0a0a0" stroke-width="2.2" opacity="0.65" stroke-linecap="round"/>
<polyline points="239.3,170.0 240.2,170.0 241.1,170.0 241.9,169.9 242.8,169.9 243.7,169.8 244.6,169.7 245.5,169.6 246.4,169.5 247.2,169.4 248.1,169.2 249.0,168.8 249.9,168.2 250.8,167.4 251.7,166.4 252.5,165.4 253.4,164.4 254.3,163.5 255.2,162.6 256.1,161.6 257.0,160.7 257.8,159.6 258.7,158.6 259.6,157.5" fill="none" stroke="#8c8c8c" stroke-width="2.4" opacity="0.6" stroke-linecap="round"/>
<polyline points="236.5,165.0 237.3,166.9 238.1,168.6 238.8,169.8 239.6,170.0 240.4,170.0 241.2,170.0 241.9,169.9 242.7,169.9 243.5,169.8 244.3,169.7 245.1,169.6 245.8,169.5 246.6,169.4 247.4,169.3 248.2,169.1 249.0,168.8 249.7,168.3 250.5,167.7 251.3,166.9 252.1,166.1 252.8,165.2 253.6,164.3 254.4,163.3" fill="none" stroke="#cacaca" stroke-width="0.9" opacity="0.7" stroke-linecap="round"/>
</g>
<rect x="198.1" y="154.8" width="70.5" height="19.4" fill="#fff" filter="url(#nz)" opacity="0.22"/>
<rect x="198.1" y="154.8" width="70.5" height="19.4" fill="#000" filter="url(#nzd)" opacity="0.17600000000000002"/>
</g>
<line x1="233.35" y1="154.80" x2="233.35" y2="174.20" stroke="#0c0c10" stroke-width="0.6" />
<rect x="233.35" y="154.50" width="35.25" height="1.70" fill="#f6a2ad" stroke="none" stroke-width="0" />
<path d="M0,0 L2.0,3.4 L0.75,3.1 L1.05,6.0 L-1.05,6.0 L-0.75,3.1 L-2.0,3.4 Z" fill="#fff" transform="translate(220.0,162.7) rotate(-36)"/>
<g transform="translate(75.9,259.7)">
<path d="M1.2,0 L24,0.3 C24.6,3 25.6,7 25.3,10 C25.2,12.5 24.5,14 23.6,15 L21.5,19.5 C20,18 17,16.5 15,17.2 C13.5,17.8 13.6,19 14,20.5 L12.6,24.2 L13.5,25.6 L6,22.8 L-1.2,19.8 C0,15 0.5,9 1.2,0 Z" fill="#f4f1e8" stroke="#eadccd" stroke-width="0.35"/>
<path d="M6.6,21.5 C7.5,15 11,8.5 17,6.6 C21,5.6 24.2,8.5 24.6,13.6" fill="none" stroke="#b0b0b0" stroke-width="4.6" stroke-linecap="butt" opacity="0.92"/>
<path d="M6.9,20 C8,14.5 11.5,9.5 17,8.2 C20.5,7.6 22.6,10 23.6,14.5" fill="none" stroke="#63bfe9" stroke-width="0.7" stroke-dasharray="0.9 1.3"/>
<path d="M6.0,22.6 L5.6,19.3 L7.9,20.2 Z" fill="#63bfe9"/>
<path d="M22.3,14.6 L23.2,16 L24.0,15.2 Z" fill="#63bfe9"/>
</g>
<g transform="translate(185.9,259.7)">
<path d="M1.2,0 L24,0.3 C24.6,3 25.6,7 25.3,10 C25.2,12.5 24.5,14 23.6,15 L21.5,19.5 C20,18 17,16.5 15,17.2 C13.5,17.8 13.6,19 14,20.5 L12.6,24.2 L13.5,25.6 L6,22.8 L-1.2,19.8 C0,15 0.5,9 1.2,0 Z" fill="#f4f1e8" stroke="#eadccd" stroke-width="0.35"/>
<path d="M6.6,21.5 C7.5,15 11,8.5 17,6.6 C21,5.6 24.2,8.5 24.6,13.6" fill="none" stroke="#b0b0b0" stroke-width="4.6" stroke-linecap="butt" opacity="0.92"/>
<path d="M6.9,20 C8,14.5 11.5,9.5 17,8.2 C20.5,7.6 22.6,10 23.6,14.5" fill="none" stroke="#63bfe9" stroke-width="0.7" stroke-dasharray="0.9 1.3"/>
<path d="M25.2,15.6 L28.6,17.2 L25.8,18 L24.6,17.6 Z" fill="#63bfe9"/>
</g>
<polygon points="22.1,270.1 23.6,270.0 25.0,270.1 26.5,270.1 28.0,270.2 29.5,270.1 30.9,270.0 32.4,269.6 33.9,269.0 35.3,268.4 36.8,267.8 38.3,267.1 39.7,266.6 41.2,266.3 42.7,266.1 44.2,265.9 45.6,266.0 47.1,266.1 48.6,266.0 50.0,266.0 51.5,266.2 53.0,266.5 54.4,266.7 55.9,266.9 57.4,267.1 58.9,267.3 60.3,267.4 61.8,267.4 63.3,267.2 64.7,266.8 66.2,266.4 67.7,266.1 69.2,265.8 70.6,265.4 72.1,265.0 73.6,264.5 75.0,263.8 76.5,263.2 78.0,262.4 79.4,261.7 80.9,261.1 82.4,260.4 83.9,259.8 85.3,259.2 86.8,258.5 88.3,257.8 89.7,257.0 91.2,256.3 92.7,255.9 94.2,255.2 95.6,254.7 97.1,254.1 98.6,253.6 100.0,253.0 101.5,252.4 103.0,251.7 104.4,251.1 105.9,250.4 107.4,249.7 108.9,249.0 110.3,248.2 111.8,247.6 113.3,247.1 114.7,246.4 116.2,245.5 117.7,244.5 119.1,243.8 120.6,243.4 122.1,243.2 123.6,243.3 125.0,243.8 126.5,244.6 128.0,245.4 129.4,246.2 130.9,246.8 132.4,247.5 133.9,248.2 135.3,249.0 136.8,249.9 138.3,250.6 139.7,251.2 141.2,251.6 142.7,252.0 144.1,252.5 145.6,252.8 147.1,253.3 148.6,253.7 150.0,254.2 151.5,254.4 153.0,254.6 154.4,254.9 155.9,255.2 157.4,255.4 158.8,255.5 160.3,255.6 161.8,255.7 163.3,255.7 164.7,255.4 166.2,254.9 167.7,254.5 169.1,254.1 170.6,253.7 172.1,253.3 173.6,253.1 175.0,252.8 176.5,252.6 178.0,252.4 179.4,252.2 180.9,252.2 182.4,252.1 183.8,252.1 185.3,252.1 186.8,252.3 188.3,252.6 189.7,253.0 191.2,253.3 192.7,253.6 194.1,253.8 195.6,254.4 197.1,254.8 198.5,255.4 200.0,255.8 201.5,256.3 203.0,256.8 204.4,257.4 205.9,257.9 207.4,258.4 208.8,258.8 210.3,259.3 211.8,259.8 213.3,260.4 214.7,260.8 216.2,261.2 217.7,261.4 219.1,261.8 220.6,262.1 222.1,262.4 223.5,262.8 225.0,263.1 226.5,263.4 228.0,263.6 229.4,264.0 230.9,264.3 232.4,264.6 233.8,264.8 235.3,265.1 236.8,265.2 238.3,265.4 239.7,265.7 241.2,265.8 242.7,266.0 244.1,266.1 245.6,266.4 247.1,266.5 248.5,266.7 250.0,266.8 251.5,266.9 253.0,266.9 254.4,267.1 255.9,267.2 257.4,267.5 258.8,267.7 260.3,268.0 261.8,268.2 263.2,268.3 264.7,268.3 266.2,268.5 267.7,268.5 269.1,268.8 270.6,268.9 270.6,270.3 269.1,270.2 267.7,269.9 266.2,269.9 264.7,269.7 263.2,269.7 261.8,269.6 260.3,269.4 258.8,269.1 257.4,268.9 255.9,268.6 254.4,268.5 253.0,268.3 251.5,268.3 250.0,268.2 248.5,268.1 247.1,267.9 245.6,267.8 244.1,267.5 242.7,267.4 241.2,267.2 239.7,267.1 238.3,266.8 236.8,266.6 235.3,266.5 233.8,266.2 232.4,266.0 230.9,265.7 229.4,265.5 228.0,265.0 226.5,264.8 225.0,264.5 223.5,264.2 222.1,263.8 220.6,263.5 219.1,263.3 217.7,262.9 216.2,262.7 214.7,262.4 213.3,262.0 211.8,261.5 210.3,261.0 208.8,260.6 207.4,260.3 205.9,259.9 204.4,259.5 203.0,259.0 201.5,258.7 200.0,258.4 198.5,258.1 197.1,257.7 195.6,257.5 194.1,257.2 192.7,257.1 191.2,257.0 189.7,256.9 188.3,256.7 186.8,256.6 185.3,256.5 183.8,256.6 182.4,256.7 180.9,256.7 179.4,256.8 178.0,256.9 176.5,257.1 175.0,257.3 173.6,257.4 172.1,257.5 170.6,257.7 169.1,257.9 167.7,258.1 166.2,258.3 164.7,258.6 163.3,258.7 161.8,258.5 160.3,258.2 158.8,257.9 157.4,257.6 155.9,257.3 154.4,256.9 153.0,256.6 151.5,256.2 150.0,255.9 148.6,255.4 147.1,255.0 145.6,254.4 144.1,254.1 142.7,253.6 141.2,253.2 139.7,252.8 138.3,252.2 136.8,251.5 135.3,250.7 133.9,249.9 132.4,249.3 130.9,248.6 129.4,248.1 128.0,247.3 126.5,246.7 125.0,245.9 123.6,245.6 122.1,245.6 120.6,245.9 119.1,246.5 117.7,247.4 116.2,248.4 114.7,249.5 113.3,250.4 111.8,251.1 110.3,251.8 108.9,252.7 107.4,253.7 105.9,254.5 104.4,255.3 103.0,256.0 101.5,256.8 100.0,257.5 98.6,258.1 97.1,258.6 95.6,259.3 94.2,259.8 92.7,260.4 91.2,260.9 89.7,261.5 88.3,262.1 86.8,262.8 85.3,263.3 83.9,263.8 82.4,264.3 80.9,264.8 79.4,265.3 78.0,265.8 76.5,266.4 75.0,266.9 73.6,267.4 72.1,267.8 70.6,268.1 69.2,268.4 67.7,268.5 66.2,268.7 64.7,269.1 63.3,269.4 61.8,269.6 60.3,269.6 58.9,269.5 57.4,269.4 55.9,269.3 54.4,269.2 53.0,269.1 51.5,268.9 50.0,268.9 48.6,269.0 47.1,269.1 45.6,269.1 44.2,268.9 42.7,269.0 41.2,269.1 39.7,269.4 38.3,269.7 36.8,270.2 35.3,270.7 33.9,271.1 32.4,271.5 30.9,271.8 29.5,271.8 28.0,271.8 26.5,271.7 25.0,271.6 23.6,271.5 22.1,271.5" fill="#dbeedb" opacity="0.85"/>
<polygon points="22.1,267.2 23.6,266.7 25.0,266.4 26.5,266.2 28.0,265.3 29.5,264.5 30.9,263.3 32.4,262.8 33.9,261.9 35.3,261.3 36.8,260.5 38.3,259.6 39.7,259.0 41.2,258.2 42.7,257.5 44.2,256.5 45.6,255.7 47.1,254.9 48.6,254.5 50.0,254.0 51.5,253.5 53.0,252.6 54.4,251.8 55.9,250.8 57.4,250.0 58.9,249.1 60.3,248.1 61.8,247.3 63.3,246.3 64.7,245.6 66.2,244.6 67.7,244.0 69.2,243.0 70.6,242.3 72.1,241.3 73.6,240.8 75.0,240.1 76.5,239.3 78.0,238.4 79.4,237.4 80.9,236.7 82.4,235.9 83.9,235.2 85.3,234.2 86.8,233.6 88.3,232.8 89.7,232.2 91.2,231.6 92.7,230.9 94.2,230.2 95.6,229.6 97.1,228.7 98.6,228.1 100.0,227.5 101.5,227.4 103.0,227.2 104.4,226.7 105.9,226.0 107.4,225.1 108.9,224.5 110.3,224.1 111.8,223.9 113.3,223.5 114.7,223.2 116.2,223.1 117.7,223.3 119.1,223.2 120.6,223.0 122.1,222.7 123.6,222.7 125.0,222.9 126.5,223.6 128.0,224.3 129.4,225.1 130.9,225.8 132.4,226.2 133.9,227.0 135.3,227.6 136.8,228.6 138.3,229.5 139.7,230.3 141.2,230.7 142.7,231.0 144.1,231.3 145.6,231.6 147.1,231.7 148.6,232.1 150.0,232.7 151.5,232.9 153.0,233.2 154.4,233.4 155.9,233.6 157.4,233.9 158.8,234.3 160.3,235.0 161.8,235.4 163.3,235.9 164.7,236.6 166.2,237.4 167.7,238.2 169.1,238.5 170.6,239.0 172.1,239.4 173.6,239.7 175.0,240.0 176.5,240.4 178.0,241.1 179.4,241.5 180.9,242.2 182.4,242.8 183.8,243.4 185.3,244.0 186.8,244.6 188.3,245.2 189.7,245.8 191.2,246.3 192.7,246.8 194.1,247.1 195.6,247.4 197.1,247.9 198.5,248.7 200.0,249.2 201.5,249.7 203.0,249.7 204.4,250.1 205.9,250.6 207.4,251.1 208.8,251.4 210.3,251.5 211.8,251.5 213.3,251.7 214.7,251.9 216.2,252.1 217.7,252.6 219.1,253.1 220.6,253.6 222.1,253.9 223.5,254.0 225.0,254.3 226.5,254.6 228.0,255.3 229.4,255.8 230.9,256.5 232.4,257.0 233.8,257.3 235.3,258.0 236.8,258.8 238.3,259.4 239.7,259.9 241.2,260.3 242.7,260.6 244.1,261.1 245.6,261.1 247.1,261.3 248.5,261.4 250.0,261.7 251.5,261.9 253.0,262.1 254.4,262.1 255.9,262.7 257.4,263.0 258.8,263.6 260.3,263.7 261.8,264.1 263.2,264.4 264.7,264.5 266.2,264.7 267.7,264.6 269.1,264.7 270.6,264.7 270.6,266.7 269.1,266.8 267.7,266.7 266.2,266.7 264.7,266.5 263.2,266.4 261.8,266.2 260.3,265.8 258.8,265.8 257.4,265.1 255.9,264.9 254.4,264.2 253.0,264.3 251.5,264.1 250.0,263.9 248.5,263.7 247.1,263.6 245.6,263.4 244.1,263.4 242.7,263.0 241.2,262.7 239.7,262.3 238.3,261.9 236.8,261.3 235.3,260.5 233.8,259.9 232.4,259.6 230.9,259.2 229.4,258.6 228.0,258.1 226.5,257.5 225.0,257.3 223.5,257.0 222.1,256.9 220.6,256.7 219.1,256.3 217.7,255.8 216.2,255.4 214.7,255.2 213.3,255.1 211.8,255.0 210.3,255.0 208.8,255.0 207.4,254.8 205.9,254.3 204.4,253.9 203.0,253.5 201.5,253.5 200.0,253.1 198.5,252.6 197.1,251.9 195.6,251.4 194.1,251.0 192.7,250.8 191.2,250.3 189.7,249.8 188.3,249.2 186.8,248.6 185.3,247.9 183.8,247.3 182.4,246.7 180.9,246.1 179.4,245.4 178.0,244.9 176.5,244.2 175.0,243.8 173.6,243.4 172.1,243.0 170.6,242.6 169.1,242.1 167.7,241.7 166.2,240.9 164.7,240.0 163.3,239.2 161.8,238.6 160.3,238.2 158.8,237.5 157.4,237.1 155.9,236.8 154.4,236.5 153.0,236.2 151.5,236.0 150.0,235.8 148.6,235.2 147.1,234.8 145.6,234.7 144.1,234.4 142.7,234.2 141.2,234.0 139.7,233.6 138.3,232.9 136.8,232.0 135.3,231.2 133.9,230.6 132.4,230.0 130.9,229.6 129.4,229.0 128.0,228.3 126.5,227.7 125.0,227.1 123.6,227.0 122.1,227.1 120.6,227.4 119.1,227.7 117.7,227.8 116.2,227.5 114.7,227.7 113.3,227.9 111.8,228.3 110.3,228.4 108.9,228.8 107.4,229.3 105.9,230.1 104.4,230.7 103.0,231.1 101.5,231.2 100.0,231.2 98.6,231.7 97.1,232.2 95.6,232.9 94.2,233.4 92.7,234.0 91.2,234.6 89.7,235.1 88.3,235.5 86.8,236.2 85.3,236.8 83.9,237.7 82.4,238.3 80.9,239.1 79.4,239.7 78.0,240.6 76.5,241.5 75.0,242.3 73.6,242.9 72.1,243.5 70.6,244.4 69.2,245.1 67.7,246.1 66.2,246.7 64.7,247.7 63.3,248.3 61.8,249.3 60.3,250.1 58.9,251.1 57.4,252.0 55.9,252.8 54.4,253.8 53.0,254.6 51.5,255.5 50.0,256.0 48.6,256.5 47.1,256.9 45.6,257.7 44.2,258.5 42.7,259.5 41.2,260.2 39.7,261.0 38.3,261.6 36.8,262.5 35.3,263.3 33.9,263.9 32.4,264.8 30.9,265.3 29.5,266.5 28.0,267.3 26.5,268.2 25.0,268.4 23.6,268.7 22.1,269.2" fill="#d5e8f7" opacity="0.85"/>
<line x1="121.80" y1="271.35" x2="121.80" y2="225.46" stroke="#e8525e" stroke-width="0.6" stroke-dasharray="2.4 2.3" />
<line x1="24.55" y1="250.55" x2="24.55" y2="271.35" stroke="#444" stroke-width="0.6" stroke-dasharray="2.3 2.3" />
<line x1="268.40" y1="250.55" x2="268.40" y2="271.35" stroke="#444" stroke-width="0.6" stroke-dasharray="2.3 2.3" />
<polyline points="22.1,270.8 23.6,270.8 25.0,270.9 26.5,270.9 28.0,271.0 29.5,271.0 30.9,270.9 32.4,270.5 33.9,270.0 35.3,269.5 36.8,269.0 38.3,268.4 39.7,268.0 41.2,267.7 42.7,267.6 44.2,267.4 45.6,267.6 47.1,267.6 48.6,267.5 50.0,267.4 51.5,267.5 53.0,267.8 54.4,268.0 55.9,268.1 57.4,268.2 58.9,268.4 60.3,268.5 61.8,268.5 63.3,268.3 64.7,267.9 66.2,267.6 67.7,267.3 69.2,267.1 70.6,266.8 72.1,266.4 73.6,265.9 75.0,265.4 76.5,264.8 78.0,264.1 79.4,263.5 80.9,263.0 82.4,262.3 83.9,261.8 85.3,261.2 86.8,260.7 88.3,260.0 89.7,259.2 91.2,258.6 92.7,258.2 94.2,257.5 95.6,257.0 97.1,256.3 98.6,255.9 100.0,255.2 101.5,254.6 103.0,253.8 104.4,253.2 105.9,252.5 107.4,251.7 108.9,250.8 110.3,250.0 111.8,249.4 113.3,248.8 114.7,248.0 116.2,247.0 117.7,246.0 119.1,245.2 120.6,244.7 122.1,244.4 123.6,244.5 125.0,244.9 126.5,245.6 128.0,246.3 129.4,247.1 130.9,247.7 132.4,248.4 133.9,249.0 135.3,249.8 136.8,250.7 138.3,251.4 139.7,252.0 141.2,252.4 142.7,252.8 144.1,253.3 145.6,253.6 147.1,254.2 148.6,254.6 150.0,255.1 151.5,255.3 153.0,255.6 154.4,255.9 155.9,256.2 157.4,256.5 158.8,256.7 160.3,256.9 161.8,257.1 163.3,257.2 164.7,257.0 166.2,256.6 167.7,256.3 169.1,256.0 170.6,255.7 172.1,255.4 173.6,255.2 175.0,255.0 176.5,254.9 178.0,254.7 179.4,254.5 180.9,254.5 182.4,254.4 183.8,254.3 185.3,254.3 186.8,254.5 188.3,254.7 189.7,255.0 191.2,255.1 192.7,255.3 194.1,255.5 195.6,255.9 197.1,256.3 198.5,256.8 200.0,257.1 201.5,257.5 203.0,257.9 204.4,258.5 205.9,258.9 207.4,259.4 208.8,259.7 210.3,260.1 211.8,260.6 213.3,261.2 214.7,261.6 216.2,261.9 217.7,262.2 219.1,262.5 220.6,262.8 222.1,263.1 223.5,263.5 225.0,263.8 226.5,264.1 228.0,264.3 229.4,264.7 230.9,265.0 232.4,265.3 233.8,265.5 235.3,265.8 236.8,265.9 238.3,266.1 239.7,266.4 241.2,266.5 242.7,266.7 244.1,266.8 245.6,267.1 247.1,267.2 248.5,267.4 250.0,267.5 251.5,267.6 253.0,267.6 254.4,267.8 255.9,267.9 257.4,268.2 258.8,268.4 260.3,268.7 261.8,268.9 263.2,269.0 264.7,269.0 266.2,269.2 267.7,269.2 269.1,269.5 270.6,269.6" fill="none" stroke="#1f7a33" stroke-width="0.88" stroke-linejoin="round"/>
<polyline points="22.1,268.2 23.6,267.7 25.0,267.4 26.5,267.2 28.0,266.3 29.5,265.5 30.9,264.3 32.4,263.8 33.9,262.9 35.3,262.3 36.8,261.5 38.3,260.6 39.7,260.0 41.2,259.2 42.7,258.5 44.2,257.5 45.6,256.7 47.1,255.9 48.6,255.5 50.0,255.0 51.5,254.5 53.0,253.6 54.4,252.8 55.9,251.8 57.4,251.0 58.9,250.1 60.3,249.1 61.8,248.3 63.3,247.3 64.7,246.6 66.2,245.7 67.7,245.1 69.2,244.0 70.6,243.3 72.1,242.4 73.6,241.9 75.0,241.2 76.5,240.4 78.0,239.5 79.4,238.5 80.9,237.9 82.4,237.1 83.9,236.5 85.3,235.5 86.8,234.9 88.3,234.1 89.7,233.7 91.2,233.1 92.7,232.5 94.2,231.8 95.6,231.3 97.1,230.5 98.6,229.9 100.0,229.4 101.5,229.3 103.0,229.1 104.4,228.7 105.9,228.0 107.4,227.2 108.9,226.6 110.3,226.2 111.8,226.1 113.3,225.7 114.7,225.5 116.2,225.3 117.7,225.5 119.1,225.4 120.6,225.2 122.1,224.9 123.6,224.8 125.0,225.0 126.5,225.6 128.0,226.3 129.4,227.1 130.9,227.7 132.4,228.1 133.9,228.8 135.3,229.4 136.8,230.3 138.3,231.2 139.7,232.0 141.2,232.4 142.7,232.6 144.1,232.8 145.6,233.1 147.1,233.3 148.6,233.7 150.0,234.2 151.5,234.5 153.0,234.7 154.4,234.9 155.9,235.2 157.4,235.5 158.8,235.9 160.3,236.6 161.8,237.0 163.3,237.6 164.7,238.3 166.2,239.2 167.7,239.9 169.1,240.3 170.6,240.8 172.1,241.2 173.6,241.6 175.0,241.9 176.5,242.3 178.0,243.0 179.4,243.4 180.9,244.2 182.4,244.7 183.8,245.3 185.3,245.9 186.8,246.6 188.3,247.2 189.7,247.8 191.2,248.3 192.7,248.8 194.1,249.0 195.6,249.4 197.1,249.9 198.5,250.6 200.0,251.1 201.5,251.6 203.0,251.6 204.4,252.0 205.9,252.5 207.4,253.0 208.8,253.2 210.3,253.2 211.8,253.2 213.3,253.4 214.7,253.5 216.2,253.8 217.7,254.2 219.1,254.7 220.6,255.1 222.1,255.4 223.5,255.5 225.0,255.8 226.5,256.1 228.0,256.7 229.4,257.2 230.9,257.9 232.4,258.3 233.8,258.6 235.3,259.3 236.8,260.1 238.3,260.7 239.7,261.1 241.2,261.5 242.7,261.8 244.1,262.2 245.6,262.3 247.1,262.4 248.5,262.5 250.0,262.8 251.5,263.0 253.0,263.2 254.4,263.2 255.9,263.8 257.4,264.0 258.8,264.7 260.3,264.8 261.8,265.2 263.2,265.4 264.7,265.5 266.2,265.7 267.7,265.7 269.1,265.8 270.6,265.7" fill="none" stroke="#2a78c6" stroke-width="0.88" stroke-linejoin="round"/>
<line x1="21.90" y1="217.00" x2="21.90" y2="273.55" stroke="#8a8a8a" stroke-width="0.9" />
<line x1="270.60" y1="217.00" x2="270.60" y2="273.55" stroke="#8a8a8a" stroke-width="0.9" />
<line x1="21.50" y1="271.35" x2="271.00" y2="271.35" stroke="#5a5a5a" stroke-width="0.95" />
<line x1="20.00" y1="219.80" x2="21.60" y2="219.80" stroke="#555" stroke-width="0.6" />
<text x="18.90" y="221.35" font-size="4.5" fill="#2a9636" text-anchor="end" stroke="#2a9636" stroke-width="0.07" >4.2</text>
<line x1="20.00" y1="234.60" x2="21.60" y2="234.60" stroke="#555" stroke-width="0.6" />
<text x="18.90" y="236.15" font-size="4.5" fill="#2a9636" text-anchor="end" stroke="#2a9636" stroke-width="0.07" >4.0</text>
<line x1="20.00" y1="249.40" x2="21.60" y2="249.40" stroke="#555" stroke-width="0.6" />
<text x="18.90" y="250.95" font-size="4.5" fill="#2a9636" text-anchor="end" stroke="#2a9636" stroke-width="0.07" >3.8</text>
<line x1="20.00" y1="264.20" x2="21.60" y2="264.20" stroke="#555" stroke-width="0.6" />
<text x="18.90" y="265.75" font-size="4.5" fill="#2a9636" text-anchor="end" stroke="#2a9636" stroke-width="0.07" >3.6</text>
<line x1="270.90" y1="221.40" x2="272.60" y2="221.40" stroke="#555" stroke-width="0.6" />
<text x="273.90" y="222.95" font-size="4.5" fill="#1f72cf" text-anchor="start" stroke="#1f72cf" stroke-width="0.07" >12.5</text>
<line x1="270.90" y1="230.80" x2="272.60" y2="230.80" stroke="#555" stroke-width="0.6" />
<text x="273.90" y="232.35" font-size="4.5" fill="#1f72cf" text-anchor="start" stroke="#1f72cf" stroke-width="0.07" >10.0</text>
<line x1="270.90" y1="240.30" x2="272.60" y2="240.30" stroke="#555" stroke-width="0.6" />
<text x="273.90" y="241.85" font-size="4.5" fill="#1f72cf" text-anchor="start" stroke="#1f72cf" stroke-width="0.07" >7.5</text>
<line x1="270.90" y1="249.70" x2="272.60" y2="249.70" stroke="#555" stroke-width="0.6" />
<text x="273.90" y="251.25" font-size="4.5" fill="#1f72cf" text-anchor="start" stroke="#1f72cf" stroke-width="0.07" >5.0</text>
<line x1="270.90" y1="259.20" x2="272.60" y2="259.20" stroke="#555" stroke-width="0.6" />
<text x="273.90" y="260.75" font-size="4.5" fill="#1f72cf" text-anchor="start" stroke="#1f72cf" stroke-width="0.07" >2.5</text>
<line x1="270.90" y1="268.60" x2="272.60" y2="268.60" stroke="#555" stroke-width="0.6" />
<text x="273.90" y="270.15" font-size="4.5" fill="#1f72cf" text-anchor="start" stroke="#1f72cf" stroke-width="0.07" >0.0</text>
<line x1="71.64" y1="271.35" x2="71.64" y2="273.35" stroke="#666" stroke-width="0.6" />
<line x1="121.38" y1="271.35" x2="121.38" y2="273.35" stroke="#666" stroke-width="0.6" />
<line x1="171.12" y1="271.35" x2="171.12" y2="273.35" stroke="#666" stroke-width="0.6" />
<line x1="220.86" y1="271.35" x2="220.86" y2="273.35" stroke="#666" stroke-width="0.6" />
<text x="146.90" y="268.95" font-size="6.1" fill="#222" text-anchor="middle" stroke="#222" stroke-width="0.08" font-weight="bold" >Participant b</text>
<clipPath id="c24_214"><rect x="24.2" y="214.9" width="66" height="17.9"/></clipPath>
<rect x="24.20" y="214.90" width="66.00" height="17.90" fill="#262627" stroke="none" stroke-width="0" />
<g clip-path="url(#c24_214)">
<g filter="url(#b2)">
<ellipse cx="57.2" cy="224" rx="3" ry="10" fill="#080808" opacity="0.8"/>
<ellipse cx="40" cy="231.5" rx="30" ry="1.6" fill="#0c0c0c" opacity="0.7"/>
<ellipse cx="76" cy="231.5" rx="30" ry="1.6" fill="#0c0c0c" opacity="0.7"/>
</g>
<g filter="url(#b15)">
<line x1="59.1" y1="218.4" x2="79.8" y2="218.1" stroke="#8a8a8a" stroke-width="0.53" opacity="0.53"/>
<line x1="48.8" y1="228.9" x2="66.9" y2="228.1" stroke="#8a8a8a" stroke-width="0.40" opacity="0.38"/>
<line x1="23.2" y1="225.2" x2="47.1" y2="224.5" stroke="#8a8a8a" stroke-width="0.54" opacity="0.26"/>
<line x1="61.9" y1="232.0" x2="87.4" y2="231.9" stroke="#8a8a8a" stroke-width="0.42" opacity="0.37"/>
<line x1="25.9" y1="223.8" x2="52.9" y2="223.3" stroke="#8a8a8a" stroke-width="0.49" opacity="0.54"/>
<line x1="72.8" y1="217.7" x2="89.9" y2="217.5" stroke="#8a8a8a" stroke-width="0.61" opacity="0.42"/>
<line x1="21.3" y1="218.7" x2="46.7" y2="218.0" stroke="#8a8a8a" stroke-width="0.87" opacity="0.32"/>
<line x1="70.9" y1="231.5" x2="94.0" y2="231.7" stroke="#8a8a8a" stroke-width="0.75" opacity="0.51"/>
<line x1="46.7" y1="217.7" x2="71.3" y2="216.9" stroke="#8a8a8a" stroke-width="0.95" opacity="0.56"/>
<line x1="40.3" y1="222.4" x2="57.3" y2="221.9" stroke="#8a8a8a" stroke-width="1.00" opacity="0.39"/>
<line x1="24.6" y1="216.1" x2="47.0" y2="216.7" stroke="#8a8a8a" stroke-width="0.70" opacity="0.42"/>
<line x1="62.4" y1="224.7" x2="74.9" y2="224.6" stroke="#8a8a8a" stroke-width="0.73" opacity="0.47"/>
<line x1="29.0" y1="218.6" x2="44.0" y2="219.1" stroke="#8a8a8a" stroke-width="0.61" opacity="0.46"/>
<line x1="25.2" y1="220.7" x2="34.5" y2="221.0" stroke="#8a8a8a" stroke-width="0.87" opacity="0.38"/>
<line x1="58.3" y1="226.8" x2="84.2" y2="227.4" stroke="#8a8a8a" stroke-width="0.64" opacity="0.60"/>
<line x1="53.3" y1="231.4" x2="79.0" y2="231.1" stroke="#8a8a8a" stroke-width="0.63" opacity="0.34"/>
<line x1="28.6" y1="230.0" x2="38.0" y2="230.2" stroke="#8a8a8a" stroke-width="0.86" opacity="0.42"/>
<line x1="22.2" y1="229.3" x2="35.4" y2="228.7" stroke="#8a8a8a" stroke-width="0.65" opacity="0.31"/>
<polyline points="27.7,220.1 28.7,220.5 29.8,220.9 30.8,221.3 31.9,221.6 32.9,221.9 34.0,222.2 35.0,222.4 36.1,222.6 37.1,222.7 38.2,222.8 39.2,222.9 40.3,223.0 41.3,223.1 42.4,223.1 43.4,223.1 44.5,223.1 45.5,223.0 46.6,222.8 47.6,222.6 48.7,222.4 49.7,222.1 50.8,221.8 51.8,221.5" fill="none" stroke="#e6e6e6" stroke-width="1.7" opacity="0.85" stroke-linecap="round"/>
<polyline points="26.6,228.1 27.7,228.1 28.9,228.0 30.0,228.0 31.2,228.0 32.3,227.9 33.5,227.9 34.6,227.8 35.7,227.8 36.9,227.7 38.0,227.6 39.2,227.6 40.3,227.5 41.5,227.4 42.6,227.4 43.8,227.3 44.9,227.2 46.0,227.1 47.2,227.0 48.3,226.9 49.5,226.8 50.6,226.7 51.8,226.5 52.9,226.4" fill="none" stroke="#e6e6e6" stroke-width="1.7" opacity="0.85" stroke-linecap="round"/>
<polyline points="58.3,220.4 59.7,220.6 61.1,220.8 62.4,220.9 63.8,221.1 65.2,221.2 66.6,221.3 68.0,221.3 69.4,221.4 70.7,221.4 72.1,221.5 73.5,221.5 74.9,221.5 76.3,221.5 77.7,221.5 79.0,221.5 80.4,221.4 81.8,221.1 83.2,220.8 84.6,220.4 86.0,219.9 87.3,219.3 88.7,218.8 90.1,218.2" fill="none" stroke="#e6e6e6" stroke-width="1.7" opacity="0.85" stroke-linecap="round"/>
<polyline points="58.3,228.6 59.7,228.4 61.1,228.3 62.4,228.1 63.8,228.0 65.2,227.8 66.6,227.6 68.0,227.5 69.4,227.3 70.7,227.1 72.1,227.0 73.5,226.8 74.9,226.6 76.3,226.5 77.7,226.3 79.0,226.1 80.4,226.0 81.8,225.8 83.2,225.6 84.6,225.5 86.0,225.3 87.3,225.1 88.7,225.0 90.1,224.8" fill="none" stroke="#e6e6e6" stroke-width="1.7" opacity="0.85" stroke-linecap="round"/>
</g>
<rect x="24.2" y="214.9" width="66" height="17.9" fill="#fff" filter="url(#nzh)" opacity="0.5"/>
<rect x="24.2" y="214.9" width="66" height="17.9" fill="#000" filter="url(#nzd)" opacity="0.4"/>
</g>
<line x1="57.20" y1="214.90" x2="57.20" y2="232.80" stroke="#0c0c10" stroke-width="0.6" />
<rect x="57.20" y="214.60" width="33.00" height="1.70" fill="#f6a2ad" stroke="none" stroke-width="0" />
<line x1="43.50" y1="222.90" x2="43.50" y2="227.40" stroke="#fff" stroke-width="1.7" />
<line x1="41.20" y1="222.90" x2="45.80" y2="222.90" stroke="#fff" stroke-width="0.8" />
<line x1="41.20" y1="227.40" x2="45.80" y2="227.40" stroke="#fff" stroke-width="0.8" />
<line x1="78.60" y1="221.30" x2="78.60" y2="226.40" stroke="#fff" stroke-width="1.6" />
<line x1="76.60" y1="221.30" x2="80.60" y2="221.30" stroke="#fff" stroke-width="0.8" />
<line x1="76.60" y1="226.40" x2="80.60" y2="226.40" stroke="#fff" stroke-width="0.8" />
<clipPath id="c198_219"><rect x="198.1" y="219.8" width="70.5" height="25.0"/></clipPath>
<rect x="198.10" y="219.80" width="70.50" height="25.00" fill="#474748" stroke="none" stroke-width="0" />
<g clip-path="url(#c198_219)">
<g filter="url(#b2)">
<ellipse cx="213.7" cy="222.7" rx="2.4" ry="1.1" fill="#050505" opacity="0.9"/>
<ellipse cx="224.8" cy="226.8" rx="2.2" ry="1.1" fill="#050505" opacity="0.9"/>
<ellipse cx="203.1" cy="233" rx="2" ry="1.2" fill="#111" opacity="0.8"/>
<ellipse cx="244.5" cy="222.7" rx="2.4" ry="1.1" fill="#050505" opacity="0.9"/>
<ellipse cx="257" cy="226.4" rx="2.2" ry="1.1" fill="#050505" opacity="0.9"/>
<ellipse cx="228" cy="242" rx="5" ry="3" fill="#141414" opacity="0.8"/>
<ellipse cx="265" cy="240" rx="4" ry="5" fill="#101010" opacity="0.85"/>
<ellipse cx="204" cy="241.5" rx="6" ry="2.5" fill="#a8a8a8" opacity="0.7"/>
<ellipse cx="238" cy="242.5" rx="5" ry="2" fill="#a0a0a0" opacity="0.6"/>
<ellipse cx="248.3" cy="240.8" rx="2.7" ry="3.0" fill="#101010" opacity="0.45"/>
<ellipse cx="210.0" cy="236.8" rx="4.8" ry="3.0" fill="#555" opacity="0.45"/>
<ellipse cx="249.2" cy="238.9" rx="3.8" ry="2.7" fill="#6a6a6a" opacity="0.45"/>
<ellipse cx="200.1" cy="224.0" rx="4.0" ry="2.7" fill="#555" opacity="0.45"/>
<ellipse cx="233.3" cy="244.7" rx="4.7" ry="1.5" fill="#777" opacity="0.45"/>
<ellipse cx="209.2" cy="228.0" rx="3.2" ry="2.1" fill="#555" opacity="0.45"/>
<ellipse cx="244.7" cy="220.6" rx="2.9" ry="1.7" fill="#6a6a6a" opacity="0.45"/>
<ellipse cx="220.0" cy="225.9" rx="4.4" ry="1.3" fill="#0a0a0a" opacity="0.45"/>
</g>
<g filter="url(#b15)">
<polyline points="198.5,235.2 200.0,236.3 201.4,237.3 202.9,238.3 204.4,239.1 205.8,239.8 207.3,240.5 208.8,241.2 210.3,241.9 211.7,242.4 213.2,242.8 214.7,243.0 216.1,242.9 217.6,242.5 219.1,242.0 220.5,241.2 222.0,240.3 223.5,239.4 225.0,238.0 226.4,236.1 227.9,234.0 229.4,231.5 230.8,228.3 232.3,224.6" fill="none" stroke="#8e8e8e" stroke-width="2.6" opacity="0.55" stroke-linecap="round"/>
<polyline points="198.5,233.7 200.0,234.8 201.4,235.8 202.9,236.8 204.4,237.6 205.8,238.3 207.3,239.0 208.8,239.7 210.3,240.4 211.7,240.9 213.2,241.3 214.7,241.5 216.1,241.4 217.6,241.0 219.1,240.5 220.5,239.7 222.0,238.8 223.5,237.9 225.0,236.5 226.4,234.6 227.9,232.5 229.4,230.0 230.8,226.8 232.3,223.1" fill="none" stroke="#ececec" stroke-width="2.0" opacity="0.95" stroke-linecap="round"/>
<polyline points="234.0,235.8 235.4,237.1 236.8,238.4 238.2,239.4 239.6,240.3 241.0,241.0 242.4,241.5 243.8,242.0 245.2,242.4 246.6,242.7 248.0,242.9 249.4,243.0 250.8,242.6 252.2,241.9 253.6,240.9 255.0,239.6 256.4,238.3 257.8,237.0 259.2,235.3 260.6,233.4 262.0,231.3 263.4,229.1 264.8,226.7 266.2,224.0" fill="none" stroke="#8e8e8e" stroke-width="2.6" opacity="0.55" stroke-linecap="round"/>
<polyline points="234.0,234.3 235.4,235.6 236.8,236.9 238.2,237.9 239.6,238.8 241.0,239.5 242.4,240.0 243.8,240.5 245.2,240.9 246.6,241.2 248.0,241.4 249.4,241.5 250.8,241.1 252.2,240.4 253.6,239.4 255.0,238.1 256.4,236.8 257.8,235.5 259.2,233.8 260.6,231.9 262.0,229.8 263.4,227.6 264.8,225.2 266.2,222.5" fill="none" stroke="#ececec" stroke-width="2.0" opacity="0.95" stroke-linecap="round"/>
</g>
<rect x="198.1" y="219.8" width="70.5" height="25.0" fill="#fff" filter="url(#nz)" opacity="0.25"/>
<rect x="198.1" y="219.8" width="70.5" height="25.0" fill="#000" filter="url(#nzd)" opacity="0.2"/>
</g>
<line x1="233.35" y1="219.80" x2="233.35" y2="244.80" stroke="#0c0c10" stroke-width="0.6" />
<rect x="233.35" y="219.50" width="35.25" height="1.70" fill="#f6a2ad" stroke="none" stroke-width="0" />
<path d="M0,0 L2.0,3.4 L0.75,3.1 L1.05,6.0 L-1.05,6.0 L-0.75,3.1 L-2.0,3.4 Z" fill="#fff" transform="translate(215.9,237.2) rotate(-64)"/>
<text x="21.90" y="278.00" font-size="4.1" fill="#333" text-anchor="middle" stroke="#333" stroke-width="0.07" >0</text>
<text x="71.64" y="278.00" font-size="4.1" fill="#333" text-anchor="middle" stroke="#333" stroke-width="0.07" >20</text>
<text x="121.38" y="278.00" font-size="4.1" fill="#333" text-anchor="middle" stroke="#333" stroke-width="0.07" >40</text>
<text x="171.12" y="278.00" font-size="4.1" fill="#333" text-anchor="middle" stroke="#333" stroke-width="0.07" >60</text>
<text x="220.86" y="278.00" font-size="4.1" fill="#333" text-anchor="middle" stroke="#333" stroke-width="0.07" >80</text>
<text x="270.60" y="278.00" font-size="4.1" fill="#333" text-anchor="middle" stroke="#333" stroke-width="0.07" >100</text>
<text x="147.60" y="283.70" font-size="6.05" fill="#222" text-anchor="middle" stroke="#222" stroke-width="0.07" >Respiration cycle (%)</text>
<text x="325.00" y="14.60" font-size="8.5" fill="#111" text-anchor="middle" stroke="#111" stroke-width="0.08" font-weight="bold" >C</text>
<rect x="362.00" y="10.40" width="6.22" height="7.80" fill="#7fba97" stroke="none" stroke-width="0" />
<rect x="368.82" y="8.00" width="6.22" height="10.20" fill="#7fba97" stroke="none" stroke-width="0" />
<rect x="375.64" y="1.20" width="6.22" height="17.00" fill="#7fba97" stroke="none" stroke-width="0" />
<rect x="382.46" y="6.30" width="6.22" height="11.90" fill="#7fba97" stroke="none" stroke-width="0" />
<rect x="389.28" y="10.80" width="6.22" height="7.40" fill="#7fba97" stroke="none" stroke-width="0" />
<rect x="396.10" y="15.50" width="6.22" height="2.70" fill="#7fba97" stroke="none" stroke-width="0" />
<rect x="402.92" y="17.70" width="6.22" height="0.50" fill="#7fba97" stroke="none" stroke-width="0" />
<rect x="409.74" y="17.90" width="6.22" height="0.30" fill="#7fba97" stroke="none" stroke-width="0" />
<rect x="416.56" y="17.95" width="6.22" height="0.25" fill="#7fba97" stroke="none" stroke-width="0" />
<rect x="423.38" y="17.90" width="6.22" height="0.30" fill="#7fba97" stroke="none" stroke-width="0" />
<polyline points="361.7,13.2 362.9,12.5 364.0,11.9 365.2,11.2 366.4,10.6 367.6,9.9 368.7,9.3 369.9,8.6 371.1,8.0 372.3,7.4 373.4,6.8 374.6,6.3 375.8,5.9 377.0,5.5 378.1,5.2 379.3,4.9 380.5,4.7 381.7,4.7 382.8,4.9 384.0,5.2 385.2,5.6 386.4,6.0 387.5,6.4 388.7,6.9 389.9,7.6 391.1,8.3 392.2,9.0 393.4,9.8 394.6,10.6 395.8,11.5 396.9,12.5 398.1,13.4 399.3,14.3 400.5,15.0 401.6,15.6 402.8,16.3 404.0,16.8 405.2,17.0 406.3,17.2 407.5,17.3 408.7,17.4 409.9,17.5 411.0,17.6 412.2,17.6 413.4,17.6 414.6,17.7 415.7,17.7 416.9,17.7 418.1,17.8 419.3,17.8 420.4,17.8 421.6,17.8 422.8,17.8 424.0,17.9 425.1,17.9 426.3,17.9 427.5,17.9 428.7,17.9 429.8,17.9 431.0,17.9" fill="none" stroke="#2e8b57" stroke-width="0.6"/>
<rect x="443.50" y="63.00" width="6.80" height="6.78" fill="#7fba97" stroke="none" stroke-width="0" />
<rect x="443.50" y="70.38" width="8.80" height="6.78" fill="#7fba97" stroke="none" stroke-width="0" />
<rect x="443.50" y="77.76" width="16.40" height="6.78" fill="#7fba97" stroke="none" stroke-width="0" />
<rect x="443.50" y="85.14" width="12.50" height="6.78" fill="#7fba97" stroke="none" stroke-width="0" />
<rect x="443.50" y="92.52" width="12.50" height="6.78" fill="#7fba97" stroke="none" stroke-width="0" />
<polyline points="444.1,32.0 444.1,33.2 444.1,34.3 444.1,35.5 444.1,36.6 444.1,37.8 444.2,38.9 444.2,40.1 444.2,41.2 444.2,42.4 444.2,43.5 444.3,44.7 444.3,45.8 444.3,47.0 444.4,48.1 444.4,49.3 444.4,50.4 444.5,51.6 444.5,52.7 444.6,53.9 444.7,55.1 444.7,56.2 444.8,57.4 445.0,58.5 445.1,59.7 445.4,60.8 445.9,62.0 446.4,63.1 447.1,64.3 447.7,65.4 448.3,66.6 449.0,67.7 449.8,68.9 450.7,70.0 451.5,71.2 452.2,72.3 453.0,73.5 453.7,74.6 454.4,75.8 455.0,76.9 455.5,78.1 456.0,79.3 456.4,80.4 456.8,81.6 457.0,82.7 457.1,83.9 457.0,85.0 456.9,86.2 456.7,87.3 456.4,88.5 456.1,89.6 455.7,90.8 455.2,91.9 454.6,93.1 453.9,94.2 453.3,95.4 452.6,96.5 451.9,97.7 451.1,98.8 450.3,100.0" fill="none" stroke="#2e8b57" stroke-width="0.6"/>
<line x1="334.40" y1="18.20" x2="439.80" y2="18.20" stroke="#555" stroke-width="0.6" />
<line x1="443.50" y1="21.90" x2="443.50" y2="128.90" stroke="#555" stroke-width="0.6" />
<line x1="334.40" y1="21.90" x2="334.40" y2="128.90" stroke="#999" stroke-width="0.6" />
<line x1="334.40" y1="128.90" x2="439.80" y2="128.90" stroke="#999" stroke-width="0.6" />
<line x1="334.40" y1="128.90" x2="334.40" y2="130.30" stroke="#888" stroke-width="0.4" />
<text x="334.40" y="134.90" font-size="3.6" fill="#333" text-anchor="middle" stroke="#333" stroke-width="0.07" >0.0</text>
<line x1="334.40" y1="18.20" x2="334.40" y2="19.40" stroke="#888" stroke-width="0.4" />
<line x1="357.50" y1="128.90" x2="357.50" y2="130.30" stroke="#888" stroke-width="0.4" />
<text x="357.50" y="134.90" font-size="3.6" fill="#333" text-anchor="middle" stroke="#333" stroke-width="0.07" >1.0</text>
<line x1="357.50" y1="18.20" x2="357.50" y2="19.40" stroke="#888" stroke-width="0.4" />
<line x1="380.60" y1="128.90" x2="380.60" y2="130.30" stroke="#888" stroke-width="0.4" />
<text x="380.60" y="134.90" font-size="3.6" fill="#333" text-anchor="middle" stroke="#333" stroke-width="0.07" >2.0</text>
<line x1="380.60" y1="18.20" x2="380.60" y2="19.40" stroke="#888" stroke-width="0.4" />
<line x1="403.70" y1="128.90" x2="403.70" y2="130.30" stroke="#888" stroke-width="0.4" />
<text x="403.70" y="134.90" font-size="3.6" fill="#333" text-anchor="middle" stroke="#333" stroke-width="0.07" >3.0</text>
<line x1="403.70" y1="18.20" x2="403.70" y2="19.40" stroke="#888" stroke-width="0.4" />
<line x1="426.80" y1="128.90" x2="426.80" y2="130.30" stroke="#888" stroke-width="0.4" />
<text x="426.80" y="134.90" font-size="3.6" fill="#333" text-anchor="middle" stroke="#333" stroke-width="0.07" >4.0</text>
<line x1="426.80" y1="18.20" x2="426.80" y2="19.40" stroke="#888" stroke-width="0.4" />
<line x1="333.00" y1="128.90" x2="334.40" y2="128.90" stroke="#888" stroke-width="0.4" />
<text x="330.90" y="130.15" font-size="3.6" fill="#333" text-anchor="end" stroke="#333" stroke-width="0.07" >0.0</text>
<line x1="442.30" y1="128.90" x2="443.50" y2="128.90" stroke="#888" stroke-width="0.4" />
<line x1="333.00" y1="105.70" x2="334.40" y2="105.70" stroke="#888" stroke-width="0.4" />
<text x="330.90" y="106.95" font-size="3.6" fill="#333" text-anchor="end" stroke="#333" stroke-width="0.07" >1.0</text>
<line x1="442.30" y1="105.70" x2="443.50" y2="105.70" stroke="#888" stroke-width="0.4" />
<line x1="333.00" y1="82.50" x2="334.40" y2="82.50" stroke="#888" stroke-width="0.4" />
<text x="330.90" y="83.75" font-size="3.6" fill="#333" text-anchor="end" stroke="#333" stroke-width="0.07" >2.0</text>
<line x1="442.30" y1="82.50" x2="443.50" y2="82.50" stroke="#888" stroke-width="0.4" />
<line x1="333.00" y1="59.40" x2="334.40" y2="59.40" stroke="#888" stroke-width="0.4" />
<text x="330.90" y="60.65" font-size="3.6" fill="#333" text-anchor="end" stroke="#333" stroke-width="0.07" >3.0</text>
<line x1="442.30" y1="59.40" x2="443.50" y2="59.40" stroke="#888" stroke-width="0.4" />
<line x1="333.00" y1="36.20" x2="334.40" y2="36.20" stroke="#888" stroke-width="0.4" />
<text x="330.90" y="37.45" font-size="3.6" fill="#333" text-anchor="end" stroke="#333" stroke-width="0.07" >4.0</text>
<line x1="442.30" y1="36.20" x2="443.50" y2="36.20" stroke="#888" stroke-width="0.4" />
<line x1="361.50" y1="101.80" x2="431.00" y2="33.00" stroke="#2b7f4f" stroke-width="1.0" />
<circle cx="430.4" cy="32.3" r="1.5" fill="#2e8b57" fill-opacity="0.62"/>
<circle cx="416.8" cy="44.1" r="1.5" fill="#2e8b57" fill-opacity="0.62"/>
<circle cx="414.2" cy="47.0" r="1.5" fill="#2e8b57" fill-opacity="0.62"/>
<circle cx="402.4" cy="54.1" r="1.5" fill="#2e8b57" fill-opacity="0.62"/>
<circle cx="397.2" cy="65.3" r="1.5" fill="#2e8b57" fill-opacity="0.62"/>
<circle cx="395.8" cy="66.4" r="1.5" fill="#2e8b57" fill-opacity="0.62"/>
<circle cx="390.6" cy="67.7" r="1.5" fill="#2e8b57" fill-opacity="0.62"/>
<circle cx="389.3" cy="72.4" r="1.5" fill="#2e8b57" fill-opacity="0.62"/>
<circle cx="386.7" cy="73.7" r="1.5" fill="#2e8b57" fill-opacity="0.62"/>
<circle cx="385.4" cy="75.0" r="1.5" fill="#2e8b57" fill-opacity="0.62"/>
<circle cx="382.7" cy="77.1" r="1.5" fill="#2e8b57" fill-opacity="0.62"/>
<circle cx="381.4" cy="78.2" r="1.5" fill="#2e8b57" fill-opacity="0.62"/>
<circle cx="377.0" cy="78.2" r="1.5" fill="#2e8b57" fill-opacity="0.62"/>
<circle cx="391.9" cy="77.1" r="1.5" fill="#2e8b57" fill-opacity="0.62"/>
<circle cx="395.8" cy="75.8" r="1.5" fill="#2e8b57" fill-opacity="0.62"/>
<circle cx="384.1" cy="78.9" r="1.5" fill="#2e8b57" fill-opacity="0.62"/>
<circle cx="380.1" cy="81.6" r="1.5" fill="#2e8b57" fill-opacity="0.62"/>
<circle cx="382.7" cy="82.4" r="1.5" fill="#2e8b57" fill-opacity="0.62"/>
<circle cx="378.8" cy="83.7" r="1.5" fill="#2e8b57" fill-opacity="0.62"/>
<circle cx="385.4" cy="82.9" r="1.5" fill="#2e8b57" fill-opacity="0.62"/>
<circle cx="377.5" cy="86.0" r="1.5" fill="#2e8b57" fill-opacity="0.62"/>
<circle cx="374.9" cy="87.6" r="1.5" fill="#2e8b57" fill-opacity="0.62"/>
<circle cx="376.2" cy="88.6" r="1.5" fill="#2e8b57" fill-opacity="0.62"/>
<circle cx="380.1" cy="89.4" r="1.5" fill="#2e8b57" fill-opacity="0.62"/>
<circle cx="373.6" cy="89.4" r="1.5" fill="#2e8b57" fill-opacity="0.62"/>
<circle cx="371.0" cy="90.7" r="1.5" fill="#2e8b57" fill-opacity="0.62"/>
<circle cx="369.6" cy="92.0" r="1.5" fill="#2e8b57" fill-opacity="0.62"/>
<circle cx="372.3" cy="93.4" r="1.5" fill="#2e8b57" fill-opacity="0.62"/>
<circle cx="374.9" cy="94.1" r="1.5" fill="#2e8b57" fill-opacity="0.62"/>
<circle cx="367.0" cy="93.4" r="1.5" fill="#2e8b57" fill-opacity="0.62"/>
<circle cx="368.3" cy="94.7" r="1.5" fill="#2e8b57" fill-opacity="0.62"/>
<circle cx="365.7" cy="96.0" r="1.5" fill="#2e8b57" fill-opacity="0.62"/>
<circle cx="364.4" cy="97.3" r="1.5" fill="#2e8b57" fill-opacity="0.62"/>
<circle cx="363.1" cy="97.8" r="1.5" fill="#2e8b57" fill-opacity="0.62"/>
<circle cx="361.8" cy="98.1" r="1.5" fill="#2e8b57" fill-opacity="0.62"/>
<circle cx="362.6" cy="99.1" r="1.5" fill="#2e8b57" fill-opacity="0.62"/>
<circle cx="361.3" cy="98.6" r="1.5" fill="#2e8b57" fill-opacity="0.62"/>
<circle cx="393.2" cy="69.8" r="1.5" fill="#2e8b57" fill-opacity="0.62"/>
<circle cx="388.0" cy="76.3" r="1.5" fill="#2e8b57" fill-opacity="0.62"/>
<circle cx="381.4" cy="80.3" r="1.5" fill="#2e8b57" fill-opacity="0.62"/>
<circle cx="379.3" cy="85.0" r="1.5" fill="#2e8b57" fill-opacity="0.62"/>
<circle cx="375.7" cy="86.8" r="1.5" fill="#2e8b57" fill-opacity="0.62"/>
<circle cx="373.1" cy="91.3" r="1.5" fill="#2e8b57" fill-opacity="0.62"/>
<circle cx="370.4" cy="93.9" r="1.5" fill="#2e8b57" fill-opacity="0.62"/>
<circle cx="367.8" cy="95.5" r="1.5" fill="#2e8b57" fill-opacity="0.62"/>
<circle cx="365.2" cy="97.5" r="1.5" fill="#2e8b57" fill-opacity="0.62"/>
<circle cx="363.6" cy="98.6" r="1.5" fill="#2e8b57" fill-opacity="0.62"/>
<circle cx="389.3" cy="71.1" r="1.5" fill="#2e8b57" fill-opacity="0.62"/>
<circle cx="386.7" cy="72.4" r="1.5" fill="#2e8b57" fill-opacity="0.62"/>
<circle cx="384.8" cy="78.2" r="1.5" fill="#2e8b57" fill-opacity="0.62"/>
<rect x="380.80" y="102.30" width="59.20" height="21.00" fill="#fff" stroke="#888" stroke-width="0.5" />
<text x="383.10" y="110.50" font-size="5.9" fill="#222" text-anchor="start" stroke="#222" stroke-width="0.07" >y = 0.987x</text>
<text x="383.10" y="119.60" font-size="5.9" fill="#222" text-anchor="start" stroke="#222" stroke-width="0.07" >r=0.973, p=1.66e-37</text>
<text x="385.60" y="141.40" font-size="5.95" fill="#222" text-anchor="middle" stroke="#222" stroke-width="0.07" >Thickness by wearable probe (mm)</text>
<text x="321.10" y="75.40" font-size="5.97" fill="#222" text-anchor="middle" stroke="#222" stroke-width="0.07" transform="rotate(-90 321.1 75.4)" >Thickness by Aixplorer's (mm)</text>
<rect x="443.50" y="32.00" width="1.00" height="14.00" fill="#7fba97" stroke="none" stroke-width="0" opacity="0.6"/>
<rect x="341.90" y="29.10" width="7.50" height="17.60" fill="#83dc83" stroke="#4a9e62" stroke-width="0.8" rx="0.3"/>
<path d="M349.59999999999997,35.199999999999996 A2.7,2.7 0 0 1 349.59999999999997,40.6" fill="none" stroke="#62a680" stroke-width="2.0"/>
<path d="M353.40,29.90 A13.20,13.20 0 0 1 353.40,45.90" fill="none" stroke="#62a680" stroke-width="2.8"/>
<path d="M358.40,26.40 A15.94,15.94 0 0 1 358.40,49.40" fill="none" stroke="#62a680" stroke-width="3.1"/>
<text x="325.00" y="160.80" font-size="8.5" fill="#111" text-anchor="middle" stroke="#111" stroke-width="0.08" font-weight="bold" >D</text>
<rect x="347.10" y="156.70" width="10.95" height="8.70" fill="#7fba97" stroke="none" stroke-width="0" />
<rect x="358.65" y="151.10" width="10.95" height="14.30" fill="#7fba97" stroke="none" stroke-width="0" />
<rect x="370.20" y="148.70" width="10.95" height="16.70" fill="#7fba97" stroke="none" stroke-width="0" />
<rect x="381.75" y="158.70" width="10.95" height="6.70" fill="#7fba97" stroke="none" stroke-width="0" />
<rect x="393.30" y="157.30" width="10.95" height="8.10" fill="#7fba97" stroke="none" stroke-width="0" />
<rect x="404.85" y="164.00" width="10.95" height="1.40" fill="#7fba97" stroke="none" stroke-width="0" />
<rect x="416.40" y="164.40" width="10.95" height="1.00" fill="#7fba97" stroke="none" stroke-width="0" />
<polyline points="346.8,159.1 348.2,158.5 349.5,158.0 350.9,157.5 352.3,156.9 353.7,156.4 355.0,155.9 356.4,155.4 357.8,155.0 359.1,154.5 360.5,154.0 361.9,153.6 363.3,153.1 364.6,152.7 366.0,152.3 367.4,152.0 368.7,151.8 370.1,151.6 371.5,151.4 372.9,151.2 374.2,151.1 375.6,151.1 377.0,151.2 378.3,151.3 379.7,151.6 381.1,151.8 382.5,152.1 383.8,152.4 385.2,152.7 386.6,153.1 387.9,153.5 389.3,154.0 390.7,154.6 392.0,155.1 393.4,155.7 394.8,156.3 396.2,156.9 397.5,157.6 398.9,158.3 400.3,159.0 401.6,159.7 403.0,160.3 404.4,160.9 405.8,161.4 407.1,161.9 408.5,162.4 409.9,162.9 411.2,163.2 412.6,163.5 414.0,163.7 415.4,163.9 416.7,164.1 418.1,164.2 419.5,164.4 420.8,164.5 422.2,164.6 423.6,164.6 425.0,164.7 426.3,164.8 427.7,164.8" fill="none" stroke="#2e8b57" stroke-width="0.6"/>
<rect x="443.50" y="189.80" width="3.70" height="9.54" fill="#7fba97" stroke="none" stroke-width="0" />
<rect x="443.50" y="199.94" width="5.50" height="9.54" fill="#7fba97" stroke="none" stroke-width="0" />
<rect x="443.50" y="210.08" width="10.00" height="9.54" fill="#7fba97" stroke="none" stroke-width="0" />
<rect x="443.50" y="220.22" width="9.20" height="9.54" fill="#7fba97" stroke="none" stroke-width="0" />
<rect x="443.50" y="230.36" width="17.00" height="9.54" fill="#7fba97" stroke="none" stroke-width="0" />
<rect x="443.50" y="240.50" width="15.00" height="9.54" fill="#7fba97" stroke="none" stroke-width="0" />
<rect x="443.50" y="250.64" width="8.20" height="9.54" fill="#7fba97" stroke="none" stroke-width="0" />
<polyline points="445.0,189.5 445.3,190.7 445.7,191.9 446.0,193.1 446.4,194.3 446.7,195.5 447.0,196.7 447.4,197.9 447.7,199.1 448.1,200.3 448.5,201.5 448.8,202.7 449.2,203.9 449.5,205.1 449.9,206.3 450.3,207.6 450.6,208.8 451.0,210.0 451.3,211.2 451.7,212.4 452.1,213.6 452.4,214.8 452.8,216.0 453.2,217.2 453.5,218.4 453.9,219.6 454.2,220.8 454.6,222.0 455.0,223.2 455.4,224.4 455.8,225.6 456.2,226.8 456.5,228.0 456.8,229.2 457.2,230.4 457.4,231.6 457.7,232.8 457.9,234.0 458.2,235.2 458.4,236.4 458.5,237.6 458.7,238.8 458.7,240.0 458.7,241.2 458.6,242.4 458.4,243.7 458.2,244.9 457.9,246.1 457.7,247.3 457.4,248.5 457.0,249.7 456.4,250.9 455.7,252.1 455.0,253.3 454.3,254.5 453.6,255.7 452.8,256.9 451.9,258.1 451.0,259.3 450.0,260.5" fill="none" stroke="#2e8b57" stroke-width="0.6"/>
<line x1="334.40" y1="165.40" x2="439.80" y2="165.40" stroke="#555" stroke-width="0.6" />
<line x1="443.50" y1="169.10" x2="443.50" y2="275.60" stroke="#555" stroke-width="0.6" />
<line x1="334.40" y1="169.10" x2="334.40" y2="275.60" stroke="#999" stroke-width="0.6" />
<line x1="334.40" y1="275.60" x2="439.80" y2="275.60" stroke="#999" stroke-width="0.6" />
<line x1="334.40" y1="275.60" x2="334.40" y2="277.00" stroke="#888" stroke-width="0.4" />
<text x="334.40" y="281.60" font-size="3.6" fill="#333" text-anchor="middle" stroke="#333" stroke-width="0.07" >0.0</text>
<line x1="334.40" y1="165.40" x2="334.40" y2="166.60" stroke="#888" stroke-width="0.4" />
<line x1="357.80" y1="275.60" x2="357.80" y2="277.00" stroke="#888" stroke-width="0.4" />
<text x="357.80" y="281.60" font-size="3.6" fill="#333" text-anchor="middle" stroke="#333" stroke-width="0.07" >10.0</text>
<line x1="357.80" y1="165.40" x2="357.80" y2="166.60" stroke="#888" stroke-width="0.4" />
<line x1="381.20" y1="275.60" x2="381.20" y2="277.00" stroke="#888" stroke-width="0.4" />
<text x="381.20" y="281.60" font-size="3.6" fill="#333" text-anchor="middle" stroke="#333" stroke-width="0.07" >20.0</text>
<line x1="381.20" y1="165.40" x2="381.20" y2="166.60" stroke="#888" stroke-width="0.4" />
<line x1="404.60" y1="275.60" x2="404.60" y2="277.00" stroke="#888" stroke-width="0.4" />
<text x="404.60" y="281.60" font-size="3.6" fill="#333" text-anchor="middle" stroke="#333" stroke-width="0.07" >30.0</text>
<line x1="404.60" y1="165.40" x2="404.60" y2="166.60" stroke="#888" stroke-width="0.4" />
<line x1="428.00" y1="275.60" x2="428.00" y2="277.00" stroke="#888" stroke-width="0.4" />
<text x="428.00" y="281.60" font-size="3.6" fill="#333" text-anchor="middle" stroke="#333" stroke-width="0.07" >40.0</text>
<line x1="428.00" y1="165.40" x2="428.00" y2="166.60" stroke="#888" stroke-width="0.4" />
<line x1="333.00" y1="275.60" x2="334.40" y2="275.60" stroke="#888" stroke-width="0.4" />
<text x="330.90" y="276.85" font-size="3.6" fill="#333" text-anchor="end" stroke="#333" stroke-width="0.07" >0.0</text>
<line x1="442.30" y1="275.60" x2="443.50" y2="275.60" stroke="#888" stroke-width="0.4" />
<line x1="333.00" y1="252.00" x2="334.40" y2="252.00" stroke="#888" stroke-width="0.4" />
<text x="330.90" y="253.25" font-size="3.6" fill="#333" text-anchor="end" stroke="#333" stroke-width="0.07" >10.0</text>
<line x1="442.30" y1="252.00" x2="443.50" y2="252.00" stroke="#888" stroke-width="0.4" />
<line x1="333.00" y1="228.50" x2="334.40" y2="228.50" stroke="#888" stroke-width="0.4" />
<text x="330.90" y="229.75" font-size="3.6" fill="#333" text-anchor="end" stroke="#333" stroke-width="0.07" >20.0</text>
<line x1="442.30" y1="228.50" x2="443.50" y2="228.50" stroke="#888" stroke-width="0.4" />
<line x1="333.00" y1="204.90" x2="334.40" y2="204.90" stroke="#888" stroke-width="0.4" />
<text x="330.90" y="206.15" font-size="3.6" fill="#333" text-anchor="end" stroke="#333" stroke-width="0.07" >30.0</text>
<line x1="442.30" y1="204.90" x2="443.50" y2="204.90" stroke="#888" stroke-width="0.4" />
<line x1="333.00" y1="181.30" x2="334.40" y2="181.30" stroke="#888" stroke-width="0.4" />
<text x="330.90" y="182.55" font-size="3.6" fill="#333" text-anchor="end" stroke="#333" stroke-width="0.07" >40.0</text>
<line x1="442.30" y1="181.30" x2="443.50" y2="181.30" stroke="#888" stroke-width="0.4" />
<line x1="346.60" y1="263.00" x2="427.60" y2="175.90" stroke="#2b7f4f" stroke-width="1.0" />
<circle cx="427.6" cy="189.5" r="1.5" fill="#2e8b57" fill-opacity="0.62"/>
<circle cx="393.5" cy="194.0" r="1.5" fill="#2e8b57" fill-opacity="0.62"/>
<circle cx="397.6" cy="196.4" r="1.5" fill="#2e8b57" fill-opacity="0.62"/>
<circle cx="411.2" cy="197.4" r="1.5" fill="#2e8b57" fill-opacity="0.62"/>
<circle cx="407.1" cy="201.5" r="1.5" fill="#2e8b57" fill-opacity="0.62"/>
<circle cx="419.1" cy="203.2" r="1.5" fill="#2e8b57" fill-opacity="0.62"/>
<circle cx="399.3" cy="206.6" r="1.5" fill="#2e8b57" fill-opacity="0.62"/>
<circle cx="395.2" cy="208.3" r="1.5" fill="#2e8b57" fill-opacity="0.62"/>
<circle cx="384.9" cy="210.0" r="1.5" fill="#2e8b57" fill-opacity="0.62"/>
<circle cx="390.0" cy="211.1" r="1.5" fill="#2e8b57" fill-opacity="0.62"/>
<circle cx="379.8" cy="212.4" r="1.5" fill="#2e8b57" fill-opacity="0.62"/>
<circle cx="383.2" cy="213.5" r="1.5" fill="#2e8b57" fill-opacity="0.62"/>
<circle cx="386.6" cy="215.8" r="1.5" fill="#2e8b57" fill-opacity="0.62"/>
<circle cx="393.5" cy="216.9" r="1.5" fill="#2e8b57" fill-opacity="0.62"/>
<circle cx="391.7" cy="218.6" r="1.5" fill="#2e8b57" fill-opacity="0.62"/>
<circle cx="367.8" cy="222.0" r="1.5" fill="#2e8b57" fill-opacity="0.62"/>
<circle cx="363.7" cy="223.0" r="1.5" fill="#2e8b57" fill-opacity="0.62"/>
<circle cx="380.8" cy="222.0" r="1.5" fill="#2e8b57" fill-opacity="0.62"/>
<circle cx="378.1" cy="223.7" r="1.5" fill="#2e8b57" fill-opacity="0.62"/>
<circle cx="366.1" cy="227.1" r="1.5" fill="#2e8b57" fill-opacity="0.62"/>
<circle cx="362.7" cy="228.1" r="1.5" fill="#2e8b57" fill-opacity="0.62"/>
<circle cx="393.5" cy="227.1" r="1.5" fill="#2e8b57" fill-opacity="0.62"/>
<circle cx="368.9" cy="231.6" r="1.5" fill="#2e8b57" fill-opacity="0.62"/>
<circle cx="370.6" cy="232.9" r="1.5" fill="#2e8b57" fill-opacity="0.62"/>
<circle cx="379.8" cy="235.0" r="1.5" fill="#2e8b57" fill-opacity="0.62"/>
<circle cx="378.1" cy="236.3" r="1.5" fill="#2e8b57" fill-opacity="0.62"/>
<circle cx="363.7" cy="236.7" r="1.5" fill="#2e8b57" fill-opacity="0.62"/>
<circle cx="349.0" cy="238.1" r="1.5" fill="#2e8b57" fill-opacity="0.62"/>
<circle cx="360.3" cy="239.1" r="1.5" fill="#2e8b57" fill-opacity="0.62"/>
<circle cx="350.1" cy="241.5" r="1.5" fill="#2e8b57" fill-opacity="0.62"/>
<circle cx="374.7" cy="239.8" r="1.5" fill="#2e8b57" fill-opacity="0.62"/>
<circle cx="376.4" cy="241.5" r="1.5" fill="#2e8b57" fill-opacity="0.62"/>
<circle cx="374.7" cy="243.5" r="1.5" fill="#2e8b57" fill-opacity="0.62"/>
<circle cx="378.1" cy="242.5" r="1.5" fill="#2e8b57" fill-opacity="0.62"/>
<circle cx="366.1" cy="244.2" r="1.5" fill="#2e8b57" fill-opacity="0.62"/>
<circle cx="367.8" cy="245.9" r="1.5" fill="#2e8b57" fill-opacity="0.62"/>
<circle cx="370.6" cy="248.6" r="1.5" fill="#2e8b57" fill-opacity="0.62"/>
<circle cx="371.9" cy="250.0" r="1.5" fill="#2e8b57" fill-opacity="0.62"/>
<circle cx="347.3" cy="248.6" r="1.5" fill="#2e8b57" fill-opacity="0.62"/>
<circle cx="356.9" cy="248.6" r="1.5" fill="#2e8b57" fill-opacity="0.62"/>
<circle cx="358.3" cy="250.0" r="1.5" fill="#2e8b57" fill-opacity="0.62"/>
<circle cx="357.6" cy="251.4" r="1.5" fill="#2e8b57" fill-opacity="0.62"/>
<circle cx="348.4" cy="251.0" r="1.5" fill="#2e8b57" fill-opacity="0.62"/>
<circle cx="346.6" cy="253.8" r="1.5" fill="#2e8b57" fill-opacity="0.62"/>
<circle cx="362.7" cy="250.0" r="1.5" fill="#2e8b57" fill-opacity="0.62"/>
<circle cx="355.9" cy="260.3" r="1.5" fill="#2e8b57" fill-opacity="0.62"/>
<circle cx="371.2" cy="242.5" r="1.5" fill="#2e8b57" fill-opacity="0.62"/>
<circle cx="382.5" cy="238.4" r="1.5" fill="#2e8b57" fill-opacity="0.62"/>
<circle cx="386.6" cy="220.3" r="1.5" fill="#2e8b57" fill-opacity="0.62"/>
<circle cx="375.3" cy="239.1" r="1.5" fill="#2e8b57" fill-opacity="0.62"/>
<rect x="380.80" y="250.00" width="59.20" height="20.20" fill="#fff" stroke="#888" stroke-width="0.5" />
<text x="383.10" y="258.20" font-size="5.9" fill="#222" text-anchor="start" stroke="#222" stroke-width="0.07" >y = 1.061x</text>
<text x="383.10" y="267.30" font-size="5.9" fill="#222" text-anchor="start" stroke="#222" stroke-width="0.07" >r=0.882, p=3.47e-18</text>
<text x="387.60" y="288.20" font-size="5.95" fill="#222" text-anchor="middle" stroke="#222" stroke-width="0.07" >Thickening fraction by wearable probe (%)</text>
<text x="321.60" y="224.75" font-size="5.97" fill="#222" text-anchor="middle" stroke="#222" stroke-width="0.07" transform="rotate(-90 321.6 224.75)" >Thickening fraction by Aixplorer's (%)</text>
<rect x="341.25" y="177.00" width="7.50" height="17.60" fill="#83dc83" stroke="#4a9e62" stroke-width="0.8" rx="0.3"/>
<path d="M348.95,183.10000000000002 A2.7,2.7 0 0 1 348.95,188.5" fill="none" stroke="#62a680" stroke-width="2.0"/>
<path d="M352.80,177.80 A13.20,13.20 0 0 1 352.80,193.80" fill="none" stroke="#62a680" stroke-width="2.8"/>
<path d="M357.80,174.30 A15.94,15.94 0 0 1 357.80,197.30" fill="none" stroke="#62a680" stroke-width="3.1"/>
<text x="72.90" y="309.80" font-size="8.5" fill="#111" text-anchor="middle" stroke="#111" stroke-width="0.08" font-weight="bold" >E</text>
<rect x="103.30" y="309.70" width="8.80" height="4.30" fill="#7fbde3" stroke="none" stroke-width="0" />
<rect x="112.70" y="308.70" width="8.80" height="5.30" fill="#7fbde3" stroke="none" stroke-width="0" />
<rect x="122.10" y="297.10" width="8.80" height="16.90" fill="#7fbde3" stroke="none" stroke-width="0" />
<rect x="131.50" y="304.80" width="8.80" height="9.20" fill="#7fbde3" stroke="none" stroke-width="0" />
<rect x="140.90" y="307.90" width="8.80" height="6.10" fill="#7fbde3" stroke="none" stroke-width="0" />
<rect x="150.30" y="312.40" width="8.80" height="1.60" fill="#7fbde3" stroke="none" stroke-width="0" />
<rect x="159.70" y="309.70" width="8.80" height="4.30" fill="#7fbde3" stroke="none" stroke-width="0" />
<rect x="169.10" y="312.80" width="8.80" height="1.20" fill="#7fbde3" stroke="none" stroke-width="0" />
<polyline points="103.0,312.0 104.3,311.8 105.5,311.5 106.8,311.2 108.1,310.8 109.4,310.4 110.6,310.0 111.9,309.5 113.2,309.0 114.4,308.5 115.7,307.8 117.0,307.1 118.3,306.5 119.5,305.8 120.8,305.0 122.1,304.1 123.3,303.2 124.6,302.4 125.9,301.7 127.2,301.5 128.4,301.4 129.7,301.3 131.0,301.3 132.2,301.3 133.5,301.5 134.8,302.0 136.1,302.6 137.3,303.2 138.6,303.7 139.9,304.3 141.1,304.9 142.4,305.5 143.7,306.1 144.9,306.6 146.2,307.1 147.5,307.5 148.8,307.8 150.0,308.2 151.3,308.5 152.6,308.8 153.8,309.1 155.1,309.3 156.4,309.5 157.7,309.7 158.9,309.8 160.2,310.0 161.5,310.1 162.7,310.3 164.0,310.4 165.3,310.6 166.6,310.8 167.8,311.0 169.1,311.2 170.4,311.4 171.6,311.6 172.9,311.8 174.2,312.0 175.5,312.3 176.7,312.5 178.0,312.8" fill="none" stroke="#3c8fd0" stroke-width="0.6"/>
<rect x="192.20" y="334.10" width="2.50" height="8.46" fill="#7fbde3" stroke="none" stroke-width="0" />
<rect x="192.20" y="343.16" width="8.20" height="8.46" fill="#7fbde3" stroke="none" stroke-width="0" />
<rect x="192.20" y="352.22" width="1.20" height="8.46" fill="#7fbde3" stroke="none" stroke-width="0" />
<rect x="192.20" y="361.28" width="6.70" height="8.46" fill="#7fbde3" stroke="none" stroke-width="0" />
<rect x="192.20" y="370.34" width="16.20" height="8.46" fill="#7fbde3" stroke="none" stroke-width="0" />
<rect x="192.20" y="379.40" width="9.20" height="8.46" fill="#7fbde3" stroke="none" stroke-width="0" />
<rect x="192.20" y="388.46" width="5.50" height="8.46" fill="#7fbde3" stroke="none" stroke-width="0" />
<rect x="192.20" y="397.52" width="1.70" height="8.46" fill="#7fbde3" stroke="none" stroke-width="0" />
<polyline points="193.4,333.8 193.7,335.0 193.9,336.3 194.2,337.5 194.5,338.7 194.7,339.9 195.0,341.2 195.3,342.4 195.6,343.6 195.9,344.9 196.2,346.1 196.5,347.3 196.8,348.5 197.0,349.8 197.1,351.0 197.2,352.2 197.3,353.5 197.4,354.7 197.5,355.9 197.6,357.1 197.8,358.4 198.1,359.6 198.5,360.8 198.9,362.1 199.5,363.3 200.0,364.5 200.5,365.7 201.2,367.0 201.9,368.2 202.6,369.4 203.2,370.7 203.7,371.9 204.0,373.1 204.3,374.4 204.6,375.6 204.7,376.8 204.6,378.0 204.3,379.3 203.8,380.5 203.3,381.7 202.7,383.0 202.2,384.2 201.5,385.4 200.8,386.6 200.1,387.9 199.4,389.1 198.7,390.3 198.1,391.6 197.6,392.8 197.0,394.0 196.5,395.2 196.0,396.5 195.5,397.7 195.1,398.9 194.7,400.2 194.3,401.4 193.9,402.6 193.6,403.8 193.3,405.1 193.0,406.3" fill="none" stroke="#3c8fd0" stroke-width="0.6"/>
<line x1="81.90" y1="314.00" x2="189.40" y2="314.00" stroke="#555" stroke-width="0.6" />
<line x1="192.20" y1="317.70" x2="192.20" y2="423.90" stroke="#555" stroke-width="0.6" />
<line x1="81.90" y1="317.70" x2="81.90" y2="423.90" stroke="#999" stroke-width="0.6" />
<line x1="81.90" y1="423.90" x2="189.40" y2="423.90" stroke="#999" stroke-width="0.6" />
<line x1="81.90" y1="423.90" x2="81.90" y2="425.30" stroke="#888" stroke-width="0.4" />
<text x="81.90" y="429.90" font-size="3.6" fill="#333" text-anchor="middle" stroke="#333" stroke-width="0.07" >0.0</text>
<line x1="81.90" y1="314.00" x2="81.90" y2="315.20" stroke="#888" stroke-width="0.4" />
<line x1="100.80" y1="423.90" x2="100.80" y2="425.30" stroke="#888" stroke-width="0.4" />
<text x="100.80" y="429.90" font-size="3.6" fill="#333" text-anchor="middle" stroke="#333" stroke-width="0.07" >5.0</text>
<line x1="100.80" y1="314.00" x2="100.80" y2="315.20" stroke="#888" stroke-width="0.4" />
<line x1="119.70" y1="423.90" x2="119.70" y2="425.30" stroke="#888" stroke-width="0.4" />
<text x="119.70" y="429.90" font-size="3.6" fill="#333" text-anchor="middle" stroke="#333" stroke-width="0.07" >10.0</text>
<line x1="119.70" y1="314.00" x2="119.70" y2="315.20" stroke="#888" stroke-width="0.4" />
<line x1="138.60" y1="423.90" x2="138.60" y2="425.30" stroke="#888" stroke-width="0.4" />
<text x="138.60" y="429.90" font-size="3.6" fill="#333" text-anchor="middle" stroke="#333" stroke-width="0.07" >15.0</text>
<line x1="138.60" y1="314.00" x2="138.60" y2="315.20" stroke="#888" stroke-width="0.4" />
<line x1="157.50" y1="423.90" x2="157.50" y2="425.30" stroke="#888" stroke-width="0.4" />
<text x="157.50" y="429.90" font-size="3.6" fill="#333" text-anchor="middle" stroke="#333" stroke-width="0.07" >20.0</text>
<line x1="157.50" y1="314.00" x2="157.50" y2="315.20" stroke="#888" stroke-width="0.4" />
<line x1="176.40" y1="423.90" x2="176.40" y2="425.30" stroke="#888" stroke-width="0.4" />
<text x="176.40" y="429.90" font-size="3.6" fill="#333" text-anchor="middle" stroke="#333" stroke-width="0.07" >25.0</text>
<line x1="176.40" y1="314.00" x2="176.40" y2="315.20" stroke="#888" stroke-width="0.4" />
<line x1="80.50" y1="423.90" x2="81.90" y2="423.90" stroke="#888" stroke-width="0.4" />
<text x="78.40" y="425.15" font-size="3.6" fill="#333" text-anchor="end" stroke="#333" stroke-width="0.07" >0.0</text>
<line x1="191.00" y1="423.90" x2="192.20" y2="423.90" stroke="#888" stroke-width="0.4" />
<line x1="80.50" y1="405.00" x2="81.90" y2="405.00" stroke="#888" stroke-width="0.4" />
<text x="78.40" y="406.25" font-size="3.6" fill="#333" text-anchor="end" stroke="#333" stroke-width="0.07" >5.0</text>
<line x1="191.00" y1="405.00" x2="192.20" y2="405.00" stroke="#888" stroke-width="0.4" />
<line x1="80.50" y1="386.10" x2="81.90" y2="386.10" stroke="#888" stroke-width="0.4" />
<text x="78.40" y="387.35" font-size="3.6" fill="#333" text-anchor="end" stroke="#333" stroke-width="0.07" >10.0</text>
<line x1="191.00" y1="386.10" x2="192.20" y2="386.10" stroke="#888" stroke-width="0.4" />
<line x1="80.50" y1="367.20" x2="81.90" y2="367.20" stroke="#888" stroke-width="0.4" />
<text x="78.40" y="368.45" font-size="3.6" fill="#333" text-anchor="end" stroke="#333" stroke-width="0.07" >15.0</text>
<line x1="191.00" y1="367.20" x2="192.20" y2="367.20" stroke="#888" stroke-width="0.4" />
<line x1="80.50" y1="348.30" x2="81.90" y2="348.30" stroke="#888" stroke-width="0.4" />
<text x="78.40" y="349.55" font-size="3.6" fill="#333" text-anchor="end" stroke="#333" stroke-width="0.07" >20.0</text>
<line x1="191.00" y1="348.30" x2="192.20" y2="348.30" stroke="#888" stroke-width="0.4" />
<line x1="80.50" y1="329.40" x2="81.90" y2="329.40" stroke="#888" stroke-width="0.4" />
<text x="78.40" y="330.65" font-size="3.6" fill="#333" text-anchor="end" stroke="#333" stroke-width="0.07" >25.0</text>
<line x1="191.00" y1="329.40" x2="192.20" y2="329.40" stroke="#888" stroke-width="0.4" />
<line x1="103.20" y1="403.20" x2="179.60" y2="327.10" stroke="#3583c4" stroke-width="1.0" />
<circle cx="163.2" cy="333.7" r="1.5" fill="#4a9fd6" fill-opacity="0.62"/>
<circle cx="178.0" cy="337.0" r="1.5" fill="#4a9fd6" fill-opacity="0.62"/>
<circle cx="168.8" cy="338.3" r="1.5" fill="#4a9fd6" fill-opacity="0.62"/>
<circle cx="166.5" cy="344.8" r="1.5" fill="#4a9fd6" fill-opacity="0.62"/>
<circle cx="159.9" cy="346.8" r="1.5" fill="#4a9fd6" fill-opacity="0.62"/>
<circle cx="155.0" cy="346.8" r="1.5" fill="#4a9fd6" fill-opacity="0.62"/>
<circle cx="150.1" cy="345.8" r="1.5" fill="#4a9fd6" fill-opacity="0.62"/>
<circle cx="147.8" cy="348.1" r="1.5" fill="#4a9fd6" fill-opacity="0.62"/>
<circle cx="153.4" cy="351.4" r="1.5" fill="#4a9fd6" fill-opacity="0.62"/>
<circle cx="161.6" cy="351.4" r="1.5" fill="#4a9fd6" fill-opacity="0.62"/>
<circle cx="133.7" cy="358.0" r="1.5" fill="#4a9fd6" fill-opacity="0.62"/>
<circle cx="136.0" cy="359.9" r="1.5" fill="#4a9fd6" fill-opacity="0.62"/>
<circle cx="143.5" cy="359.6" r="1.5" fill="#4a9fd6" fill-opacity="0.62"/>
<circle cx="126.5" cy="363.2" r="1.5" fill="#4a9fd6" fill-opacity="0.62"/>
<circle cx="127.8" cy="365.5" r="1.5" fill="#4a9fd6" fill-opacity="0.62"/>
<circle cx="137.0" cy="363.2" r="1.5" fill="#4a9fd6" fill-opacity="0.62"/>
<circle cx="149.1" cy="365.5" r="1.5" fill="#4a9fd6" fill-opacity="0.62"/>
<circle cx="142.9" cy="372.0" r="1.5" fill="#4a9fd6" fill-opacity="0.62"/>
<circle cx="121.6" cy="373.0" r="1.5" fill="#4a9fd6" fill-opacity="0.62"/>
<circle cx="140.2" cy="374.7" r="1.5" fill="#4a9fd6" fill-opacity="0.62"/>
<circle cx="129.8" cy="373.7" r="1.5" fill="#4a9fd6" fill-opacity="0.62"/>
<circle cx="132.0" cy="376.3" r="1.5" fill="#4a9fd6" fill-opacity="0.62"/>
<circle cx="126.5" cy="377.6" r="1.5" fill="#4a9fd6" fill-opacity="0.62"/>
<circle cx="120.6" cy="379.6" r="1.5" fill="#4a9fd6" fill-opacity="0.62"/>
<circle cx="123.2" cy="379.6" r="1.5" fill="#4a9fd6" fill-opacity="0.62"/>
<circle cx="133.0" cy="379.6" r="1.5" fill="#4a9fd6" fill-opacity="0.62"/>
<circle cx="138.6" cy="378.6" r="1.5" fill="#4a9fd6" fill-opacity="0.62"/>
<circle cx="118.9" cy="380.9" r="1.5" fill="#4a9fd6" fill-opacity="0.62"/>
<circle cx="121.6" cy="382.9" r="1.5" fill="#4a9fd6" fill-opacity="0.62"/>
<circle cx="131.4" cy="380.9" r="1.5" fill="#4a9fd6" fill-opacity="0.62"/>
<circle cx="119.6" cy="385.2" r="1.5" fill="#4a9fd6" fill-opacity="0.62"/>
<circle cx="122.2" cy="385.8" r="1.5" fill="#4a9fd6" fill-opacity="0.62"/>
<circle cx="133.7" cy="383.5" r="1.5" fill="#4a9fd6" fill-opacity="0.62"/>
<circle cx="128.8" cy="386.1" r="1.5" fill="#4a9fd6" fill-opacity="0.62"/>
<circle cx="127.1" cy="388.4" r="1.5" fill="#4a9fd6" fill-opacity="0.62"/>
<circle cx="124.5" cy="390.1" r="1.5" fill="#4a9fd6" fill-opacity="0.62"/>
<circle cx="118.9" cy="390.1" r="1.5" fill="#4a9fd6" fill-opacity="0.62"/>
<circle cx="115.7" cy="389.1" r="1.5" fill="#4a9fd6" fill-opacity="0.62"/>
<circle cx="102.5" cy="390.7" r="1.5" fill="#4a9fd6" fill-opacity="0.62"/>
<circle cx="109.1" cy="392.7" r="1.5" fill="#4a9fd6" fill-opacity="0.62"/>
<circle cx="110.1" cy="394.0" r="1.5" fill="#4a9fd6" fill-opacity="0.62"/>
<circle cx="105.8" cy="406.5" r="1.5" fill="#4a9fd6" fill-opacity="0.62"/>
<circle cx="106.5" cy="407.5" r="1.5" fill="#4a9fd6" fill-opacity="0.62"/>
<circle cx="130.4" cy="370.4" r="1.5" fill="#4a9fd6" fill-opacity="0.62"/>
<circle cx="135.3" cy="368.8" r="1.5" fill="#4a9fd6" fill-opacity="0.62"/>
<circle cx="124.8" cy="375.3" r="1.5" fill="#4a9fd6" fill-opacity="0.62"/>
<circle cx="129.1" cy="378.6" r="1.5" fill="#4a9fd6" fill-opacity="0.62"/>
<circle cx="123.9" cy="381.9" r="1.5" fill="#4a9fd6" fill-opacity="0.62"/>
<circle cx="117.3" cy="386.8" r="1.5" fill="#4a9fd6" fill-opacity="0.62"/>
<circle cx="132.4" cy="372.7" r="1.5" fill="#4a9fd6" fill-opacity="0.62"/>
<rect x="129.80" y="399.30" width="58.00" height="19.60" fill="#fff" stroke="#888" stroke-width="0.5" />
<text x="132.10" y="407.50" font-size="5.9" fill="#222" text-anchor="start" stroke="#222" stroke-width="0.07" >y = 0.999x</text>
<text x="132.10" y="416.60" font-size="5.9" fill="#222" text-anchor="start" stroke="#222" stroke-width="0.07" >r=0.893, p=1.16e-19</text>
<text x="133.70" y="436.80" font-size="5.95" fill="#222" text-anchor="middle" stroke="#222" stroke-width="0.07" >Excursion by wearable probe (mm)</text>
<text x="69.10" y="365.40" font-size="5.97" fill="#222" text-anchor="middle" stroke="#222" stroke-width="0.07" transform="rotate(-90 69.1 365.4)" >Excursion by Aixplorer's (mm)</text>
<path d="M95.0,325.2 C85.2,325.2 85.2,343.40000000000003 95.0,343.40000000000003 Z" fill="#7fd4f6" stroke="#4a9bd8" stroke-width="0.7"/>
<path d="M95.2,331.6 A2.7,2.7 0 0 1 95.2,337.0" fill="none" stroke="#68ade0" stroke-width="2.0"/>
<path d="M101.60,327.10 A10.14,10.14 0 0 1 101.60,341.50" fill="none" stroke="#68ade0" stroke-width="2.4"/>
<path d="M109.50,322.80 A14.95,14.95 0 0 1 109.50,345.80" fill="none" stroke="#68ade0" stroke-width="2.8"/>
<path d="M118.70,318.10 A23.18,23.18 0 0 1 118.70,350.50" fill="none" stroke="#68ade0" stroke-width="3.2"/>
<line x1="489.50" y1="22.80" x2="489.50" y2="128.80" stroke="#444" stroke-width="1.0" />
<line x1="489.00" y1="128.30" x2="684.00" y2="128.30" stroke="#444" stroke-width="1.0" />
<line x1="513.20" y1="128.30" x2="513.20" y2="130.70" stroke="#444" stroke-width="0.7" />
<text x="513.20" y="135.20" font-size="4.55" fill="#222" text-anchor="middle" stroke="#222" stroke-width="0.07" >1.5</text>
<line x1="543.30" y1="128.30" x2="543.30" y2="130.70" stroke="#444" stroke-width="0.7" />
<text x="543.30" y="135.20" font-size="4.55" fill="#222" text-anchor="middle" stroke="#222" stroke-width="0.07" >2.0</text>
<line x1="573.30" y1="128.30" x2="573.30" y2="130.70" stroke="#444" stroke-width="0.7" />
<text x="573.30" y="135.20" font-size="4.55" fill="#222" text-anchor="middle" stroke="#222" stroke-width="0.07" >2.5</text>
<line x1="603.30" y1="128.30" x2="603.30" y2="130.70" stroke="#444" stroke-width="0.7" />
<text x="603.30" y="135.20" font-size="4.55" fill="#222" text-anchor="middle" stroke="#222" stroke-width="0.07" >3.0</text>
<line x1="633.20" y1="128.30" x2="633.20" y2="130.70" stroke="#444" stroke-width="0.7" />
<text x="633.20" y="135.20" font-size="4.55" fill="#222" text-anchor="middle" stroke="#222" stroke-width="0.07" >3.5</text>
<line x1="663.20" y1="128.30" x2="663.20" y2="130.70" stroke="#444" stroke-width="0.7" />
<text x="663.20" y="135.20" font-size="4.55" fill="#222" text-anchor="middle" stroke="#222" stroke-width="0.07" >4.0</text>
<line x1="487.10" y1="34.10" x2="489.50" y2="34.10" stroke="#444" stroke-width="0.7" />
<text x="486.00" y="35.70" font-size="4.55" fill="#222" text-anchor="end" stroke="#222" stroke-width="0.07" >0.4</text>
<line x1="487.10" y1="53.20" x2="489.50" y2="53.20" stroke="#444" stroke-width="0.7" />
<text x="486.00" y="54.80" font-size="4.55" fill="#222" text-anchor="end" stroke="#222" stroke-width="0.07" >0.2</text>
<line x1="487.10" y1="72.30" x2="489.50" y2="72.30" stroke="#444" stroke-width="0.7" />
<text x="486.00" y="73.90" font-size="4.55" fill="#222" text-anchor="end" stroke="#222" stroke-width="0.07" >0.0</text>
<line x1="487.10" y1="91.40" x2="489.50" y2="91.40" stroke="#444" stroke-width="0.7" />
<text x="486.00" y="93.00" font-size="4.55" fill="#222" text-anchor="end" stroke="#222" stroke-width="0.07" >-0.2</text>
<line x1="487.10" y1="110.50" x2="489.50" y2="110.50" stroke="#444" stroke-width="0.7" />
<text x="486.00" y="112.10" font-size="4.55" fill="#222" text-anchor="end" stroke="#222" stroke-width="0.07" >-0.4</text>
<line x1="490.00" y1="49.30" x2="684.00" y2="49.30" stroke="#b4b4b4" stroke-width="0.6" stroke-dasharray="1.7 1.0" />
<line x1="490.00" y1="75.50" x2="684.00" y2="75.50" stroke="#c6c6c6" stroke-width="0.8" />
<line x1="490.00" y1="101.40" x2="684.00" y2="101.40" stroke="#b4b4b4" stroke-width="0.6" stroke-dasharray="1.7 1.0" />
<circle cx="544.6" cy="41.5" r="1.85" fill="#2e8b57" fill-opacity="0.62"/>
<circle cx="609.5" cy="49.5" r="1.85" fill="#2e8b57" fill-opacity="0.62"/>
<circle cx="562.9" cy="53.7" r="1.85" fill="#2e8b57" fill-opacity="0.62"/>
<circle cx="575.8" cy="54.6" r="1.85" fill="#2e8b57" fill-opacity="0.62"/>
<circle cx="498.7" cy="61.7" r="1.85" fill="#2e8b57" fill-opacity="0.62"/>
<circle cx="501.0" cy="62.7" r="1.85" fill="#2e8b57" fill-opacity="0.62"/>
<circle cx="510.9" cy="62.3" r="1.85" fill="#2e8b57" fill-opacity="0.62"/>
<circle cx="529.2" cy="63.3" r="1.85" fill="#2e8b57" fill-opacity="0.62"/>
<circle cx="543.7" cy="64.6" r="1.85" fill="#2e8b57" fill-opacity="0.62"/>
<circle cx="551.7" cy="62.7" r="1.85" fill="#2e8b57" fill-opacity="0.62"/>
<circle cx="515.7" cy="66.5" r="1.85" fill="#2e8b57" fill-opacity="0.62"/>
<circle cx="503.5" cy="67.8" r="1.85" fill="#2e8b57" fill-opacity="0.62"/>
<circle cx="521.5" cy="69.7" r="1.85" fill="#2e8b57" fill-opacity="0.62"/>
<circle cx="521.8" cy="71.0" r="1.85" fill="#2e8b57" fill-opacity="0.62"/>
<circle cx="543.0" cy="68.4" r="1.85" fill="#2e8b57" fill-opacity="0.62"/>
<circle cx="550.1" cy="67.8" r="1.85" fill="#2e8b57" fill-opacity="0.62"/>
<circle cx="549.5" cy="69.1" r="1.85" fill="#2e8b57" fill-opacity="0.62"/>
<circle cx="560.7" cy="67.5" r="1.85" fill="#2e8b57" fill-opacity="0.62"/>
<circle cx="565.5" cy="67.8" r="1.85" fill="#2e8b57" fill-opacity="0.62"/>
<circle cx="566.5" cy="68.1" r="1.85" fill="#2e8b57" fill-opacity="0.62"/>
<circle cx="583.8" cy="66.8" r="1.85" fill="#2e8b57" fill-opacity="0.62"/>
<circle cx="585.7" cy="66.8" r="1.85" fill="#2e8b57" fill-opacity="0.62"/>
<circle cx="641.0" cy="68.1" r="1.85" fill="#2e8b57" fill-opacity="0.62"/>
<circle cx="499.7" cy="72.6" r="1.85" fill="#2e8b57" fill-opacity="0.62"/>
<circle cx="514.1" cy="73.6" r="1.85" fill="#2e8b57" fill-opacity="0.62"/>
<circle cx="531.2" cy="72.6" r="1.85" fill="#2e8b57" fill-opacity="0.62"/>
<circle cx="545.3" cy="72.6" r="1.85" fill="#2e8b57" fill-opacity="0.62"/>
<circle cx="554.3" cy="72.6" r="1.85" fill="#2e8b57" fill-opacity="0.62"/>
<circle cx="556.5" cy="73.6" r="1.85" fill="#2e8b57" fill-opacity="0.62"/>
<circle cx="568.4" cy="72.6" r="1.85" fill="#2e8b57" fill-opacity="0.62"/>
<circle cx="585.7" cy="73.6" r="1.85" fill="#2e8b57" fill-opacity="0.62"/>
<circle cx="589.3" cy="74.2" r="1.85" fill="#2e8b57" fill-opacity="0.62"/>
<circle cx="633.3" cy="73.6" r="1.85" fill="#2e8b57" fill-opacity="0.62"/>
<circle cx="673.1" cy="76.8" r="1.85" fill="#2e8b57" fill-opacity="0.62"/>
<circle cx="498.4" cy="75.2" r="1.85" fill="#2e8b57" fill-opacity="0.62"/>
<circle cx="503.5" cy="76.5" r="1.85" fill="#2e8b57" fill-opacity="0.62"/>
<circle cx="504.5" cy="76.5" r="1.85" fill="#2e8b57" fill-opacity="0.62"/>
<circle cx="525.4" cy="78.4" r="1.85" fill="#2e8b57" fill-opacity="0.62"/>
<circle cx="526.0" cy="78.7" r="1.85" fill="#2e8b57" fill-opacity="0.62"/>
<circle cx="531.5" cy="78.4" r="1.85" fill="#2e8b57" fill-opacity="0.62"/>
<circle cx="539.8" cy="79.4" r="1.85" fill="#2e8b57" fill-opacity="0.62"/>
<circle cx="545.3" cy="76.8" r="1.85" fill="#2e8b57" fill-opacity="0.62"/>
<circle cx="575.1" cy="77.1" r="1.85" fill="#2e8b57" fill-opacity="0.62"/>
<circle cx="528.6" cy="84.2" r="1.85" fill="#2e8b57" fill-opacity="0.62"/>
<circle cx="533.1" cy="84.2" r="1.85" fill="#2e8b57" fill-opacity="0.62"/>
<circle cx="546.9" cy="83.2" r="1.85" fill="#2e8b57" fill-opacity="0.62"/>
<circle cx="561.3" cy="83.2" r="1.85" fill="#2e8b57" fill-opacity="0.62"/>
<circle cx="557.5" cy="85.8" r="1.85" fill="#2e8b57" fill-opacity="0.62"/>
<circle cx="518.3" cy="86.8" r="1.85" fill="#2e8b57" fill-opacity="0.62"/>
<circle cx="543.7" cy="86.1" r="1.85" fill="#2e8b57" fill-opacity="0.62"/>
<circle cx="542.1" cy="88.4" r="1.85" fill="#2e8b57" fill-opacity="0.62"/>
<circle cx="525.1" cy="89.3" r="1.85" fill="#2e8b57" fill-opacity="0.62"/>
<circle cx="551.1" cy="91.6" r="1.85" fill="#2e8b57" fill-opacity="0.62"/>
<circle cx="549.5" cy="92.5" r="1.85" fill="#2e8b57" fill-opacity="0.62"/>
<circle cx="522.8" cy="100.9" r="1.85" fill="#2e8b57" fill-opacity="0.62"/>
<circle cx="523.1" cy="101.2" r="1.85" fill="#2e8b57" fill-opacity="0.62"/>
<circle cx="566.8" cy="101.8" r="1.85" fill="#2e8b57" fill-opacity="0.62"/>
<circle cx="533.4" cy="103.8" r="1.85" fill="#2e8b57" fill-opacity="0.62"/>
<circle cx="571.0" cy="109.6" r="1.85" fill="#2e8b57" fill-opacity="0.62"/>
<text x="681.70" y="47.50" font-size="6.0" fill="#222" text-anchor="end" stroke="#222" stroke-width="0.07" >+1.96 SD</text>
<text x="681.70" y="55.30" font-size="6.0" fill="#222" text-anchor="end" stroke="#222" stroke-width="0.07" >+0.24</text>
<text x="681.70" y="73.20" font-size="6.0" fill="#222" text-anchor="end" stroke="#222" stroke-width="0.07" >Mean</text>
<text x="681.70" y="80.90" font-size="6.0" fill="#222" text-anchor="end" stroke="#222" stroke-width="0.07" >-0.03</text>
<text x="681.70" y="99.20" font-size="6.0" fill="#222" text-anchor="end" stroke="#222" stroke-width="0.07" >-1.96 SD</text>
<text x="681.70" y="106.90" font-size="6.0" fill="#222" text-anchor="end" stroke="#222" stroke-width="0.07" >-0.30</text>
<text x="588.60" y="25.20" font-size="7.0" fill="#111" text-anchor="middle" stroke="#111" stroke-width="0.08" font-weight="bold" font-style="italic" >Thickness</text>
<text x="590.20" y="141.40" font-size="5.9" fill="#222" text-anchor="middle" stroke="#222" stroke-width="0.07" >Mean (mm)</text>
<text x="474.60" y="74.20" font-size="5.9" fill="#222" text-anchor="middle" stroke="#222" stroke-width="0.07" transform="rotate(-90 474.6 74.2)" >Difference (mm)</text>
<line x1="489.50" y1="168.50" x2="489.50" y2="275.60" stroke="#444" stroke-width="1.0" />
<line x1="489.00" y1="275.10" x2="684.00" y2="275.10" stroke="#444" stroke-width="1.0" />
<line x1="491.30" y1="275.10" x2="491.30" y2="277.50" stroke="#444" stroke-width="0.7" />
<text x="491.30" y="282.00" font-size="4.55" fill="#222" text-anchor="middle" stroke="#222" stroke-width="0.07" >5.0</text>
<line x1="519.00" y1="275.10" x2="519.00" y2="277.50" stroke="#444" stroke-width="0.7" />
<text x="519.00" y="282.00" font-size="4.55" fill="#222" text-anchor="middle" stroke="#222" stroke-width="0.07" >10.0</text>
<line x1="546.60" y1="275.10" x2="546.60" y2="277.50" stroke="#444" stroke-width="0.7" />
<text x="546.60" y="282.00" font-size="4.55" fill="#222" text-anchor="middle" stroke="#222" stroke-width="0.07" >15.0</text>
<line x1="574.30" y1="275.10" x2="574.30" y2="277.50" stroke="#444" stroke-width="0.7" />
<text x="574.30" y="282.00" font-size="4.55" fill="#222" text-anchor="middle" stroke="#222" stroke-width="0.07" >20.0</text>
<line x1="602.00" y1="275.10" x2="602.00" y2="277.50" stroke="#444" stroke-width="0.7" />
<text x="602.00" y="282.00" font-size="4.55" fill="#222" text-anchor="middle" stroke="#222" stroke-width="0.07" >25.0</text>
<line x1="629.60" y1="275.10" x2="629.60" y2="277.50" stroke="#444" stroke-width="0.7" />
<text x="629.60" y="282.00" font-size="4.55" fill="#222" text-anchor="middle" stroke="#222" stroke-width="0.07" >30.0</text>
<line x1="657.30" y1="275.10" x2="657.30" y2="277.50" stroke="#444" stroke-width="0.7" />
<text x="657.30" y="282.00" font-size="4.55" fill="#222" text-anchor="middle" stroke="#222" stroke-width="0.07" >35.0</text>
<line x1="487.10" y1="188.40" x2="489.50" y2="188.40" stroke="#444" stroke-width="0.7" />
<text x="486.00" y="190.00" font-size="4.55" fill="#222" text-anchor="end" stroke="#222" stroke-width="0.07" >10.0</text>
<line x1="487.10" y1="209.40" x2="489.50" y2="209.40" stroke="#444" stroke-width="0.7" />
<text x="486.00" y="211.00" font-size="4.55" fill="#222" text-anchor="end" stroke="#222" stroke-width="0.07" >5.0</text>
<line x1="487.10" y1="230.50" x2="489.50" y2="230.50" stroke="#444" stroke-width="0.7" />
<text x="486.00" y="232.10" font-size="4.55" fill="#222" text-anchor="end" stroke="#222" stroke-width="0.07" >0.0</text>
<line x1="487.10" y1="251.70" x2="489.50" y2="251.70" stroke="#444" stroke-width="0.7" />
<text x="486.00" y="253.30" font-size="4.55" fill="#222" text-anchor="end" stroke="#222" stroke-width="0.07" >-5.0</text>
<line x1="487.10" y1="272.90" x2="489.50" y2="272.90" stroke="#444" stroke-width="0.7" />
<text x="486.00" y="274.50" font-size="4.55" fill="#222" text-anchor="end" stroke="#222" stroke-width="0.07" >-10.0</text>
<line x1="490.00" y1="189.40" x2="684.00" y2="189.40" stroke="#b4b4b4" stroke-width="0.6" stroke-dasharray="1.7 1.0" />
<line x1="490.00" y1="223.10" x2="684.00" y2="223.10" stroke="#c6c6c6" stroke-width="0.8" />
<line x1="490.00" y1="256.50" x2="684.00" y2="256.50" stroke="#b4b4b4" stroke-width="0.6" stroke-dasharray="1.7 1.0" />
<circle cx="525.4" cy="189.7" r="1.85" fill="#2e8b57" fill-opacity="0.62"/>
<circle cx="628.8" cy="191.3" r="1.85" fill="#2e8b57" fill-opacity="0.62"/>
<circle cx="552.3" cy="194.5" r="1.85" fill="#2e8b57" fill-opacity="0.62"/>
<circle cx="566.8" cy="195.1" r="1.85" fill="#2e8b57" fill-opacity="0.62"/>
<circle cx="522.2" cy="199.0" r="1.85" fill="#2e8b57" fill-opacity="0.62"/>
<circle cx="559.1" cy="199.3" r="1.85" fill="#2e8b57" fill-opacity="0.62"/>
<circle cx="590.9" cy="200.0" r="1.85" fill="#2e8b57" fill-opacity="0.62"/>
<circle cx="559.1" cy="204.5" r="1.85" fill="#2e8b57" fill-opacity="0.62"/>
<circle cx="510.3" cy="204.8" r="1.85" fill="#2e8b57" fill-opacity="0.62"/>
<circle cx="596.0" cy="205.7" r="1.85" fill="#2e8b57" fill-opacity="0.62"/>
<circle cx="600.5" cy="203.2" r="1.85" fill="#2e8b57" fill-opacity="0.62"/>
<circle cx="625.2" cy="204.8" r="1.85" fill="#2e8b57" fill-opacity="0.62"/>
<circle cx="509.3" cy="208.9" r="1.85" fill="#2e8b57" fill-opacity="0.62"/>
<circle cx="509.3" cy="211.2" r="1.85" fill="#2e8b57" fill-opacity="0.62"/>
<circle cx="503.5" cy="212.2" r="1.85" fill="#2e8b57" fill-opacity="0.62"/>
<circle cx="534.7" cy="210.9" r="1.85" fill="#2e8b57" fill-opacity="0.62"/>
<circle cx="540.8" cy="212.2" r="1.85" fill="#2e8b57" fill-opacity="0.62"/>
<circle cx="590.2" cy="210.2" r="1.85" fill="#2e8b57" fill-opacity="0.62"/>
<circle cx="546.2" cy="214.1" r="1.85" fill="#2e8b57" fill-opacity="0.62"/>
<circle cx="557.5" cy="214.1" r="1.85" fill="#2e8b57" fill-opacity="0.62"/>
<circle cx="596.7" cy="213.1" r="1.85" fill="#2e8b57" fill-opacity="0.62"/>
<circle cx="581.9" cy="215.1" r="1.85" fill="#2e8b57" fill-opacity="0.62"/>
<circle cx="605.3" cy="215.4" r="1.85" fill="#2e8b57" fill-opacity="0.62"/>
<circle cx="579.0" cy="217.9" r="1.85" fill="#2e8b57" fill-opacity="0.62"/>
<circle cx="611.1" cy="217.9" r="1.85" fill="#2e8b57" fill-opacity="0.62"/>
<circle cx="553.3" cy="219.9" r="1.85" fill="#2e8b57" fill-opacity="0.62"/>
<circle cx="523.8" cy="223.4" r="1.85" fill="#2e8b57" fill-opacity="0.62"/>
<circle cx="522.2" cy="223.7" r="1.85" fill="#2e8b57" fill-opacity="0.62"/>
<circle cx="521.2" cy="226.0" r="1.85" fill="#2e8b57" fill-opacity="0.62"/>
<circle cx="548.5" cy="224.7" r="1.85" fill="#2e8b57" fill-opacity="0.62"/>
<circle cx="573.5" cy="223.1" r="1.85" fill="#2e8b57" fill-opacity="0.62"/>
<circle cx="609.5" cy="223.4" r="1.85" fill="#2e8b57" fill-opacity="0.62"/>
<circle cx="611.4" cy="225.6" r="1.85" fill="#2e8b57" fill-opacity="0.62"/>
<circle cx="621.1" cy="223.1" r="1.85" fill="#2e8b57" fill-opacity="0.62"/>
<circle cx="602.4" cy="226.9" r="1.85" fill="#2e8b57" fill-opacity="0.62"/>
<circle cx="498.4" cy="228.9" r="1.85" fill="#2e8b57" fill-opacity="0.62"/>
<circle cx="520.2" cy="228.9" r="1.85" fill="#2e8b57" fill-opacity="0.62"/>
<circle cx="637.1" cy="228.9" r="1.85" fill="#2e8b57" fill-opacity="0.62"/>
<circle cx="646.4" cy="228.5" r="1.85" fill="#2e8b57" fill-opacity="0.62"/>
<circle cx="600.8" cy="233.0" r="1.85" fill="#2e8b57" fill-opacity="0.62"/>
<circle cx="523.1" cy="234.6" r="1.85" fill="#2e8b57" fill-opacity="0.62"/>
<circle cx="527.6" cy="233.7" r="1.85" fill="#2e8b57" fill-opacity="0.62"/>
<circle cx="564.6" cy="234.0" r="1.85" fill="#2e8b57" fill-opacity="0.62"/>
<circle cx="505.1" cy="241.1" r="1.85" fill="#2e8b57" fill-opacity="0.62"/>
<circle cx="554.3" cy="238.5" r="1.85" fill="#2e8b57" fill-opacity="0.62"/>
<circle cx="562.9" cy="239.5" r="1.85" fill="#2e8b57" fill-opacity="0.62"/>
<circle cx="561.3" cy="240.1" r="1.85" fill="#2e8b57" fill-opacity="0.62"/>
<circle cx="560.4" cy="240.4" r="1.85" fill="#2e8b57" fill-opacity="0.62"/>
<circle cx="546.2" cy="245.2" r="1.85" fill="#2e8b57" fill-opacity="0.62"/>
<circle cx="555.2" cy="244.0" r="1.85" fill="#2e8b57" fill-opacity="0.62"/>
<circle cx="552.7" cy="245.6" r="1.85" fill="#2e8b57" fill-opacity="0.62"/>
<circle cx="549.1" cy="247.5" r="1.85" fill="#2e8b57" fill-opacity="0.62"/>
<circle cx="530.2" cy="248.8" r="1.85" fill="#2e8b57" fill-opacity="0.62"/>
<circle cx="538.2" cy="248.8" r="1.85" fill="#2e8b57" fill-opacity="0.62"/>
<circle cx="590.6" cy="248.8" r="1.85" fill="#2e8b57" fill-opacity="0.62"/>
<circle cx="569.7" cy="254.2" r="1.85" fill="#2e8b57" fill-opacity="0.62"/>
<circle cx="648.7" cy="252.9" r="1.85" fill="#2e8b57" fill-opacity="0.62"/>
<circle cx="674.1" cy="244.0" r="1.85" fill="#2e8b57" fill-opacity="0.62"/>
<text x="681.70" y="188.00" font-size="6.0" fill="#222" text-anchor="end" stroke="#222" stroke-width="0.07" >+1.96 SD</text>
<text x="681.70" y="195.80" font-size="6.0" fill="#222" text-anchor="end" stroke="#222" stroke-width="0.07" >+9.74</text>
<text x="681.70" y="221.40" font-size="6.0" fill="#222" text-anchor="end" stroke="#222" stroke-width="0.07" >Mean</text>
<text x="681.70" y="229.20" font-size="6.0" fill="#222" text-anchor="end" stroke="#222" stroke-width="0.07" >1.82</text>
<text x="681.70" y="254.90" font-size="6.0" fill="#222" text-anchor="end" stroke="#222" stroke-width="0.07" >-1.96 SD</text>
<text x="681.70" y="262.20" font-size="6.0" fill="#222" text-anchor="end" stroke="#222" stroke-width="0.07" >-6.11</text>
<text x="588.60" y="172.50" font-size="7.0" fill="#111" text-anchor="middle" stroke="#111" stroke-width="0.08" font-weight="bold" font-style="italic" >Thickening fraction</text>
<text x="588.60" y="288.70" font-size="5.9" fill="#222" text-anchor="middle" stroke="#222" stroke-width="0.07" >Mean (%)</text>
<text x="474.60" y="228.90" font-size="5.9" fill="#222" text-anchor="middle" stroke="#222" stroke-width="0.07" transform="rotate(-90 474.6 228.9)" >Difference (%)</text>
<line x1="238.50" y1="317.70" x2="238.50" y2="424.90" stroke="#444" stroke-width="1.0" />
<line x1="238.00" y1="424.40" x2="433.40" y2="424.40" stroke="#444" stroke-width="1.0" />
<line x1="242.30" y1="424.40" x2="242.30" y2="426.80" stroke="#444" stroke-width="0.7" />
<text x="242.30" y="431.30" font-size="4.55" fill="#222" text-anchor="middle" stroke="#222" stroke-width="0.07" >5.0</text>
<line x1="265.70" y1="424.40" x2="265.70" y2="426.80" stroke="#444" stroke-width="0.7" />
<text x="265.70" y="431.30" font-size="4.55" fill="#222" text-anchor="middle" stroke="#222" stroke-width="0.07" >7.5</text>
<line x1="289.20" y1="424.40" x2="289.20" y2="426.80" stroke="#444" stroke-width="0.7" />
<text x="289.20" y="431.30" font-size="4.55" fill="#222" text-anchor="middle" stroke="#222" stroke-width="0.07" >10.0</text>
<line x1="312.60" y1="424.40" x2="312.60" y2="426.80" stroke="#444" stroke-width="0.7" />
<text x="312.60" y="431.30" font-size="4.55" fill="#222" text-anchor="middle" stroke="#222" stroke-width="0.07" >12.5</text>
<line x1="336.10" y1="424.40" x2="336.10" y2="426.80" stroke="#444" stroke-width="0.7" />
<text x="336.10" y="431.30" font-size="4.55" fill="#222" text-anchor="middle" stroke="#222" stroke-width="0.07" >15.0</text>
<line x1="359.50" y1="424.40" x2="359.50" y2="426.80" stroke="#444" stroke-width="0.7" />
<text x="359.50" y="431.30" font-size="4.55" fill="#222" text-anchor="middle" stroke="#222" stroke-width="0.07" >17.5</text>
<line x1="383.00" y1="424.40" x2="383.00" y2="426.80" stroke="#444" stroke-width="0.7" />
<text x="383.00" y="431.30" font-size="4.55" fill="#222" text-anchor="middle" stroke="#222" stroke-width="0.07" >20.0</text>
<line x1="406.40" y1="424.40" x2="406.40" y2="426.80" stroke="#444" stroke-width="0.7" />
<text x="406.40" y="431.30" font-size="4.55" fill="#222" text-anchor="middle" stroke="#222" stroke-width="0.07" >22.5</text>
<line x1="429.80" y1="424.40" x2="429.80" y2="426.80" stroke="#444" stroke-width="0.7" />
<text x="429.80" y="431.30" font-size="4.55" fill="#222" text-anchor="middle" stroke="#222" stroke-width="0.07" >25.0</text>
<line x1="236.10" y1="325.00" x2="238.50" y2="325.00" stroke="#444" stroke-width="0.7" />
<text x="235.00" y="326.60" font-size="4.55" fill="#222" text-anchor="end" stroke="#222" stroke-width="0.07" >8.0</text>
<line x1="236.10" y1="337.30" x2="238.50" y2="337.30" stroke="#444" stroke-width="0.7" />
<text x="235.00" y="338.90" font-size="4.55" fill="#222" text-anchor="end" stroke="#222" stroke-width="0.07" >6.0</text>
<line x1="236.10" y1="349.60" x2="238.50" y2="349.60" stroke="#444" stroke-width="0.7" />
<text x="235.00" y="351.20" font-size="4.55" fill="#222" text-anchor="end" stroke="#222" stroke-width="0.07" >4.0</text>
<line x1="236.10" y1="361.90" x2="238.50" y2="361.90" stroke="#444" stroke-width="0.7" />
<text x="235.00" y="363.50" font-size="4.55" fill="#222" text-anchor="end" stroke="#222" stroke-width="0.07" >2.0</text>
<line x1="236.10" y1="374.20" x2="238.50" y2="374.20" stroke="#444" stroke-width="0.7" />
<text x="235.00" y="375.80" font-size="4.55" fill="#222" text-anchor="end" stroke="#222" stroke-width="0.07" >0.0</text>
<line x1="236.10" y1="386.40" x2="238.50" y2="386.40" stroke="#444" stroke-width="0.7" />
<text x="235.00" y="388.00" font-size="4.55" fill="#222" text-anchor="end" stroke="#222" stroke-width="0.07" >-2.0</text>
<line x1="236.10" y1="398.70" x2="238.50" y2="398.70" stroke="#444" stroke-width="0.7" />
<text x="235.00" y="400.30" font-size="4.55" fill="#222" text-anchor="end" stroke="#222" stroke-width="0.07" >-4.0</text>
<line x1="236.10" y1="410.90" x2="238.50" y2="410.90" stroke="#444" stroke-width="0.7" />
<text x="235.00" y="412.50" font-size="4.55" fill="#222" text-anchor="end" stroke="#222" stroke-width="0.07" >-6.0</text>
<line x1="236.10" y1="423.10" x2="238.50" y2="423.10" stroke="#444" stroke-width="0.7" />
<text x="235.00" y="424.70" font-size="4.55" fill="#222" text-anchor="end" stroke="#222" stroke-width="0.07" >-8.0</text>
<line x1="239.00" y1="349.10" x2="433.40" y2="349.10" stroke="#b4b4b4" stroke-width="0.6" stroke-dasharray="1.7 1.0" />
<line x1="239.00" y1="373.50" x2="433.40" y2="373.50" stroke="#c6c6c6" stroke-width="0.8" />
<line x1="239.00" y1="398.30" x2="433.40" y2="398.30" stroke="#b4b4b4" stroke-width="0.6" stroke-dasharray="1.7 1.0" />
<circle cx="326.8" cy="348.2" r="1.85" fill="#4a9fd6" fill-opacity="0.62"/>
<circle cx="321.0" cy="349.8" r="1.85" fill="#4a9fd6" fill-opacity="0.62"/>
<circle cx="342.2" cy="352.0" r="1.85" fill="#4a9fd6" fill-opacity="0.62"/>
<circle cx="262.5" cy="354.3" r="1.85" fill="#4a9fd6" fill-opacity="0.62"/>
<circle cx="329.6" cy="354.9" r="1.85" fill="#4a9fd6" fill-opacity="0.62"/>
<circle cx="307.8" cy="357.2" r="1.85" fill="#4a9fd6" fill-opacity="0.62"/>
<circle cx="369.1" cy="357.8" r="1.85" fill="#4a9fd6" fill-opacity="0.62"/>
<circle cx="373.3" cy="358.8" r="1.85" fill="#4a9fd6" fill-opacity="0.62"/>
<circle cx="375.6" cy="359.4" r="1.85" fill="#4a9fd6" fill-opacity="0.62"/>
<circle cx="338.0" cy="359.1" r="1.85" fill="#4a9fd6" fill-opacity="0.62"/>
<circle cx="407.7" cy="360.1" r="1.85" fill="#4a9fd6" fill-opacity="0.62"/>
<circle cx="300.7" cy="362.0" r="1.85" fill="#4a9fd6" fill-opacity="0.62"/>
<circle cx="318.7" cy="362.3" r="1.85" fill="#4a9fd6" fill-opacity="0.62"/>
<circle cx="297.9" cy="364.2" r="1.85" fill="#4a9fd6" fill-opacity="0.62"/>
<circle cx="323.5" cy="365.2" r="1.85" fill="#4a9fd6" fill-opacity="0.62"/>
<circle cx="337.4" cy="365.5" r="1.85" fill="#4a9fd6" fill-opacity="0.62"/>
<circle cx="268.0" cy="367.8" r="1.85" fill="#4a9fd6" fill-opacity="0.62"/>
<circle cx="265.7" cy="369.4" r="1.85" fill="#4a9fd6" fill-opacity="0.62"/>
<circle cx="299.8" cy="368.4" r="1.85" fill="#4a9fd6" fill-opacity="0.62"/>
<circle cx="304.0" cy="370.0" r="1.85" fill="#4a9fd6" fill-opacity="0.62"/>
<circle cx="317.1" cy="368.7" r="1.85" fill="#4a9fd6" fill-opacity="0.62"/>
<circle cx="308.4" cy="371.0" r="1.85" fill="#4a9fd6" fill-opacity="0.62"/>
<circle cx="382.0" cy="368.7" r="1.85" fill="#4a9fd6" fill-opacity="0.62"/>
<circle cx="279.5" cy="371.9" r="1.85" fill="#4a9fd6" fill-opacity="0.62"/>
<circle cx="299.1" cy="373.9" r="1.85" fill="#4a9fd6" fill-opacity="0.62"/>
<circle cx="307.8" cy="373.2" r="1.85" fill="#4a9fd6" fill-opacity="0.62"/>
<circle cx="352.1" cy="372.6" r="1.85" fill="#4a9fd6" fill-opacity="0.62"/>
<circle cx="372.4" cy="372.6" r="1.85" fill="#4a9fd6" fill-opacity="0.62"/>
<circle cx="291.4" cy="374.2" r="1.85" fill="#4a9fd6" fill-opacity="0.62"/>
<circle cx="316.5" cy="374.5" r="1.85" fill="#4a9fd6" fill-opacity="0.62"/>
<circle cx="321.6" cy="376.4" r="1.85" fill="#4a9fd6" fill-opacity="0.62"/>
<circle cx="290.5" cy="377.7" r="1.85" fill="#4a9fd6" fill-opacity="0.62"/>
<circle cx="314.9" cy="377.1" r="1.85" fill="#4a9fd6" fill-opacity="0.62"/>
<circle cx="387.4" cy="377.4" r="1.85" fill="#4a9fd6" fill-opacity="0.62"/>
<circle cx="409.3" cy="376.8" r="1.85" fill="#4a9fd6" fill-opacity="0.62"/>
<circle cx="282.1" cy="380.3" r="1.85" fill="#4a9fd6" fill-opacity="0.62"/>
<circle cx="310.4" cy="380.0" r="1.85" fill="#4a9fd6" fill-opacity="0.62"/>
<circle cx="292.7" cy="383.5" r="1.85" fill="#4a9fd6" fill-opacity="0.62"/>
<circle cx="316.2" cy="384.5" r="1.85" fill="#4a9fd6" fill-opacity="0.62"/>
<circle cx="248.7" cy="384.5" r="1.85" fill="#4a9fd6" fill-opacity="0.62"/>
<circle cx="246.8" cy="386.7" r="1.85" fill="#4a9fd6" fill-opacity="0.62"/>
<circle cx="310.7" cy="386.1" r="1.85" fill="#4a9fd6" fill-opacity="0.62"/>
<circle cx="384.2" cy="385.4" r="1.85" fill="#4a9fd6" fill-opacity="0.62"/>
<circle cx="399.0" cy="385.4" r="1.85" fill="#4a9fd6" fill-opacity="0.62"/>
<circle cx="326.4" cy="387.3" r="1.85" fill="#4a9fd6" fill-opacity="0.62"/>
<circle cx="333.2" cy="389.3" r="1.85" fill="#4a9fd6" fill-opacity="0.62"/>
<circle cx="301.7" cy="390.2" r="1.85" fill="#4a9fd6" fill-opacity="0.62"/>
<circle cx="294.6" cy="392.2" r="1.85" fill="#4a9fd6" fill-opacity="0.62"/>
<circle cx="324.2" cy="391.5" r="1.85" fill="#4a9fd6" fill-opacity="0.62"/>
<circle cx="324.5" cy="391.2" r="1.85" fill="#4a9fd6" fill-opacity="0.62"/>
<circle cx="337.0" cy="391.2" r="1.85" fill="#4a9fd6" fill-opacity="0.62"/>
<circle cx="352.1" cy="390.2" r="1.85" fill="#4a9fd6" fill-opacity="0.62"/>
<circle cx="423.1" cy="389.9" r="1.85" fill="#4a9fd6" fill-opacity="0.62"/>
<circle cx="309.1" cy="394.1" r="1.85" fill="#4a9fd6" fill-opacity="0.62"/>
<text x="431.10" y="347.50" font-size="6.0" fill="#222" text-anchor="end" stroke="#222" stroke-width="0.07" >+1.96 SD</text>
<text x="431.10" y="354.90" font-size="6.0" fill="#222" text-anchor="end" stroke="#222" stroke-width="0.07" >+4.11</text>
<text x="431.10" y="371.90" font-size="6.0" fill="#222" text-anchor="end" stroke="#222" stroke-width="0.07" >Mean</text>
<text x="431.10" y="379.30" font-size="6.0" fill="#222" text-anchor="end" stroke="#222" stroke-width="0.07" >0.11</text>
<text x="431.10" y="396.30" font-size="6.0" fill="#222" text-anchor="end" stroke="#222" stroke-width="0.07" >-1.96 SD</text>
<text x="431.10" y="404.00" font-size="6.0" fill="#222" text-anchor="end" stroke="#222" stroke-width="0.07" >-3.90</text>
<text x="337.00" y="320.10" font-size="7.0" fill="#111" text-anchor="middle" stroke="#111" stroke-width="0.08" font-weight="bold" font-style="italic" >Excursion</text>
<text x="336.00" y="436.90" font-size="5.9" fill="#222" text-anchor="middle" stroke="#222" stroke-width="0.07" >Mean (mm)</text>
<text x="224.00" y="374.50" font-size="5.9" fill="#222" text-anchor="middle" stroke="#222" stroke-width="0.07" transform="rotate(-90 224 374.5)" >Difference (mm)</text>
<text x="490.60" y="309.20" font-size="8.5" fill="#111" text-anchor="middle" stroke="#111" stroke-width="0.08" font-weight="bold" >F</text>
<line x1="502.70" y1="317.40" x2="502.70" y2="425.35" stroke="#444" stroke-width="0.9" />
<line x1="502.25" y1="424.90" x2="530.40" y2="424.90" stroke="#444" stroke-width="0.9" />
<line x1="500.80" y1="329.20" x2="502.70" y2="329.20" stroke="#444" stroke-width="0.6" />
<text x="500.30" y="330.60" font-size="4.0" fill="#222" text-anchor="end" stroke="#222" stroke-width="0.07" >4.0</text>
<line x1="500.80" y1="345.50" x2="502.70" y2="345.50" stroke="#444" stroke-width="0.6" />
<text x="500.30" y="346.90" font-size="4.0" fill="#222" text-anchor="end" stroke="#222" stroke-width="0.07" >3.5</text>
<line x1="500.80" y1="361.90" x2="502.70" y2="361.90" stroke="#444" stroke-width="0.6" />
<text x="500.30" y="363.30" font-size="4.0" fill="#222" text-anchor="end" stroke="#222" stroke-width="0.07" >3.0</text>
<line x1="500.80" y1="378.20" x2="502.70" y2="378.20" stroke="#444" stroke-width="0.6" />
<text x="500.30" y="379.60" font-size="4.0" fill="#222" text-anchor="end" stroke="#222" stroke-width="0.07" >2.5</text>
<line x1="500.80" y1="394.50" x2="502.70" y2="394.50" stroke="#444" stroke-width="0.6" />
<text x="500.30" y="395.90" font-size="4.0" fill="#222" text-anchor="end" stroke="#222" stroke-width="0.07" >2.0</text>
<line x1="500.80" y1="410.90" x2="502.70" y2="410.90" stroke="#444" stroke-width="0.6" />
<text x="500.30" y="412.30" font-size="4.0" fill="#222" text-anchor="end" stroke="#222" stroke-width="0.07" >1.5</text>
<line x1="509.40" y1="369.40" x2="509.40" y2="379.50" stroke="#3a3a3a" stroke-width="0.75" />
<line x1="509.40" y1="401.00" x2="509.40" y2="418.20" stroke="#3a3a3a" stroke-width="0.75" />
<line x1="506.90" y1="369.40" x2="511.90" y2="369.40" stroke="#3a3a3a" stroke-width="0.75" />
<line x1="506.90" y1="418.20" x2="511.90" y2="418.20" stroke="#3a3a3a" stroke-width="0.75" />
<path d="M504.59999999999997,379.5 L514.1999999999999,379.5 L514.1999999999999,386.59999999999997 L511.79999999999995,391.4 L514.1999999999999,396.2 L514.1999999999999,401 L504.59999999999997,401 L504.59999999999997,396.2 L507.0,391.4 L504.59999999999997,386.59999999999997 Z" fill="#5878a4" stroke="#3a3a3a" stroke-width="0.65"/>
<line x1="507.00" y1="391.40" x2="511.80" y2="391.40" stroke="#3a3a3a" stroke-width="0.5" />
<line x1="509.40" y1="424.90" x2="509.40" y2="426.90" stroke="#444" stroke-width="0.6" />
<text x="508.90" y="432.70" font-size="4.65" fill="#222" text-anchor="middle" stroke="#222" stroke-width="0.07" >Male</text>
<line x1="523.70" y1="362.30" x2="523.70" y2="387.20" stroke="#3a3a3a" stroke-width="0.75" />
<line x1="523.70" y1="409.60" x2="523.70" y2="420.50" stroke="#3a3a3a" stroke-width="0.75" />
<line x1="521.20" y1="362.30" x2="526.20" y2="362.30" stroke="#3a3a3a" stroke-width="0.75" />
<line x1="521.20" y1="420.50" x2="526.20" y2="420.50" stroke="#3a3a3a" stroke-width="0.75" />
<path d="M518.9000000000001,387.2 L528.5,387.2 L528.5,394.3 L526.1,399.1 L528.5,403.90000000000003 L528.5,409.6 L518.9000000000001,409.6 L518.9000000000001,403.90000000000003 L521.3000000000001,399.1 L518.9000000000001,394.3 Z" fill="#c58b63" stroke="#3a3a3a" stroke-width="0.65"/>
<line x1="521.30" y1="399.10" x2="526.10" y2="399.10" stroke="#3a3a3a" stroke-width="0.5" />
<line x1="523.70" y1="424.90" x2="523.70" y2="426.90" stroke="#444" stroke-width="0.6" />
<text x="525.00" y="432.70" font-size="4.65" fill="#222" text-anchor="middle" stroke="#222" stroke-width="0.07" >Female</text>
<circle cx="509.3" cy="322.8" r="0.85" fill="#2e8b57" fill-opacity="0.75"/>
<circle cx="509.7" cy="342.0" r="0.85" fill="#2e8b57" fill-opacity="0.75"/>
<circle cx="510.9" cy="369.0" r="0.85" fill="#2e8b57" fill-opacity="0.75"/>
<circle cx="509.4" cy="371.0" r="0.85" fill="#2e8b57" fill-opacity="0.75"/>
<circle cx="509.5" cy="374.0" r="0.85" fill="#2e8b57" fill-opacity="0.75"/>
<circle cx="509.8" cy="377.0" r="0.85" fill="#2e8b57" fill-opacity="0.75"/>
<circle cx="508.5" cy="380.0" r="0.85" fill="#2e8b57" fill-opacity="0.75"/>
<circle cx="509.5" cy="383.0" r="0.85" fill="#2e8b57" fill-opacity="0.75"/>
<circle cx="509.9" cy="385.0" r="0.85" fill="#2e8b57" fill-opacity="0.75"/>
<circle cx="510.4" cy="387.0" r="0.85" fill="#2e8b57" fill-opacity="0.75"/>
<circle cx="508.2" cy="389.0" r="0.85" fill="#2e8b57" fill-opacity="0.75"/>
<circle cx="508.9" cy="391.0" r="0.85" fill="#2e8b57" fill-opacity="0.75"/>
<circle cx="508.2" cy="393.0" r="0.85" fill="#2e8b57" fill-opacity="0.75"/>
<circle cx="510.5" cy="395.0" r="0.85" fill="#2e8b57" fill-opacity="0.75"/>
<circle cx="510.1" cy="397.0" r="0.85" fill="#2e8b57" fill-opacity="0.75"/>
<circle cx="508.0" cy="399.0" r="0.85" fill="#2e8b57" fill-opacity="0.75"/>
<circle cx="511.0" cy="402.0" r="0.85" fill="#2e8b57" fill-opacity="0.75"/>
<circle cx="511.0" cy="405.0" r="0.85" fill="#2e8b57" fill-opacity="0.75"/>
<circle cx="510.0" cy="408.0" r="0.85" fill="#2e8b57" fill-opacity="0.75"/>
<circle cx="509.9" cy="411.0" r="0.85" fill="#2e8b57" fill-opacity="0.75"/>
<circle cx="508.4" cy="414.0" r="0.85" fill="#2e8b57" fill-opacity="0.75"/>
<circle cx="507.9" cy="417.0" r="0.85" fill="#2e8b57" fill-opacity="0.75"/>
<circle cx="509.6" cy="419.0" r="0.85" fill="#2e8b57" fill-opacity="0.75"/>
<circle cx="508.1" cy="419.5" r="0.85" fill="#2e8b57" fill-opacity="0.75"/>
<circle cx="522.7" cy="345.3" r="0.85" fill="#2e8b57" fill-opacity="0.75"/>
<circle cx="522.9" cy="363.0" r="0.85" fill="#2e8b57" fill-opacity="0.75"/>
<circle cx="522.2" cy="372.0" r="0.85" fill="#2e8b57" fill-opacity="0.75"/>
<circle cx="523.6" cy="377.0" r="0.85" fill="#2e8b57" fill-opacity="0.75"/>
<circle cx="523.5" cy="382.0" r="0.85" fill="#2e8b57" fill-opacity="0.75"/>
<circle cx="524.8" cy="386.0" r="0.85" fill="#2e8b57" fill-opacity="0.75"/>
<circle cx="523.8" cy="389.0" r="0.85" fill="#2e8b57" fill-opacity="0.75"/>
<circle cx="524.1" cy="392.0" r="0.85" fill="#2e8b57" fill-opacity="0.75"/>
<circle cx="523.7" cy="395.0" r="0.85" fill="#2e8b57" fill-opacity="0.75"/>
<circle cx="524.2" cy="398.0" r="0.85" fill="#2e8b57" fill-opacity="0.75"/>
<circle cx="523.6" cy="400.0" r="0.85" fill="#2e8b57" fill-opacity="0.75"/>
<circle cx="523.0" cy="403.0" r="0.85" fill="#2e8b57" fill-opacity="0.75"/>
<circle cx="525.3" cy="406.0" r="0.85" fill="#2e8b57" fill-opacity="0.75"/>
<circle cx="525.3" cy="409.0" r="0.85" fill="#2e8b57" fill-opacity="0.75"/>
<circle cx="524.8" cy="412.0" r="0.85" fill="#2e8b57" fill-opacity="0.75"/>
<circle cx="524.4" cy="415.0" r="0.85" fill="#2e8b57" fill-opacity="0.75"/>
<circle cx="523.1" cy="418.0" r="0.85" fill="#2e8b57" fill-opacity="0.75"/>
<circle cx="522.8" cy="420.0" r="0.85" fill="#2e8b57" fill-opacity="0.75"/>
<circle cx="523.0" cy="421.0" r="0.85" fill="#2e8b57" fill-opacity="0.75"/>
<text x="491.50" y="368.50" font-size="5.9" fill="#222" text-anchor="middle" stroke="#222" stroke-width="0.07" transform="rotate(-90 491.5 368.5)" >Thickness (mm)</text>
<line x1="549.10" y1="317.40" x2="549.10" y2="425.45" stroke="#444" stroke-width="0.9" />
<line x1="548.65" y1="425.00" x2="579.10" y2="425.00" stroke="#444" stroke-width="0.9" />
<line x1="547.20" y1="321.60" x2="549.10" y2="321.60" stroke="#444" stroke-width="0.6" />
<text x="546.70" y="323.00" font-size="4.0" fill="#222" text-anchor="end" stroke="#222" stroke-width="0.07" >40</text>
<line x1="547.20" y1="335.80" x2="549.10" y2="335.80" stroke="#444" stroke-width="0.6" />
<text x="546.70" y="337.20" font-size="4.0" fill="#222" text-anchor="end" stroke="#222" stroke-width="0.07" >35</text>
<line x1="547.20" y1="350.00" x2="549.10" y2="350.00" stroke="#444" stroke-width="0.6" />
<text x="546.70" y="351.40" font-size="4.0" fill="#222" text-anchor="end" stroke="#222" stroke-width="0.07" >30</text>
<line x1="547.20" y1="364.20" x2="549.10" y2="364.20" stroke="#444" stroke-width="0.6" />
<text x="546.70" y="365.60" font-size="4.0" fill="#222" text-anchor="end" stroke="#222" stroke-width="0.07" >25</text>
<line x1="547.20" y1="378.40" x2="549.10" y2="378.40" stroke="#444" stroke-width="0.6" />
<text x="546.70" y="379.80" font-size="4.0" fill="#222" text-anchor="end" stroke="#222" stroke-width="0.07" >20</text>
<line x1="547.20" y1="392.60" x2="549.10" y2="392.60" stroke="#444" stroke-width="0.6" />
<text x="546.70" y="394.00" font-size="4.0" fill="#222" text-anchor="end" stroke="#222" stroke-width="0.07" >15</text>
<line x1="547.20" y1="406.80" x2="549.10" y2="406.80" stroke="#444" stroke-width="0.6" />
<text x="546.70" y="408.20" font-size="4.0" fill="#222" text-anchor="end" stroke="#222" stroke-width="0.07" >10</text>
<line x1="547.20" y1="421.00" x2="549.10" y2="421.00" stroke="#444" stroke-width="0.6" />
<text x="546.70" y="422.40" font-size="4.0" fill="#222" text-anchor="end" stroke="#222" stroke-width="0.07" >5</text>
<line x1="556.40" y1="356.50" x2="556.40" y2="379.10" stroke="#3a3a3a" stroke-width="0.75" />
<line x1="556.40" y1="401.20" x2="556.40" y2="420.30" stroke="#3a3a3a" stroke-width="0.75" />
<line x1="553.90" y1="356.50" x2="558.90" y2="356.50" stroke="#3a3a3a" stroke-width="0.75" />
<line x1="553.90" y1="420.30" x2="558.90" y2="420.30" stroke="#3a3a3a" stroke-width="0.75" />
<path d="M551.6,379.1 L561.1999999999999,379.1 L561.1999999999999,384.0 L558.8,389.5 L561.1999999999999,395.0 L561.1999999999999,401.2 L551.6,401.2 L551.6,395.0 L554.0,389.5 L551.6,384.0 Z" fill="#5878a4" stroke="#3a3a3a" stroke-width="0.65"/>
<line x1="554.00" y1="389.50" x2="558.80" y2="389.50" stroke="#3a3a3a" stroke-width="0.5" />
<line x1="556.40" y1="425.00" x2="556.40" y2="427.00" stroke="#444" stroke-width="0.6" />
<text x="556.00" y="432.80" font-size="4.65" fill="#222" text-anchor="middle" stroke="#222" stroke-width="0.07" >Male</text>
<line x1="571.10" y1="322.60" x2="571.10" y2="364.40" stroke="#3a3a3a" stroke-width="0.75" />
<line x1="571.10" y1="403.50" x2="571.10" y2="417.40" stroke="#3a3a3a" stroke-width="0.75" />
<line x1="568.60" y1="322.60" x2="573.60" y2="322.60" stroke="#3a3a3a" stroke-width="0.75" />
<line x1="568.60" y1="417.40" x2="573.60" y2="417.40" stroke="#3a3a3a" stroke-width="0.75" />
<path d="M566.3000000000001,364.4 L575.9,364.4 L575.9,373.5 L573.5,381.5 L575.9,389.5 L575.9,403.5 L566.3000000000001,403.5 L566.3000000000001,389.5 L568.7,381.5 L566.3000000000001,373.5 Z" fill="#c58b63" stroke="#3a3a3a" stroke-width="0.65"/>
<line x1="568.70" y1="381.50" x2="573.50" y2="381.50" stroke="#3a3a3a" stroke-width="0.5" />
<line x1="571.10" y1="425.00" x2="571.10" y2="427.00" stroke="#444" stroke-width="0.6" />
<text x="572.20" y="432.80" font-size="4.65" fill="#222" text-anchor="middle" stroke="#222" stroke-width="0.07" >Female</text>
<circle cx="555.1" cy="332.0" r="0.85" fill="#2e8b57" fill-opacity="0.75"/>
<circle cx="557.4" cy="341.8" r="0.85" fill="#2e8b57" fill-opacity="0.75"/>
<circle cx="556.2" cy="346.8" r="0.85" fill="#2e8b57" fill-opacity="0.75"/>
<circle cx="557.6" cy="358.0" r="0.85" fill="#2e8b57" fill-opacity="0.75"/>
<circle cx="556.1" cy="364.0" r="0.85" fill="#2e8b57" fill-opacity="0.75"/>
<circle cx="558.0" cy="370.0" r="0.85" fill="#2e8b57" fill-opacity="0.75"/>
<circle cx="557.6" cy="375.0" r="0.85" fill="#2e8b57" fill-opacity="0.75"/>
<circle cx="554.9" cy="379.0" r="0.85" fill="#2e8b57" fill-opacity="0.75"/>
<circle cx="555.6" cy="381.0" r="0.85" fill="#2e8b57" fill-opacity="0.75"/>
<circle cx="557.8" cy="384.0" r="0.85" fill="#2e8b57" fill-opacity="0.75"/>
<circle cx="556.4" cy="386.0" r="0.85" fill="#2e8b57" fill-opacity="0.75"/>
<circle cx="558.0" cy="388.0" r="0.85" fill="#2e8b57" fill-opacity="0.75"/>
<circle cx="556.2" cy="390.0" r="0.85" fill="#2e8b57" fill-opacity="0.75"/>
<circle cx="555.1" cy="392.0" r="0.85" fill="#2e8b57" fill-opacity="0.75"/>
<circle cx="556.9" cy="394.0" r="0.85" fill="#2e8b57" fill-opacity="0.75"/>
<circle cx="557.4" cy="397.0" r="0.85" fill="#2e8b57" fill-opacity="0.75"/>
<circle cx="555.8" cy="400.0" r="0.85" fill="#2e8b57" fill-opacity="0.75"/>
<circle cx="555.2" cy="403.0" r="0.85" fill="#2e8b57" fill-opacity="0.75"/>
<circle cx="556.0" cy="406.0" r="0.85" fill="#2e8b57" fill-opacity="0.75"/>
<circle cx="558.0" cy="410.0" r="0.85" fill="#2e8b57" fill-opacity="0.75"/>
<circle cx="557.3" cy="414.0" r="0.85" fill="#2e8b57" fill-opacity="0.75"/>
<circle cx="555.3" cy="418.0" r="0.85" fill="#2e8b57" fill-opacity="0.75"/>
<circle cx="555.7" cy="420.0" r="0.85" fill="#2e8b57" fill-opacity="0.75"/>
<circle cx="555.2" cy="421.0" r="0.85" fill="#2e8b57" fill-opacity="0.75"/>
<circle cx="570.0" cy="322.5" r="0.85" fill="#2e8b57" fill-opacity="0.75"/>
<circle cx="572.4" cy="360.0" r="0.85" fill="#2e8b57" fill-opacity="0.75"/>
<circle cx="570.4" cy="366.0" r="0.85" fill="#2e8b57" fill-opacity="0.75"/>
<circle cx="571.6" cy="368.0" r="0.85" fill="#2e8b57" fill-opacity="0.75"/>
<circle cx="571.2" cy="371.0" r="0.85" fill="#2e8b57" fill-opacity="0.75"/>
<circle cx="570.4" cy="374.0" r="0.85" fill="#2e8b57" fill-opacity="0.75"/>
<circle cx="572.1" cy="377.0" r="0.85" fill="#2e8b57" fill-opacity="0.75"/>
<circle cx="570.2" cy="380.0" r="0.85" fill="#2e8b57" fill-opacity="0.75"/>
<circle cx="571.9" cy="383.0" r="0.85" fill="#2e8b57" fill-opacity="0.75"/>
<circle cx="570.2" cy="386.0" r="0.85" fill="#2e8b57" fill-opacity="0.75"/>
<circle cx="571.1" cy="390.0" r="0.85" fill="#2e8b57" fill-opacity="0.75"/>
<circle cx="570.5" cy="394.0" r="0.85" fill="#2e8b57" fill-opacity="0.75"/>
<circle cx="570.7" cy="398.0" r="0.85" fill="#2e8b57" fill-opacity="0.75"/>
<circle cx="572.9" cy="401.0" r="0.85" fill="#2e8b57" fill-opacity="0.75"/>
<circle cx="572.4" cy="404.0" r="0.85" fill="#2e8b57" fill-opacity="0.75"/>
<circle cx="570.8" cy="408.0" r="0.85" fill="#2e8b57" fill-opacity="0.75"/>
<circle cx="572.6" cy="411.0" r="0.85" fill="#2e8b57" fill-opacity="0.75"/>
<circle cx="570.5" cy="414.0" r="0.85" fill="#2e8b57" fill-opacity="0.75"/>
<circle cx="571.1" cy="417.0" r="0.85" fill="#2e8b57" fill-opacity="0.75"/>
<text x="540.00" y="369.50" font-size="5.9" fill="#222" text-anchor="middle" stroke="#222" stroke-width="0.07" transform="rotate(-90 540 369.5)" >Thickening fraction (%)</text>
<line x1="601.00" y1="317.40" x2="601.00" y2="425.05" stroke="#444" stroke-width="0.9" />
<line x1="600.55" y1="424.60" x2="629.00" y2="424.60" stroke="#444" stroke-width="0.9" />
<line x1="599.10" y1="325.40" x2="601.00" y2="325.40" stroke="#444" stroke-width="0.6" />
<text x="598.60" y="326.80" font-size="4.0" fill="#222" text-anchor="end" stroke="#222" stroke-width="0.07" >25.0</text>
<line x1="599.10" y1="337.60" x2="601.00" y2="337.60" stroke="#444" stroke-width="0.6" />
<text x="598.60" y="339.00" font-size="4.0" fill="#222" text-anchor="end" stroke="#222" stroke-width="0.07" >22.5</text>
<line x1="599.10" y1="349.80" x2="601.00" y2="349.80" stroke="#444" stroke-width="0.6" />
<text x="598.60" y="351.20" font-size="4.0" fill="#222" text-anchor="end" stroke="#222" stroke-width="0.07" >20.0</text>
<line x1="599.10" y1="362.00" x2="601.00" y2="362.00" stroke="#444" stroke-width="0.6" />
<text x="598.60" y="363.40" font-size="4.0" fill="#222" text-anchor="end" stroke="#222" stroke-width="0.07" >17.5</text>
<line x1="599.10" y1="374.20" x2="601.00" y2="374.20" stroke="#444" stroke-width="0.6" />
<text x="598.60" y="375.60" font-size="4.0" fill="#222" text-anchor="end" stroke="#222" stroke-width="0.07" >15.0</text>
<line x1="599.10" y1="386.40" x2="601.00" y2="386.40" stroke="#444" stroke-width="0.6" />
<text x="598.60" y="387.80" font-size="4.0" fill="#222" text-anchor="end" stroke="#222" stroke-width="0.07" >12.5</text>
<line x1="599.10" y1="398.60" x2="601.00" y2="398.60" stroke="#444" stroke-width="0.6" />
<text x="598.60" y="400.00" font-size="4.0" fill="#222" text-anchor="end" stroke="#222" stroke-width="0.07" >10.0</text>
<line x1="599.10" y1="410.80" x2="601.00" y2="410.80" stroke="#444" stroke-width="0.6" />
<text x="598.60" y="412.20" font-size="4.0" fill="#222" text-anchor="end" stroke="#222" stroke-width="0.07" >7.5</text>
<line x1="599.10" y1="423.00" x2="601.00" y2="423.00" stroke="#444" stroke-width="0.6" />
<text x="598.60" y="424.40" font-size="4.0" fill="#222" text-anchor="end" stroke="#222" stroke-width="0.07" >5.0</text>
<line x1="607.30" y1="322.60" x2="607.30" y2="360.90" stroke="#3a3a3a" stroke-width="0.75" />
<line x1="607.30" y1="392.40" x2="607.30" y2="420.30" stroke="#3a3a3a" stroke-width="0.75" />
<line x1="604.80" y1="322.60" x2="609.80" y2="322.60" stroke="#3a3a3a" stroke-width="0.75" />
<line x1="604.80" y1="420.30" x2="609.80" y2="420.30" stroke="#3a3a3a" stroke-width="0.75" />
<path d="M602.5,360.9 L612.0999999999999,360.9 L612.0999999999999,373.5 L609.6999999999999,379.7 L612.0999999999999,385.9 L612.0999999999999,392.4 L602.5,392.4 L602.5,385.9 L604.9,379.7 L602.5,373.5 Z" fill="#5878a4" stroke="#3a3a3a" stroke-width="0.65"/>
<line x1="604.90" y1="379.70" x2="609.70" y2="379.70" stroke="#3a3a3a" stroke-width="0.5" />
<line x1="607.30" y1="424.60" x2="607.30" y2="426.60" stroke="#444" stroke-width="0.6" />
<text x="606.90" y="432.40" font-size="4.65" fill="#222" text-anchor="middle" stroke="#222" stroke-width="0.07" >Male</text>
<line x1="620.60" y1="360.00" x2="620.60" y2="380.00" stroke="#3a3a3a" stroke-width="0.75" />
<line x1="620.60" y1="396.80" x2="620.60" y2="415.90" stroke="#3a3a3a" stroke-width="0.75" />
<line x1="618.10" y1="360.00" x2="623.10" y2="360.00" stroke="#3a3a3a" stroke-width="0.75" />
<line x1="618.10" y1="415.90" x2="623.10" y2="415.90" stroke="#3a3a3a" stroke-width="0.75" />
<path d="M615.8000000000001,380 L625.4,380 L625.4,384.0 L623.0,388.8 L625.4,393.6 L625.4,396.8 L615.8000000000001,396.8 L615.8000000000001,393.6 L618.2,388.8 L615.8000000000001,384.0 Z" fill="#c58b63" stroke="#3a3a3a" stroke-width="0.65"/>
<line x1="618.20" y1="388.80" x2="623.00" y2="388.80" stroke="#3a3a3a" stroke-width="0.5" />
<line x1="620.60" y1="424.60" x2="620.60" y2="426.60" stroke="#444" stroke-width="0.6" />
<text x="621.80" y="432.40" font-size="4.65" fill="#222" text-anchor="middle" stroke="#222" stroke-width="0.07" >Female</text>
<circle cx="608.7" cy="322.8" r="0.85" fill="#4a9fd6" fill-opacity="0.75"/>
<circle cx="608.1" cy="334.0" r="0.85" fill="#4a9fd6" fill-opacity="0.75"/>
<circle cx="606.3" cy="336.0" r="0.85" fill="#4a9fd6" fill-opacity="0.75"/>
<circle cx="609.2" cy="339.0" r="0.85" fill="#4a9fd6" fill-opacity="0.75"/>
<circle cx="606.7" cy="343.0" r="0.85" fill="#4a9fd6" fill-opacity="0.75"/>
<circle cx="606.8" cy="347.0" r="0.85" fill="#4a9fd6" fill-opacity="0.75"/>
<circle cx="608.5" cy="352.0" r="0.85" fill="#4a9fd6" fill-opacity="0.75"/>
<circle cx="607.1" cy="357.0" r="0.85" fill="#4a9fd6" fill-opacity="0.75"/>
<circle cx="606.9" cy="362.0" r="0.85" fill="#4a9fd6" fill-opacity="0.75"/>
<circle cx="606.2" cy="366.0" r="0.85" fill="#4a9fd6" fill-opacity="0.75"/>
<circle cx="606.3" cy="370.0" r="0.85" fill="#4a9fd6" fill-opacity="0.75"/>
<circle cx="607.9" cy="374.0" r="0.85" fill="#4a9fd6" fill-opacity="0.75"/>
<circle cx="606.8" cy="377.0" r="0.85" fill="#4a9fd6" fill-opacity="0.75"/>
<circle cx="607.9" cy="380.0" r="0.85" fill="#4a9fd6" fill-opacity="0.75"/>
<circle cx="607.2" cy="383.0" r="0.85" fill="#4a9fd6" fill-opacity="0.75"/>
<circle cx="607.5" cy="386.0" r="0.85" fill="#4a9fd6" fill-opacity="0.75"/>
<circle cx="609.1" cy="389.0" r="0.85" fill="#4a9fd6" fill-opacity="0.75"/>
<circle cx="607.5" cy="392.0" r="0.85" fill="#4a9fd6" fill-opacity="0.75"/>
<circle cx="607.8" cy="395.0" r="0.85" fill="#4a9fd6" fill-opacity="0.75"/>
<circle cx="608.8" cy="399.0" r="0.85" fill="#4a9fd6" fill-opacity="0.75"/>
<circle cx="606.6" cy="404.0" r="0.85" fill="#4a9fd6" fill-opacity="0.75"/>
<circle cx="606.5" cy="412.0" r="0.85" fill="#4a9fd6" fill-opacity="0.75"/>
<circle cx="608.9" cy="420.0" r="0.85" fill="#4a9fd6" fill-opacity="0.75"/>
<circle cx="622.0" cy="346.5" r="0.85" fill="#4a9fd6" fill-opacity="0.75"/>
<circle cx="620.2" cy="359.5" r="0.85" fill="#4a9fd6" fill-opacity="0.75"/>
<circle cx="620.0" cy="363.0" r="0.85" fill="#4a9fd6" fill-opacity="0.75"/>
<circle cx="621.8" cy="368.0" r="0.85" fill="#4a9fd6" fill-opacity="0.75"/>
<circle cx="622.4" cy="374.0" r="0.85" fill="#4a9fd6" fill-opacity="0.75"/>
<circle cx="620.0" cy="378.0" r="0.85" fill="#4a9fd6" fill-opacity="0.75"/>
<circle cx="622.4" cy="381.0" r="0.85" fill="#4a9fd6" fill-opacity="0.75"/>
<circle cx="622.2" cy="383.0" r="0.85" fill="#4a9fd6" fill-opacity="0.75"/>
<circle cx="621.3" cy="385.0" r="0.85" fill="#4a9fd6" fill-opacity="0.75"/>
<circle cx="620.7" cy="387.0" r="0.85" fill="#4a9fd6" fill-opacity="0.75"/>
<circle cx="619.7" cy="389.0" r="0.85" fill="#4a9fd6" fill-opacity="0.75"/>
<circle cx="619.5" cy="391.0" r="0.85" fill="#4a9fd6" fill-opacity="0.75"/>
<circle cx="622.5" cy="393.0" r="0.85" fill="#4a9fd6" fill-opacity="0.75"/>
<circle cx="620.2" cy="395.0" r="0.85" fill="#4a9fd6" fill-opacity="0.75"/>
<circle cx="621.7" cy="397.0" r="0.85" fill="#4a9fd6" fill-opacity="0.75"/>
<circle cx="620.2" cy="400.0" r="0.85" fill="#4a9fd6" fill-opacity="0.75"/>
<circle cx="622.0" cy="404.0" r="0.85" fill="#4a9fd6" fill-opacity="0.75"/>
<circle cx="621.3" cy="410.0" r="0.85" fill="#4a9fd6" fill-opacity="0.75"/>
<circle cx="620.3" cy="416.0" r="0.85" fill="#4a9fd6" fill-opacity="0.75"/>
<text x="589.70" y="369.50" font-size="5.9" fill="#222" text-anchor="middle" stroke="#222" stroke-width="0.07" transform="rotate(-90 589.7 369.5)" >Excursion (mm)</text>
</svg>
</body></html>
